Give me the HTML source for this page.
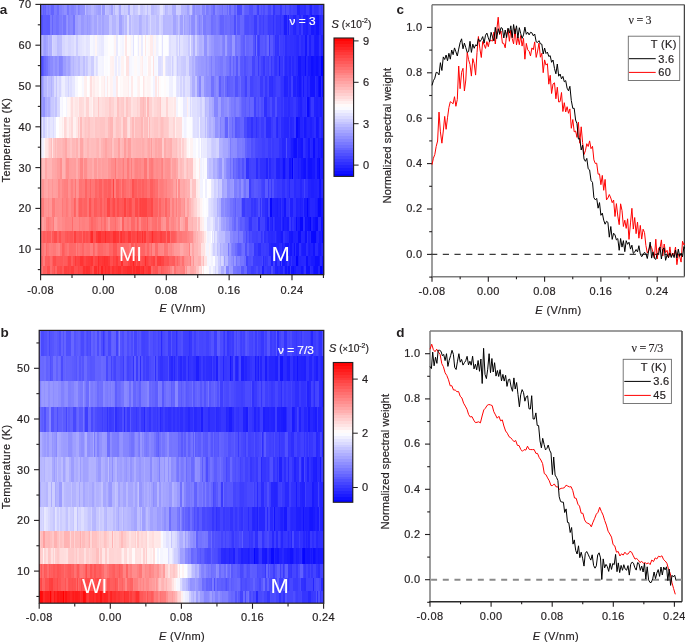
<!DOCTYPE html>
<html><head><meta charset="utf-8"><style>
html,body{margin:0;padding:0;background:#fff;}
body{width:685px;height:643px;position:relative;overflow:hidden;font-family:"Liberation Sans",sans-serif;}
.hb{position:absolute;}
svg{position:absolute;left:0;top:0;will-change:transform;}
svg text{font-family:"Liberation Sans",sans-serif;letter-spacing:0.35px;}
</style></head><body>
<div class="hb" style="left:40.6px;top:4.4px;width:283.2px;height:11.0px;background:linear-gradient(90deg,#6c6cff 0.0px 2.0px,#6060ff 2.0px 3.0px,#6767ff 3.0px 4.0px,#6262ff 4.0px 5.0px,#7373ff 5.0px 6.5px,#6c6cff 6.5px 7.5px,#7575ff 7.5px 9.0px,#7373ff 9.0px 10.0px,#6464ff 10.0px 11.5px,#6565ff 11.5px 12.5px,#7a7aff 12.5px 15.0px,#7878ff 15.0px 16.5px,#6c6cff 16.5px 18.5px,#8181ff 18.5px 20.5px,#8989ff 20.5px 22.0px,#8888ff 22.0px 23.5px,#9090ff 23.5px 25.5px,#8e8eff 25.5px 26.5px,#7777ff 26.5px 28.0px,#8888ff 28.0px 30.0px,#8181ff 30.0px 33.0px,#8888ff 33.0px 35.0px,#9696ff 35.0px 36.5px,#8282ff 36.5px 38.0px,#8989ff 38.0px 39.0px,#9191ff 39.0px 41.0px,#9292ff 41.0px 44.0px,#babaff 44.0px 45.0px,#a3a3ff 45.0px 47.5px,#aaaaff 47.5px 50.5px,#b5b5ff 50.5px 53.0px,#ababff 53.0px 55.0px,#a4a4ff 55.0px 57.0px,#9e9eff 57.0px 60.0px,#bdbdff 60.0px 61.0px,#9a9aff 61.0px 64.0px,#c3c3ff 64.0px 65.0px,#bcbcff 65.0px 68.0px,#b4b4ff 68.0px 70.0px,#a3a3ff 70.0px 72.0px,#c4c4ff 72.0px 73.0px,#b7b7ff 73.0px 74.0px,#ceceff 74.0px 77.0px,#c4c4ff 77.0px 78.5px,#aaaaff 78.5px 80.0px,#ceceff 80.0px 83.0px,#c6c6ff 83.0px 84.0px,#cbcbff 84.0px 86.0px,#cbcbff 86.0px 87.5px,#aeaeff 87.5px 89.5px,#d5d5ff 89.5px 92.0px,#c3c3ff 92.0px 94.5px,#cacaff 94.5px 96.0px,#ccccff 96.0px 97.5px,#ddddff 97.5px 99.0px,#cacaff 99.0px 100.5px,#c6c6ff 100.5px 102.5px,#cdcdff 102.5px 104.5px,#d7d7ff 104.5px 106.5px,#c1c1ff 106.5px 107.5px,#d5d5ff 107.5px 110.5px,#b9b9ff 110.5px 113.0px,#c0c0ff 113.0px 115.5px,#c7c7ff 115.5px 118.0px,#cfcfff 118.0px 119.0px,#e1e1ff 119.0px 122.0px,#ceceff 122.0px 123.5px,#ccccff 123.5px 124.5px,#b5b5ff 124.5px 125.5px,#bcbcff 125.5px 127.5px,#c8c8ff 127.5px 128.5px,#c4c4ff 128.5px 131.0px,#adadff 131.0px 132.5px,#ababff 132.5px 134.5px,#ceceff 134.5px 137.5px,#cdcdff 137.5px 140.5px,#b4b4ff 140.5px 143.5px,#b5b5ff 143.5px 144.5px,#b1b1ff 144.5px 146.5px,#a2a2ff 146.5px 148.0px,#b3b3ff 148.0px 149.0px,#c3c3ff 149.0px 151.0px,#9c9cff 151.0px 152.5px,#8b8bff 152.5px 154.5px,#9c9cff 154.5px 155.5px,#9494ff 155.5px 157.5px,#9393ff 157.5px 159.0px,#9b9bff 159.0px 161.0px,#8383ff 161.0px 162.5px,#8383ff 162.5px 164.0px,#9696ff 164.0px 165.5px,#7b7bff 165.5px 167.0px,#7f7fff 167.0px 168.5px,#8686ff 168.5px 169.5px,#8989ff 169.5px 170.5px,#7878ff 170.5px 172.0px,#6969ff 172.0px 174.0px,#8787ff 174.0px 176.0px,#8080ff 176.0px 178.0px,#7a7aff 178.0px 181.0px,#6f6fff 181.0px 182.5px,#7f7fff 182.5px 183.5px,#7b7bff 183.5px 186.5px,#6b6bff 186.5px 187.5px,#8080ff 187.5px 188.5px,#6464ff 188.5px 190.0px,#7575ff 190.0px 193.0px,#6262ff 193.0px 195.0px,#7171ff 195.0px 196.0px,#4a4aff 196.0px 198.5px,#4d4dff 198.5px 201.5px,#7171ff 201.5px 203.0px,#6262ff 203.0px 204.5px,#5d5dff 204.5px 207.5px,#5050ff 207.5px 209.0px,#4f4fff 209.0px 212.0px,#5e5eff 212.0px 214.0px,#6161ff 214.0px 215.0px,#5959ff 215.0px 216.0px,#4242ff 216.0px 217.0px,#3d3dff 217.0px 218.5px,#5959ff 218.5px 220.0px,#4f4fff 220.0px 221.0px,#5858ff 221.0px 222.5px,#4d4dff 222.5px 224.5px,#5959ff 224.5px 226.0px,#5555ff 226.0px 227.0px,#4646ff 227.0px 230.0px,#5555ff 230.0px 232.5px,#3535ff 232.5px 234.0px,#4646ff 234.0px 235.5px,#4747ff 235.5px 238.5px,#3737ff 238.5px 240.0px,#3939ff 240.0px 241.5px,#4e4eff 241.5px 243.0px,#5050ff 243.0px 244.0px,#3d3dff 244.0px 245.0px,#4e4eff 245.0px 248.0px,#4444ff 248.0px 249.0px,#3e3eff 249.0px 250.5px,#4545ff 250.5px 252.5px,#4040ff 252.5px 255.5px,#3f3fff 255.5px 256.5px,#2424ff 256.5px 259.5px,#3131ff 259.5px 261.5px,#3232ff 261.5px 263.0px,#2d2dff 263.0px 265.0px,#3d3dff 265.0px 268.0px,#3131ff 268.0px 269.5px,#2222ff 269.5px 271.5px,#3a3aff 271.5px 273.0px,#3131ff 273.0px 274.0px,#3131ff 274.0px 276.5px,#3636ff 276.5px 278.0px,#4343ff 278.0px 280.5px,#3a3aff 280.5px 281.5px,#4141ff 281.5px 283.0px,#2c2cff 283.0px 283.2px)"></div>
<div class="hb" style="left:40.6px;top:14.6px;width:283.2px;height:21.0px;background:linear-gradient(90deg,#5353ff 0.0px 1.5px,#5d5dff 1.5px 4.5px,#5c5cff 4.5px 6.0px,#5b5bff 6.0px 9.0px,#7a7aff 9.0px 10.5px,#6666ff 10.5px 12.0px,#7777ff 12.0px 14.5px,#7070ff 14.5px 17.0px,#7272ff 17.0px 18.5px,#7c7cff 18.5px 20.5px,#7474ff 20.5px 21.5px,#8686ff 21.5px 22.5px,#7676ff 22.5px 25.0px,#8e8eff 25.0px 26.0px,#9595ff 26.0px 27.0px,#8181ff 27.0px 28.0px,#8484ff 28.0px 29.0px,#8989ff 29.0px 30.5px,#8989ff 30.5px 32.5px,#7676ff 32.5px 34.5px,#9d9dff 34.5px 37.0px,#a6a6ff 37.0px 40.0px,#9898ff 40.0px 42.0px,#9999ff 42.0px 43.5px,#a1a1ff 43.5px 46.0px,#9797ff 46.0px 47.0px,#9f9fff 47.0px 48.0px,#9b9bff 48.0px 49.5px,#a0a0ff 49.5px 50.5px,#a7a7ff 50.5px 51.5px,#aeaeff 51.5px 53.5px,#a4a4ff 53.5px 55.5px,#b7b7ff 55.5px 57.0px,#ababff 57.0px 58.0px,#a7a7ff 58.0px 59.5px,#b0b0ff 59.5px 61.5px,#a3a3ff 61.5px 63.5px,#acacff 63.5px 66.5px,#acacff 66.5px 68.0px,#c4c4ff 68.0px 70.0px,#c4c4ff 70.0px 71.0px,#b4b4ff 71.0px 72.5px,#b5b5ff 72.5px 75.5px,#c3c3ff 75.5px 78.0px,#a2a2ff 78.0px 81.0px,#b3b3ff 81.0px 83.0px,#c4c4ff 83.0px 84.5px,#b9b9ff 84.5px 86.0px,#dbdbff 86.0px 88.5px,#b9b9ff 88.5px 90.0px,#ccccff 90.0px 91.0px,#c4c4ff 91.0px 93.0px,#bfbfff 93.0px 95.5px,#c1c1ff 95.5px 98.0px,#b0b0ff 98.0px 100.0px,#b4b4ff 100.0px 101.0px,#c2c2ff 101.0px 104.0px,#c7c7ff 104.0px 105.0px,#b9b9ff 105.0px 107.0px,#c8c8ff 107.0px 109.0px,#d7d7ff 109.0px 110.5px,#c6c6ff 110.5px 112.0px,#c6c6ff 112.0px 114.0px,#cbcbff 114.0px 115.0px,#bfbfff 115.0px 118.0px,#d3d3ff 118.0px 119.5px,#d4d4ff 119.5px 120.5px,#ccccff 120.5px 122.0px,#b6b6ff 122.0px 124.5px,#b8b8ff 124.5px 126.5px,#b8b8ff 126.5px 128.5px,#b7b7ff 128.5px 130.0px,#babaff 130.0px 132.5px,#a4a4ff 132.5px 135.5px,#b0b0ff 135.5px 137.0px,#c2c2ff 137.0px 138.5px,#b9b9ff 138.5px 139.5px,#a0a0ff 139.5px 142.0px,#bcbcff 142.0px 143.5px,#a0a0ff 143.5px 144.5px,#aaaaff 144.5px 146.0px,#a6a6ff 146.0px 148.0px,#9898ff 148.0px 149.0px,#a8a8ff 149.0px 150.0px,#9191ff 150.0px 151.0px,#8d8dff 151.0px 154.0px,#a9a9ff 154.0px 156.0px,#9292ff 156.0px 157.0px,#8f8fff 157.0px 158.0px,#8181ff 158.0px 159.0px,#8d8dff 159.0px 161.0px,#9c9cff 161.0px 162.5px,#7b7bff 162.5px 165.5px,#8383ff 165.5px 168.5px,#8181ff 168.5px 170.5px,#6e6eff 170.5px 172.0px,#7373ff 172.0px 173.0px,#7474ff 173.0px 175.0px,#7c7cff 175.0px 176.5px,#7676ff 176.5px 178.5px,#6e6eff 178.5px 179.5px,#6262ff 179.5px 181.5px,#6363ff 181.5px 183.5px,#7070ff 183.5px 184.5px,#6a6aff 184.5px 186.0px,#6d6dff 186.0px 189.0px,#6565ff 189.0px 190.0px,#6868ff 190.0px 193.0px,#4e4eff 193.0px 195.0px,#6f6fff 195.0px 196.5px,#5858ff 196.5px 197.5px,#5858ff 197.5px 199.5px,#6767ff 199.5px 201.5px,#6666ff 201.5px 203.5px,#5353ff 203.5px 204.5px,#4c4cff 204.5px 207.5px,#5252ff 207.5px 210.0px,#4e4eff 210.0px 213.0px,#3c3cff 213.0px 216.0px,#5252ff 216.0px 218.5px,#4242ff 218.5px 220.5px,#4848ff 220.5px 222.5px,#3e3eff 222.5px 223.5px,#4a4aff 223.5px 226.0px,#4646ff 226.0px 227.0px,#3b3bff 227.0px 228.0px,#3c3cff 228.0px 230.0px,#3e3eff 230.0px 232.5px,#3131ff 232.5px 233.5px,#4040ff 233.5px 235.5px,#3535ff 235.5px 236.5px,#3737ff 236.5px 238.5px,#3232ff 238.5px 240.0px,#3a3aff 240.0px 242.0px,#3333ff 242.0px 243.5px,#1c1cff 243.5px 246.0px,#3535ff 246.0px 247.0px,#2020ff 247.0px 248.5px,#3f3fff 248.5px 249.5px,#3232ff 249.5px 252.5px,#2626ff 252.5px 254.0px,#2424ff 254.0px 255.0px,#3030ff 255.0px 256.5px,#3434ff 256.5px 258.5px,#2828ff 258.5px 260.5px,#3a3aff 260.5px 262.5px,#2222ff 262.5px 265.0px,#1e1eff 265.0px 267.5px,#2828ff 267.5px 268.5px,#2a2aff 268.5px 270.0px,#1818ff 270.0px 273.0px,#1e1eff 273.0px 275.0px,#1414ff 275.0px 278.0px,#2626ff 278.0px 279.5px,#2626ff 279.5px 280.5px,#2c2cff 280.5px 282.5px,#1010ff 282.5px 283.2px)"></div>
<div class="hb" style="left:40.6px;top:34.8px;width:283.2px;height:21.5px;background:linear-gradient(90deg,#b2b2ff 0.0px 1.5px,#a5a5ff 1.5px 2.5px,#9d9dff 2.5px 5.0px,#a5a5ff 5.0px 6.5px,#b6b6ff 6.5px 7.5px,#aeaeff 7.5px 10.5px,#d5d5ff 10.5px 12.0px,#cfcfff 12.0px 13.5px,#ccccff 13.5px 16.0px,#bcbcff 16.0px 18.5px,#bfbfff 18.5px 20.5px,#d2d2ff 20.5px 21.5px,#d6d6ff 21.5px 24.5px,#dcdcff 24.5px 27.5px,#d5d5ff 27.5px 30.5px,#dadaff 30.5px 33.5px,#e2e2ff 33.5px 35.0px,#ceceff 35.0px 36.5px,#e0e0ff 36.5px 39.5px,#e2e2ff 39.5px 40.5px,#e6e6ff 40.5px 42.0px,#e6e6ff 42.0px 43.5px,#eaeaff 43.5px 45.5px,#e3e3ff 45.5px 47.0px,#e5e5ff 47.0px 49.5px,#f8f8ff 49.5px 50.5px,#f7f7ff 50.5px 52.0px,#f2f2ff 52.0px 54.5px,#fff5f5 54.5px 55.5px,#d2d2ff 55.5px 56.5px,#efefff 56.5px 58.5px,#ececff 58.5px 60.5px,#e8e8ff 60.5px 63.5px,#f8f8ff 63.5px 65.0px,#f9f9ff 65.0px 67.5px,#fffdfd 67.5px 69.5px,#fdfdff 69.5px 72.0px,#fafaff 72.0px 73.0px,#fff3f3 73.0px 75.0px,#e9e9ff 75.0px 76.5px,#fcfcff 76.5px 79.0px,#f8f8ff 79.0px 81.0px,#f4f4ff 81.0px 83.0px,#fffbfb 83.0px 84.0px,#ffe6e6 84.0px 86.0px,#fcfcff 86.0px 87.5px,#fffbfb 87.5px 89.5px,#fff6f6 89.5px 90.5px,#f7f7ff 90.5px 92.0px,#e3e3ff 92.0px 93.5px,#fefeff 93.5px 94.5px,#ffffff 94.5px 96.0px,#fafaff 96.0px 97.0px,#ececff 97.0px 98.5px,#fff9f9 98.5px 100.0px,#ebebff 100.0px 102.5px,#fffdfd 102.5px 104.5px,#ffe8e8 104.5px 105.5px,#fbfbff 105.5px 107.5px,#fff8f8 107.5px 109.0px,#ffebeb 109.0px 112.0px,#f3f3ff 112.0px 113.0px,#fff5f5 113.0px 115.0px,#f1f1ff 115.0px 117.0px,#f7f7ff 117.0px 118.0px,#fefeff 118.0px 120.0px,#f8f8ff 120.0px 121.0px,#e3e3ff 121.0px 122.5px,#fdfdff 122.5px 124.5px,#fdfdff 124.5px 127.0px,#f6f6ff 127.0px 128.5px,#dfdfff 128.5px 130.5px,#e5e5ff 130.5px 132.5px,#e5e5ff 132.5px 134.5px,#d6d6ff 134.5px 137.0px,#e8e8ff 137.0px 138.5px,#cdcdff 138.5px 139.5px,#e1e1ff 139.5px 142.0px,#dadaff 142.0px 143.0px,#d8d8ff 143.0px 145.0px,#d6d6ff 145.0px 147.0px,#c9c9ff 147.0px 149.0px,#e6e6ff 149.0px 150.0px,#c6c6ff 150.0px 152.0px,#b1b1ff 152.0px 154.0px,#d1d1ff 154.0px 156.0px,#bbbbff 156.0px 157.0px,#bbbbff 157.0px 158.0px,#afafff 158.0px 161.0px,#b5b5ff 161.0px 163.5px,#9292ff 163.5px 166.5px,#adadff 166.5px 168.0px,#a0a0ff 168.0px 170.0px,#9898ff 170.0px 171.5px,#9797ff 171.5px 173.5px,#8c8cff 173.5px 176.5px,#a4a4ff 176.5px 177.5px,#8e8eff 177.5px 179.0px,#9494ff 179.0px 181.5px,#8585ff 181.5px 182.5px,#7f7fff 182.5px 184.5px,#9e9eff 184.5px 186.0px,#8282ff 186.0px 187.0px,#7d7dff 187.0px 189.0px,#7979ff 189.0px 191.5px,#9797ff 191.5px 194.5px,#7373ff 194.5px 196.0px,#7b7bff 196.0px 197.5px,#7979ff 197.5px 199.0px,#7070ff 199.0px 200.0px,#6363ff 200.0px 202.0px,#5d5dff 202.0px 204.0px,#7474ff 204.0px 205.5px,#6565ff 205.5px 208.5px,#6a6aff 208.5px 210.0px,#6b6bff 210.0px 212.0px,#5353ff 212.0px 214.0px,#3f3fff 214.0px 215.0px,#6f6fff 215.0px 216.5px,#4444ff 216.5px 217.5px,#3a3aff 217.5px 218.5px,#4141ff 218.5px 219.5px,#5656ff 219.5px 222.5px,#5959ff 222.5px 224.5px,#5050ff 224.5px 225.5px,#5858ff 225.5px 226.5px,#6767ff 226.5px 228.0px,#3a3aff 228.0px 229.0px,#5757ff 229.0px 232.0px,#4747ff 232.0px 234.0px,#3232ff 234.0px 235.0px,#3535ff 235.0px 236.0px,#3232ff 236.0px 238.0px,#4747ff 238.0px 239.5px,#3e3eff 239.5px 240.5px,#3e3eff 240.5px 242.0px,#3a3aff 242.0px 243.5px,#3e3eff 243.5px 244.5px,#2d2dff 244.5px 246.5px,#3333ff 246.5px 248.0px,#3333ff 248.0px 249.0px,#3131ff 249.0px 252.0px,#3232ff 252.0px 253.0px,#2f2fff 253.0px 255.5px,#2b2bff 255.5px 256.5px,#2929ff 256.5px 258.0px,#3434ff 258.0px 260.0px,#2a2aff 260.0px 262.0px,#2e2eff 262.0px 264.0px,#1717ff 264.0px 266.5px,#3434ff 266.5px 268.5px,#1f1fff 268.5px 270.0px,#2e2eff 270.0px 271.0px,#2f2fff 271.0px 273.5px,#1e1eff 273.5px 274.5px,#1a1aff 274.5px 277.0px,#1d1dff 277.0px 278.5px,#2f2fff 278.5px 280.0px,#2121ff 280.0px 282.5px,#0707ff 282.5px 283.2px)"></div>
<div class="hb" style="left:40.6px;top:55.5px;width:283.2px;height:21.1px;background:linear-gradient(90deg,#5252ff 0.0px 1.5px,#5e5eff 1.5px 3.0px,#6b6bff 3.0px 4.5px,#7373ff 4.5px 5.5px,#7474ff 5.5px 7.0px,#8484ff 7.0px 9.0px,#8b8bff 9.0px 12.0px,#9696ff 12.0px 14.0px,#8d8dff 14.0px 16.5px,#9696ff 16.5px 17.5px,#8383ff 17.5px 19.0px,#8585ff 19.0px 20.5px,#8a8aff 20.5px 22.0px,#9d9dff 22.0px 25.0px,#a9a9ff 25.0px 27.5px,#a3a3ff 27.5px 29.0px,#afafff 29.0px 30.5px,#bcbcff 30.5px 32.0px,#b5b5ff 32.0px 33.0px,#c0c0ff 33.0px 35.0px,#c4c4ff 35.0px 37.0px,#bcbcff 37.0px 39.5px,#cdcdff 39.5px 42.0px,#bfbfff 42.0px 44.0px,#d2d2ff 44.0px 45.0px,#c7c7ff 45.0px 46.0px,#cbcbff 46.0px 47.5px,#dbdbff 47.5px 50.5px,#cdcdff 50.5px 53.5px,#eaeaff 53.5px 55.0px,#ddddff 55.0px 56.0px,#e3e3ff 56.0px 57.5px,#f5f5ff 57.5px 60.5px,#f5f5ff 60.5px 61.5px,#f3f3ff 61.5px 63.5px,#fffdfd 63.5px 64.5px,#fbfbff 64.5px 67.0px,#fefeff 67.0px 68.5px,#fcfcff 68.5px 69.5px,#fff2f2 69.5px 71.0px,#fff0f0 71.0px 73.0px,#f6f6ff 73.0px 74.5px,#ececff 74.5px 76.0px,#fff9f9 76.0px 77.0px,#f0f0ff 77.0px 79.0px,#f7f7ff 79.0px 80.5px,#fff2f2 80.5px 83.5px,#fdfdff 83.5px 85.0px,#ffe2e2 85.0px 88.0px,#f2f2ff 88.0px 89.5px,#f7f7ff 89.5px 91.0px,#fafaff 91.0px 93.0px,#fff9f9 93.0px 95.5px,#fafaff 95.5px 97.0px,#f9f9ff 97.0px 99.0px,#fff4f4 99.0px 101.5px,#ffecec 101.5px 102.5px,#fafaff 102.5px 103.5px,#f9f9ff 103.5px 106.5px,#fffdfd 106.5px 107.5px,#ffeeee 107.5px 110.0px,#fcfcff 110.0px 112.0px,#ffe0e0 112.0px 113.5px,#f7f7ff 113.5px 115.5px,#fafaff 115.5px 117.0px,#dedeff 117.0px 118.5px,#ddddff 118.5px 120.5px,#e2e2ff 120.5px 122.5px,#fff8f8 122.5px 124.5px,#e8e8ff 124.5px 125.5px,#dedeff 125.5px 127.5px,#dadaff 127.5px 130.0px,#e6e6ff 130.0px 131.0px,#d0d0ff 131.0px 132.5px,#dfdfff 132.5px 133.5px,#eaeaff 133.5px 134.5px,#dfdfff 134.5px 136.5px,#cacaff 136.5px 137.5px,#d4d4ff 137.5px 140.0px,#ccccff 140.0px 142.0px,#c9c9ff 142.0px 145.0px,#d9d9ff 145.0px 146.5px,#d7d7ff 146.5px 148.0px,#bcbcff 148.0px 149.5px,#bdbdff 149.5px 151.0px,#b0b0ff 151.0px 153.0px,#b9b9ff 153.0px 154.0px,#a8a8ff 154.0px 155.0px,#a2a2ff 155.0px 157.0px,#9c9cff 157.0px 160.0px,#9898ff 160.0px 163.0px,#9a9aff 163.0px 164.5px,#9797ff 164.5px 165.5px,#8e8eff 165.5px 166.5px,#9797ff 166.5px 167.5px,#9e9eff 167.5px 168.5px,#8d8dff 168.5px 170.0px,#7e7eff 170.0px 171.5px,#8d8dff 171.5px 174.0px,#7f7fff 174.0px 175.5px,#8181ff 175.5px 176.5px,#7d7dff 176.5px 179.5px,#7878ff 179.5px 182.0px,#8383ff 182.0px 185.0px,#7979ff 185.0px 186.5px,#7777ff 186.5px 188.0px,#6c6cff 188.0px 189.0px,#6161ff 189.0px 190.0px,#7878ff 190.0px 192.0px,#6464ff 192.0px 193.0px,#7171ff 193.0px 195.5px,#5858ff 195.5px 197.5px,#7575ff 197.5px 199.0px,#5b5bff 199.0px 200.0px,#5757ff 200.0px 202.0px,#5b5bff 202.0px 203.5px,#4f4fff 203.5px 205.0px,#5757ff 205.0px 207.0px,#5c5cff 207.0px 208.5px,#5d5dff 208.5px 211.0px,#4444ff 211.0px 214.0px,#5353ff 214.0px 217.0px,#3939ff 217.0px 218.0px,#4e4eff 218.0px 220.5px,#4242ff 220.5px 222.5px,#3737ff 222.5px 224.0px,#4a4aff 224.0px 225.5px,#4444ff 225.5px 227.0px,#3f3fff 227.0px 228.5px,#4d4dff 228.5px 230.5px,#3838ff 230.5px 231.5px,#4444ff 231.5px 232.5px,#4545ff 232.5px 233.5px,#3737ff 233.5px 234.5px,#3232ff 234.5px 236.5px,#3d3dff 236.5px 238.0px,#2020ff 238.0px 239.0px,#3737ff 239.0px 241.5px,#3535ff 241.5px 242.5px,#4545ff 242.5px 243.5px,#3434ff 243.5px 244.5px,#2828ff 244.5px 246.5px,#2e2eff 246.5px 248.0px,#2626ff 248.0px 250.0px,#3535ff 250.0px 251.0px,#2929ff 251.0px 253.0px,#3131ff 253.0px 255.0px,#2929ff 255.0px 257.0px,#1616ff 257.0px 260.0px,#2121ff 260.0px 262.0px,#2020ff 262.0px 264.5px,#0f0fff 264.5px 265.5px,#2727ff 265.5px 267.5px,#1a1aff 267.5px 270.5px,#0f0fff 270.5px 272.0px,#1313ff 272.0px 273.0px,#1616ff 273.0px 275.5px,#1010ff 275.5px 276.5px,#1717ff 276.5px 277.5px,#1515ff 277.5px 278.5px,#1b1bff 278.5px 280.0px,#0000ff 280.0px 283.0px,#0505ff 283.0px 283.2px)"></div>
<div class="hb" style="left:40.6px;top:75.8px;width:283.2px;height:21.5px;background:linear-gradient(90deg,#9a9aff 0.0px 1.5px,#a9a9ff 1.5px 3.0px,#b8b8ff 3.0px 6.0px,#c9c9ff 6.0px 7.0px,#bebeff 7.0px 10.0px,#b2b2ff 10.0px 11.0px,#c1c1ff 11.0px 13.0px,#dadaff 13.0px 15.5px,#c6c6ff 15.5px 16.5px,#dedeff 16.5px 18.5px,#d5d5ff 18.5px 20.0px,#e7e7ff 20.0px 21.5px,#eeeeff 21.5px 24.0px,#e1e1ff 24.0px 27.0px,#d4d4ff 27.0px 28.5px,#e4e4ff 28.5px 29.5px,#dedeff 29.5px 31.5px,#e7e7ff 31.5px 34.5px,#f7f7ff 34.5px 36.5px,#ffffff 36.5px 38.5px,#ffffff 38.5px 40.0px,#fffdfd 40.0px 41.5px,#f8f8ff 41.5px 43.0px,#ffefef 43.0px 44.5px,#ffeeee 44.5px 46.0px,#fefeff 46.0px 48.0px,#fff8f8 48.0px 49.5px,#ffdede 49.5px 51.5px,#fff1f1 51.5px 52.5px,#ffebeb 52.5px 54.0px,#fff4f4 54.0px 56.5px,#fff2f2 56.5px 58.5px,#fffdfd 58.5px 60.5px,#fff3f3 60.5px 61.5px,#fff3f3 61.5px 63.5px,#ffeaea 63.5px 64.5px,#f9f9ff 64.5px 65.5px,#ffe9e9 65.5px 67.0px,#fffafa 67.0px 69.0px,#fff2f2 69.0px 71.5px,#fff4f4 71.5px 72.5px,#f4f4ff 72.5px 75.0px,#ffe8e8 75.0px 77.5px,#fffefe 77.5px 79.0px,#fff8f8 79.0px 80.5px,#fffafa 80.5px 82.5px,#fff4f4 82.5px 84.5px,#fff4f4 84.5px 87.0px,#ffeded 87.0px 88.5px,#fbfbff 88.5px 90.0px,#ffeaea 90.0px 92.0px,#fffcfc 92.0px 93.0px,#fcfcff 93.0px 95.5px,#fff4f4 95.5px 97.0px,#fff0f0 97.0px 99.0px,#fffefe 99.0px 102.0px,#ffe5e5 102.0px 103.0px,#fff0f0 103.0px 104.5px,#fff8f8 104.5px 106.0px,#fff4f4 106.0px 109.0px,#fff7f7 109.0px 110.5px,#fdfdff 110.5px 112.5px,#f3f3ff 112.5px 114.5px,#ffe6e6 114.5px 116.0px,#fafaff 116.0px 117.5px,#ffe9e9 117.5px 118.5px,#fffbfb 118.5px 120.5px,#fefeff 120.5px 123.0px,#fffbfb 123.0px 125.5px,#fcfcff 125.5px 128.0px,#f1f1ff 128.0px 130.0px,#f0f0ff 130.0px 132.0px,#fbfbff 132.0px 134.5px,#e6e6ff 134.5px 136.0px,#e1e1ff 136.0px 138.5px,#e7e7ff 138.5px 139.5px,#d5d5ff 139.5px 141.0px,#e3e3ff 141.0px 142.5px,#d1d1ff 142.5px 144.0px,#e1e1ff 144.0px 146.5px,#dedeff 146.5px 149.5px,#c3c3ff 149.5px 151.0px,#aeaeff 151.0px 154.0px,#c4c4ff 154.0px 156.0px,#9f9fff 156.0px 158.5px,#8787ff 158.5px 160.0px,#afafff 160.0px 163.0px,#9595ff 163.0px 165.0px,#8e8eff 165.0px 167.0px,#8f8fff 167.0px 170.0px,#7171ff 170.0px 173.0px,#8383ff 173.0px 175.0px,#8d8dff 175.0px 176.5px,#6e6eff 176.5px 177.5px,#8282ff 177.5px 178.5px,#5f5fff 178.5px 180.0px,#7171ff 180.0px 182.0px,#6f6fff 182.0px 183.0px,#7f7fff 183.0px 184.5px,#6868ff 184.5px 186.5px,#5757ff 186.5px 187.5px,#5e5eff 187.5px 189.0px,#6262ff 189.0px 192.0px,#6868ff 192.0px 194.5px,#5252ff 194.5px 196.0px,#5353ff 196.0px 197.0px,#6161ff 197.0px 199.0px,#6a6aff 199.0px 200.0px,#5555ff 200.0px 203.0px,#5151ff 203.0px 204.0px,#4242ff 204.0px 206.0px,#5c5cff 206.0px 209.0px,#4343ff 209.0px 212.0px,#4848ff 212.0px 213.5px,#4b4bff 213.5px 216.5px,#4f4fff 216.5px 217.5px,#4e4eff 217.5px 219.0px,#3a3aff 219.0px 222.0px,#4848ff 222.0px 224.0px,#3737ff 224.0px 226.5px,#4343ff 226.5px 227.5px,#4747ff 227.5px 228.5px,#2f2fff 228.5px 229.5px,#3030ff 229.5px 231.5px,#2d2dff 231.5px 232.5px,#3737ff 232.5px 234.0px,#3a3aff 234.0px 235.0px,#4141ff 235.0px 236.5px,#4242ff 236.5px 238.5px,#3b3bff 238.5px 240.5px,#3333ff 240.5px 243.5px,#2121ff 243.5px 245.0px,#2323ff 245.0px 247.0px,#3232ff 247.0px 248.0px,#2727ff 248.0px 250.0px,#4040ff 250.0px 252.5px,#2121ff 252.5px 254.5px,#2929ff 254.5px 256.5px,#1d1dff 256.5px 258.0px,#1616ff 258.0px 260.0px,#2222ff 260.0px 261.5px,#2e2eff 261.5px 262.5px,#1919ff 262.5px 263.5px,#2c2cff 263.5px 266.0px,#1e1eff 266.0px 267.0px,#2525ff 267.0px 268.0px,#2727ff 268.0px 269.5px,#1515ff 269.5px 270.5px,#1414ff 270.5px 273.0px,#1414ff 273.0px 274.0px,#2d2dff 274.0px 275.5px,#2121ff 275.5px 277.0px,#1111ff 277.0px 278.0px,#0808ff 278.0px 280.5px,#2828ff 280.5px 281.5px,#1111ff 281.5px 283.2px)"></div>
<div class="hb" style="left:40.6px;top:96.5px;width:283.2px;height:21.4px;background:linear-gradient(90deg,#9b9bff 0.0px 1.5px,#9292ff 1.5px 3.5px,#acacff 3.5px 5.5px,#b5b5ff 5.5px 6.5px,#adadff 6.5px 9.0px,#bdbdff 9.0px 10.0px,#c8c8ff 10.0px 13.0px,#d1d1ff 13.0px 14.0px,#c3c3ff 14.0px 16.5px,#d9d9ff 16.5px 19.5px,#f9f9ff 19.5px 20.5px,#f5f5ff 20.5px 22.0px,#fefeff 22.0px 25.0px,#f4f4ff 25.0px 26.0px,#fff6f6 26.0px 29.0px,#ffecec 29.0px 30.0px,#ffdddd 30.0px 32.5px,#ffecec 32.5px 33.5px,#ffebeb 33.5px 34.5px,#ffe5e5 34.5px 37.5px,#ffebeb 37.5px 38.5px,#ffd9d9 38.5px 41.5px,#ffdcdc 41.5px 43.0px,#ffe9e9 43.0px 44.5px,#ffe7e7 44.5px 45.5px,#ffd4d4 45.5px 48.5px,#ffebeb 48.5px 51.5px,#fff3f3 51.5px 52.5px,#ffdbdb 52.5px 53.5px,#ffdcdc 53.5px 54.5px,#ffe2e2 54.5px 57.0px,#ffc8c8 57.0px 58.5px,#ffdfdf 58.5px 61.5px,#ffdbdb 61.5px 64.5px,#ffd6d6 64.5px 67.5px,#ffd7d7 67.5px 68.5px,#ffcaca 68.5px 70.5px,#ffd2d2 70.5px 73.0px,#ffdede 73.0px 76.0px,#ffc2c2 76.0px 78.0px,#ffd0d0 78.0px 80.0px,#ffcbcb 80.0px 82.0px,#ffc8c8 82.0px 83.0px,#ffdcdc 83.0px 85.0px,#ffc6c6 85.0px 87.5px,#ffd0d0 87.5px 90.0px,#ffe2e2 90.0px 92.5px,#ffdcdc 92.5px 95.5px,#ffd2d2 95.5px 97.5px,#ffd7d7 97.5px 99.5px,#ffc0c0 99.5px 102.0px,#ffb8b8 102.0px 103.0px,#ffc3c3 103.0px 105.0px,#ffdfdf 105.0px 106.5px,#ffb9b9 106.5px 108.5px,#ffd1d1 108.5px 111.5px,#ffdfdf 111.5px 113.5px,#ffd7d7 113.5px 116.5px,#ffd2d2 116.5px 119.0px,#ffc8c8 119.0px 120.5px,#ffe9e9 120.5px 122.5px,#ffeaea 122.5px 125.5px,#ffd5d5 125.5px 127.0px,#ffeaea 127.0px 128.0px,#ffeaea 128.0px 130.5px,#ffebeb 130.5px 132.5px,#ffefef 132.5px 133.5px,#ffe6e6 133.5px 135.5px,#f4f4ff 135.5px 137.5px,#fffefe 137.5px 139.0px,#fcfcff 139.0px 140.5px,#fbfbff 140.5px 142.5px,#e8e8ff 142.5px 144.5px,#e9e9ff 144.5px 146.0px,#ffeeee 146.0px 147.5px,#f2f2ff 147.5px 149.5px,#dcdcff 149.5px 150.5px,#ebebff 150.5px 151.5px,#dfdfff 151.5px 153.0px,#dfdfff 153.0px 155.0px,#e0e0ff 155.0px 156.0px,#dadaff 156.0px 159.0px,#cfcfff 159.0px 160.5px,#ddddff 160.5px 163.0px,#d6d6ff 163.0px 164.0px,#b9b9ff 164.0px 165.5px,#bfbfff 165.5px 167.5px,#ababff 167.5px 169.0px,#afafff 169.0px 171.5px,#a6a6ff 171.5px 173.5px,#8686ff 173.5px 176.5px,#9696ff 176.5px 177.5px,#9e9eff 177.5px 180.0px,#8282ff 180.0px 181.0px,#8585ff 181.0px 183.0px,#8d8dff 183.0px 184.0px,#8c8cff 184.0px 186.5px,#9494ff 186.5px 188.5px,#8585ff 188.5px 190.0px,#7b7bff 190.0px 191.0px,#7d7dff 191.0px 193.0px,#7575ff 193.0px 194.0px,#7575ff 194.0px 195.0px,#8080ff 195.0px 198.0px,#7777ff 198.0px 199.0px,#7474ff 199.0px 200.0px,#6868ff 200.0px 201.5px,#6060ff 201.5px 204.5px,#5b5bff 204.5px 205.5px,#6565ff 205.5px 208.0px,#5959ff 208.0px 209.0px,#6565ff 209.0px 212.0px,#6363ff 212.0px 213.5px,#4141ff 213.5px 214.5px,#5454ff 214.5px 217.5px,#4b4bff 217.5px 218.5px,#5757ff 218.5px 220.0px,#4b4bff 220.0px 222.0px,#5252ff 222.0px 223.5px,#2f2fff 223.5px 226.0px,#4040ff 226.0px 227.0px,#3f3fff 227.0px 229.0px,#4b4bff 229.0px 231.0px,#3838ff 231.0px 233.0px,#3939ff 233.0px 234.5px,#5050ff 234.5px 236.0px,#3838ff 236.0px 239.0px,#3a3aff 239.0px 240.5px,#3333ff 240.5px 242.5px,#3d3dff 242.5px 243.5px,#2e2eff 243.5px 245.5px,#3131ff 245.5px 247.0px,#2a2aff 247.0px 249.0px,#3131ff 249.0px 252.0px,#3737ff 252.0px 253.0px,#3939ff 253.0px 254.5px,#2e2eff 254.5px 257.5px,#2424ff 257.5px 259.0px,#2020ff 259.0px 261.0px,#2b2bff 261.0px 262.5px,#2e2eff 262.5px 264.0px,#2b2bff 264.0px 265.5px,#3535ff 265.5px 266.5px,#0a0aff 266.5px 268.0px,#1818ff 268.0px 269.0px,#2828ff 269.0px 270.5px,#3838ff 270.5px 273.5px,#2222ff 273.5px 275.5px,#1f1fff 275.5px 277.0px,#2323ff 277.0px 279.5px,#1e1eff 279.5px 281.0px,#2626ff 281.0px 282.5px,#1c1cff 282.5px 283.2px)"></div>
<div class="hb" style="left:40.6px;top:117.1px;width:283.2px;height:21.2px;background:linear-gradient(90deg,#ccccff 0.0px 1.0px,#e3e3ff 1.0px 2.0px,#ccccff 2.0px 4.0px,#dedeff 4.0px 5.5px,#ebebff 5.5px 7.0px,#e0e0ff 7.0px 9.0px,#e6e6ff 9.0px 11.5px,#dcdcff 11.5px 12.5px,#eaeaff 12.5px 14.5px,#ffffff 14.5px 17.5px,#fff7f7 17.5px 20.5px,#ffeeee 20.5px 22.0px,#fff5f5 22.0px 23.5px,#ffd7d7 23.5px 25.5px,#ffe0e0 25.5px 26.5px,#ffeeee 26.5px 28.5px,#ffe2e2 28.5px 29.5px,#ffe5e5 29.5px 30.5px,#ffd8d8 30.5px 32.5px,#fff2f2 32.5px 35.0px,#ffe6e6 35.0px 37.0px,#ffcdcd 37.0px 38.0px,#ffdddd 38.0px 39.0px,#ffbbbb 39.0px 40.5px,#ffd3d3 40.5px 42.0px,#ffd1d1 42.0px 43.5px,#ffcccc 43.5px 44.5px,#ffc5c5 44.5px 45.5px,#ffc9c9 45.5px 47.0px,#ffc2c2 47.0px 49.0px,#ffcdcd 49.0px 52.0px,#ffcfcf 52.0px 53.5px,#ffd1d1 53.5px 54.5px,#ffc6c6 54.5px 56.0px,#ffc8c8 56.0px 59.0px,#ffc4c4 59.0px 61.0px,#ffc4c4 61.0px 62.5px,#ffc4c4 62.5px 64.0px,#ffcccc 64.0px 67.0px,#ffbcbc 67.0px 69.5px,#ffb5b5 69.5px 72.0px,#ffd3d3 72.0px 74.5px,#ffcfcf 74.5px 75.5px,#ffc3c3 75.5px 78.0px,#ffc7c7 78.0px 80.0px,#ffd7d7 80.0px 82.0px,#ffb9b9 82.0px 84.5px,#ffbdbd 84.5px 86.5px,#ffd9d9 86.5px 87.5px,#ffe1e1 87.5px 89.5px,#ffc8c8 89.5px 91.5px,#ffb9b9 91.5px 93.0px,#ffd1d1 93.0px 94.0px,#ffbfbf 94.0px 96.0px,#ffc0c0 96.0px 98.0px,#ffbfbf 98.0px 100.5px,#ffb4b4 100.5px 102.0px,#ffcece 102.0px 103.5px,#ffbebe 103.5px 106.5px,#ffbbbb 106.5px 107.5px,#ffd9d9 107.5px 108.5px,#ffb9b9 108.5px 109.5px,#ffcfcf 109.5px 111.5px,#ffcbcb 111.5px 112.5px,#ffcbcb 112.5px 113.5px,#ffc6c6 113.5px 116.0px,#ffc5c5 116.0px 117.0px,#ffcdcd 117.0px 119.0px,#ffc4c4 119.0px 120.0px,#ffbebe 120.0px 122.0px,#ffc4c4 122.0px 123.5px,#ffcaca 123.5px 126.5px,#ffcfcf 126.5px 128.5px,#ffdfdf 128.5px 131.0px,#ffdfdf 131.0px 132.0px,#ffd5d5 132.0px 134.0px,#ffeeee 134.0px 135.5px,#ffdfdf 135.5px 138.0px,#ffdfdf 138.0px 141.0px,#f9f9ff 141.0px 143.0px,#f2f2ff 143.0px 145.0px,#f7f7ff 145.0px 146.0px,#fdfdff 146.0px 148.5px,#fcfcff 148.5px 151.0px,#f0f0ff 151.0px 152.5px,#dfdfff 152.5px 154.5px,#e1e1ff 154.5px 156.5px,#dcdcff 156.5px 158.0px,#f0f0ff 158.0px 159.5px,#d1d1ff 159.5px 160.5px,#cfcfff 160.5px 161.5px,#d4d4ff 161.5px 164.0px,#bfbfff 164.0px 165.0px,#d3d3ff 165.0px 166.5px,#bbbbff 166.5px 168.0px,#afafff 168.0px 170.5px,#b7b7ff 170.5px 172.0px,#aeaeff 172.0px 174.0px,#9393ff 174.0px 177.0px,#9b9bff 177.0px 179.0px,#8080ff 179.0px 180.5px,#8c8cff 180.5px 183.0px,#8484ff 183.0px 184.0px,#6363ff 184.0px 187.0px,#8e8eff 187.0px 188.5px,#7979ff 188.5px 191.0px,#6868ff 191.0px 192.0px,#7575ff 192.0px 194.5px,#5757ff 194.5px 196.5px,#5c5cff 196.5px 198.5px,#6464ff 198.5px 201.0px,#6565ff 201.0px 203.0px,#4b4bff 203.0px 206.0px,#3c3cff 206.0px 208.5px,#3e3eff 208.5px 210.5px,#3131ff 210.5px 212.0px,#3f3fff 212.0px 213.5px,#3f3fff 213.5px 214.5px,#3131ff 214.5px 216.0px,#3c3cff 216.0px 218.0px,#4444ff 218.0px 219.0px,#4646ff 219.0px 220.0px,#3b3bff 220.0px 223.0px,#4747ff 223.0px 225.0px,#2c2cff 225.0px 227.5px,#2c2cff 227.5px 230.0px,#3a3aff 230.0px 232.0px,#4242ff 232.0px 235.0px,#2c2cff 235.0px 236.5px,#2626ff 236.5px 237.5px,#3737ff 237.5px 239.0px,#3c3cff 239.0px 240.5px,#2c2cff 240.5px 243.5px,#2727ff 243.5px 245.5px,#1c1cff 245.5px 246.5px,#2626ff 246.5px 248.0px,#3434ff 248.0px 249.0px,#2626ff 249.0px 251.0px,#2a2aff 251.0px 253.0px,#3939ff 253.0px 255.0px,#0a0aff 255.0px 257.5px,#1414ff 257.5px 259.0px,#2424ff 259.0px 260.5px,#2424ff 260.5px 262.0px,#2929ff 262.0px 263.0px,#1818ff 263.0px 265.0px,#1f1fff 265.0px 266.0px,#2525ff 266.0px 268.5px,#2424ff 268.5px 269.5px,#1f1fff 269.5px 271.5px,#2626ff 271.5px 272.5px,#2727ff 272.5px 273.5px,#2e2eff 273.5px 275.5px,#1717ff 275.5px 277.0px,#1b1bff 277.0px 278.0px,#2a2aff 278.0px 279.5px,#2f2fff 279.5px 280.5px,#2525ff 280.5px 281.5px,#2222ff 281.5px 283.2px)"></div>
<div class="hb" style="left:40.6px;top:137.5px;width:283.2px;height:21.2px;background:linear-gradient(90deg,#f1f1ff 0.0px 3.0px,#fff7f7 3.0px 4.0px,#ffe6e6 4.0px 5.0px,#ffe4e4 5.0px 6.5px,#ffd8d8 6.5px 8.0px,#ffcbcb 8.0px 10.0px,#ffbdbd 10.0px 11.0px,#ffe1e1 11.0px 12.0px,#ffc4c4 12.0px 14.0px,#ffb8b8 14.0px 15.0px,#ffc3c3 15.0px 16.0px,#ffb8b8 16.0px 17.0px,#ffb8b8 17.0px 20.0px,#ffbbbb 20.0px 21.5px,#ffb6b6 21.5px 22.5px,#ffb1b1 22.5px 24.0px,#ffa7a7 24.0px 26.0px,#ffbcbc 26.0px 29.0px,#ffc4c4 29.0px 31.0px,#ffb8b8 31.0px 34.0px,#ffbcbc 34.0px 35.0px,#ffb1b1 35.0px 36.5px,#ffc4c4 36.5px 39.0px,#ffa6a6 39.0px 42.0px,#ffb9b9 42.0px 43.0px,#ffc3c3 43.0px 44.5px,#ffbfbf 44.5px 46.0px,#ffb5b5 46.0px 48.0px,#ffbfbf 48.0px 50.5px,#ffbcbc 50.5px 53.0px,#ffbdbd 53.0px 55.0px,#ffb7b7 55.0px 56.0px,#ffb4b4 56.0px 58.5px,#ffc2c2 58.5px 60.0px,#ffb4b4 60.0px 62.5px,#ffaeae 62.5px 64.0px,#ffa4a4 64.0px 66.5px,#ffafaf 66.5px 68.5px,#ffb1b1 68.5px 70.0px,#ffabab 70.0px 71.5px,#ffc2c2 71.5px 73.5px,#ffb3b3 73.5px 76.5px,#ffa1a1 76.5px 79.5px,#ffbbbb 79.5px 81.0px,#ffb5b5 81.0px 83.0px,#ff9c9c 83.0px 85.5px,#ffaeae 85.5px 87.0px,#ff9e9e 87.0px 88.5px,#ff9f9f 88.5px 90.0px,#ffb7b7 90.0px 92.0px,#ffb3b3 92.0px 95.0px,#ffb0b0 95.0px 96.5px,#ffb0b0 96.5px 99.0px,#ffafaf 99.0px 100.0px,#ffb3b3 100.0px 101.0px,#ffacac 101.0px 103.5px,#ffb2b2 103.5px 104.5px,#ffb6b6 104.5px 106.5px,#ffaeae 106.5px 107.5px,#ffa7a7 107.5px 109.0px,#ffb1b1 109.0px 110.5px,#ff9d9d 110.5px 111.5px,#ffb6b6 111.5px 112.5px,#ffb2b2 112.5px 114.5px,#ffa7a7 114.5px 116.0px,#ffadad 116.0px 117.5px,#ffa7a7 117.5px 119.5px,#ffa8a8 119.5px 121.5px,#ffcbcb 121.5px 123.5px,#ffabab 123.5px 125.0px,#ffb6b6 125.0px 127.0px,#ffb3b3 127.0px 129.0px,#ffaeae 129.0px 131.5px,#ffc3c3 131.5px 134.5px,#ffbfbf 134.5px 136.0px,#ffcdcd 136.0px 137.0px,#ffd2d2 137.0px 138.5px,#ffcaca 138.5px 140.0px,#ffe2e2 140.0px 141.0px,#ffd0d0 141.0px 143.5px,#ffdede 143.5px 145.0px,#ffe8e8 145.0px 146.0px,#fff7f7 146.0px 148.0px,#fffdfd 148.0px 149.5px,#fff3f3 149.5px 152.5px,#f8f8ff 152.5px 155.0px,#fefeff 155.0px 157.0px,#f4f4ff 157.0px 159.0px,#fefeff 159.0px 160.0px,#e7e7ff 160.0px 161.0px,#eeeeff 161.0px 162.5px,#eaeaff 162.5px 164.5px,#eaeaff 164.5px 166.0px,#dbdbff 166.0px 167.0px,#dcdcff 167.0px 169.5px,#cfcfff 169.5px 171.0px,#cacaff 171.0px 173.0px,#ccccff 173.0px 175.5px,#d3d3ff 175.5px 178.5px,#b2b2ff 178.5px 181.5px,#afafff 181.5px 182.5px,#a7a7ff 182.5px 184.0px,#a7a7ff 184.0px 187.0px,#9b9bff 187.0px 189.0px,#7c7cff 189.0px 190.5px,#8b8bff 190.5px 192.0px,#8d8dff 192.0px 194.0px,#8b8bff 194.0px 196.0px,#7a7aff 196.0px 198.0px,#7d7dff 198.0px 200.0px,#7f7fff 200.0px 201.5px,#7979ff 201.5px 204.5px,#6363ff 204.5px 206.0px,#5a5aff 206.0px 209.0px,#5e5eff 209.0px 210.5px,#4f4fff 210.5px 212.5px,#5555ff 212.5px 214.0px,#4b4bff 214.0px 215.5px,#4949ff 215.5px 217.5px,#4646ff 217.5px 220.0px,#4545ff 220.0px 221.5px,#4040ff 221.5px 224.5px,#4545ff 224.5px 227.0px,#3b3bff 227.0px 229.0px,#3a3aff 229.0px 230.0px,#4343ff 230.0px 231.0px,#3a3aff 231.0px 233.0px,#3e3eff 233.0px 235.0px,#3d3dff 235.0px 238.0px,#3232ff 238.0px 241.0px,#2727ff 241.0px 244.0px,#2a2aff 244.0px 245.0px,#4f4fff 245.0px 246.0px,#2d2dff 246.0px 249.0px,#2828ff 249.0px 250.0px,#1d1dff 250.0px 252.0px,#1515ff 252.0px 253.0px,#0f0fff 253.0px 256.0px,#2626ff 256.0px 257.5px,#1919ff 257.5px 259.5px,#1818ff 259.5px 260.5px,#1414ff 260.5px 262.5px,#3030ff 262.5px 264.0px,#2828ff 264.0px 265.0px,#2323ff 265.0px 267.5px,#1515ff 267.5px 269.0px,#2a2aff 269.0px 270.5px,#2626ff 270.5px 272.5px,#0e0eff 272.5px 274.5px,#2424ff 274.5px 276.5px,#1818ff 276.5px 278.5px,#1c1cff 278.5px 280.5px,#1515ff 280.5px 282.5px,#1818ff 282.5px 283.2px)"></div>
<div class="hb" style="left:40.6px;top:157.9px;width:283.2px;height:21.4px;background:linear-gradient(90deg,#ffb0b0 0.0px 1.0px,#ffbebe 1.0px 4.0px,#ffa7a7 4.0px 5.5px,#ffb5b5 5.5px 6.5px,#ffb5b5 6.5px 8.0px,#ffb5b5 8.0px 11.0px,#ffa8a8 11.0px 13.5px,#ffa5a5 13.5px 16.5px,#ff9c9c 16.5px 19.5px,#ff8f8f 19.5px 20.5px,#ff9494 20.5px 21.5px,#ffb2b2 21.5px 24.0px,#ffa3a3 24.0px 25.5px,#ff8f8f 25.5px 28.0px,#ff9d9d 28.0px 30.0px,#ff9e9e 30.0px 31.5px,#ff9f9f 31.5px 33.0px,#ff9d9d 33.0px 35.0px,#ffacac 35.0px 36.5px,#ff9b9b 36.5px 39.5px,#ff8585 39.5px 42.0px,#ffa1a1 42.0px 43.5px,#ff8e8e 43.5px 46.0px,#ffa0a0 46.0px 47.0px,#ffa4a4 47.0px 49.0px,#ffa2a2 49.0px 51.5px,#ffacac 51.5px 53.5px,#ff9a9a 53.5px 55.5px,#ffabab 55.5px 57.5px,#ff9e9e 57.5px 59.0px,#ffa0a0 59.0px 60.5px,#ffa5a5 60.5px 61.5px,#ff9e9e 61.5px 63.0px,#ffa0a0 63.0px 65.5px,#ffa3a3 65.5px 67.5px,#ff9696 67.5px 70.0px,#ff8c8c 70.0px 72.0px,#ff8b8b 72.0px 73.5px,#ff8b8b 73.5px 74.5px,#ff7979 74.5px 75.5px,#ff9595 75.5px 77.0px,#ff8d8d 77.0px 80.0px,#ff9191 80.0px 81.5px,#ff8b8b 81.5px 82.5px,#ff7d7d 82.5px 83.5px,#ff9393 83.5px 86.5px,#ff7b7b 86.5px 88.0px,#ff8d8d 88.0px 89.0px,#ff9393 89.0px 90.0px,#ff7e7e 90.0px 91.5px,#ff9595 91.5px 93.0px,#ff8b8b 93.0px 94.5px,#ff8383 94.5px 96.5px,#ff8888 96.5px 98.0px,#ff8686 98.0px 99.0px,#ff8484 99.0px 100.5px,#ff8c8c 100.5px 103.5px,#ff7676 103.5px 106.0px,#ff9898 106.0px 107.0px,#ff9898 107.0px 108.0px,#ff7f7f 108.0px 110.0px,#ff7979 110.0px 112.0px,#ff8787 112.0px 113.0px,#ff8f8f 113.0px 115.0px,#ff8b8b 115.0px 117.0px,#ff8f8f 117.0px 119.0px,#ff9292 119.0px 120.0px,#ff8686 120.0px 121.0px,#ff8181 121.0px 122.0px,#ff9b9b 122.0px 124.0px,#ff9393 124.0px 126.0px,#ff9191 126.0px 129.0px,#ff9d9d 129.0px 130.0px,#ffafaf 130.0px 131.0px,#ffa1a1 131.0px 133.0px,#ff9e9e 133.0px 135.0px,#ffa9a9 135.0px 137.5px,#ffc4c4 137.5px 139.5px,#ffbaba 139.5px 141.5px,#ffc1c1 141.5px 143.5px,#ffd2d2 143.5px 145.0px,#ffc7c7 145.0px 146.0px,#ffbdbd 146.0px 147.0px,#ffc8c8 147.0px 149.5px,#ffc5c5 149.5px 152.5px,#ffeeee 152.5px 155.5px,#fffbfb 155.5px 158.0px,#ffeaea 158.0px 159.0px,#f1f1ff 159.0px 161.0px,#f8f8ff 161.0px 162.5px,#f3f3ff 162.5px 163.5px,#fafaff 163.5px 166.5px,#c9c9ff 166.5px 168.5px,#bebeff 168.5px 170.5px,#c2c2ff 170.5px 172.5px,#aeaeff 172.5px 174.5px,#b4b4ff 174.5px 176.0px,#a6a6ff 176.0px 177.0px,#a0a0ff 177.0px 178.5px,#9494ff 178.5px 181.0px,#b3b3ff 181.0px 183.0px,#9b9bff 183.0px 185.0px,#8b8bff 185.0px 186.5px,#8585ff 186.5px 187.5px,#8484ff 187.5px 189.0px,#6f6fff 189.0px 190.0px,#8080ff 190.0px 192.0px,#6363ff 192.0px 193.5px,#6e6eff 193.5px 195.0px,#6464ff 195.0px 197.0px,#5858ff 197.0px 199.0px,#6161ff 199.0px 201.0px,#5151ff 201.0px 203.5px,#6161ff 203.5px 205.5px,#3232ff 205.5px 208.5px,#4141ff 208.5px 210.0px,#4444ff 210.0px 212.0px,#4343ff 212.0px 215.0px,#2c2cff 215.0px 217.5px,#3d3dff 217.5px 219.5px,#3131ff 219.5px 221.0px,#3131ff 221.0px 223.0px,#3030ff 223.0px 225.0px,#2222ff 225.0px 227.0px,#3c3cff 227.0px 228.0px,#2727ff 228.0px 229.0px,#2929ff 229.0px 230.5px,#3434ff 230.5px 233.5px,#3939ff 233.5px 235.5px,#2323ff 235.5px 236.5px,#2121ff 236.5px 239.5px,#2929ff 239.5px 241.5px,#2323ff 241.5px 242.5px,#1212ff 242.5px 244.0px,#2424ff 244.0px 245.0px,#2c2cff 245.0px 246.5px,#2b2bff 246.5px 248.5px,#1313ff 248.5px 250.0px,#1c1cff 250.0px 251.5px,#0202ff 251.5px 252.5px,#3131ff 252.5px 253.5px,#2727ff 253.5px 255.5px,#2626ff 255.5px 257.0px,#1d1dff 257.0px 258.0px,#2323ff 258.0px 260.0px,#1818ff 260.0px 262.0px,#1414ff 262.0px 263.0px,#1111ff 263.0px 265.0px,#2525ff 265.0px 266.5px,#1e1eff 266.5px 267.5px,#1212ff 267.5px 268.5px,#1111ff 268.5px 271.5px,#1717ff 271.5px 274.0px,#2424ff 274.0px 275.0px,#2424ff 275.0px 276.0px,#1010ff 276.0px 278.0px,#0606ff 278.0px 279.0px,#1e1eff 279.0px 281.0px,#1a1aff 281.0px 282.5px,#1818ff 282.5px 283.2px)"></div>
<div class="hb" style="left:40.6px;top:178.5px;width:283.2px;height:20.7px;background:linear-gradient(90deg,#ffa6a6 0.0px 1.0px,#ff9696 1.0px 3.0px,#ffa5a5 3.0px 4.5px,#ffa8a8 4.5px 6.5px,#ff9b9b 6.5px 8.0px,#ffa1a1 8.0px 11.0px,#ff9595 11.0px 12.0px,#ff9f9f 12.0px 15.0px,#ff9c9c 15.0px 17.0px,#ff8888 17.0px 19.0px,#ff9191 19.0px 20.5px,#ff8181 20.5px 21.5px,#ff8585 21.5px 23.5px,#ff8080 23.5px 26.0px,#ff7d7d 26.0px 27.0px,#ff9191 27.0px 28.0px,#ff9191 28.0px 29.0px,#ff8b8b 29.0px 30.5px,#ff7e7e 30.5px 32.5px,#ff8b8b 32.5px 34.0px,#ff7676 34.0px 35.5px,#ff9494 35.5px 37.0px,#ff8e8e 37.0px 38.0px,#ff7474 38.0px 41.0px,#ff7979 41.0px 44.0px,#ff6464 44.0px 46.5px,#ff7575 46.5px 49.5px,#ff6464 49.5px 50.5px,#ff7777 50.5px 51.5px,#ff7676 51.5px 54.0px,#ff6565 54.0px 56.0px,#ff6b6b 56.0px 58.5px,#ff5f5f 58.5px 61.0px,#ff7171 61.0px 62.5px,#ff6b6b 62.5px 63.5px,#ff6060 63.5px 66.0px,#ff6666 66.0px 67.5px,#ff5d5d 67.5px 70.0px,#ff6f6f 70.0px 72.0px,#ff4242 72.0px 73.5px,#ff7e7e 73.5px 75.0px,#ff6060 75.0px 77.0px,#ff6060 77.0px 78.5px,#ff6c6c 78.5px 80.5px,#ff7c7c 80.5px 81.5px,#ff6262 81.5px 83.0px,#ff6a6a 83.0px 85.0px,#ff7272 85.0px 88.0px,#ff7878 88.0px 89.5px,#ff6f6f 89.5px 91.0px,#ff5151 91.0px 93.0px,#ff5e5e 93.0px 96.0px,#ff6a6a 96.0px 97.5px,#ff6262 97.5px 99.5px,#ff6262 99.5px 100.5px,#ff6a6a 100.5px 101.5px,#ff5f5f 101.5px 103.0px,#ff6767 103.0px 105.0px,#ff6464 105.0px 106.0px,#ff7171 106.0px 108.5px,#ff7272 108.5px 109.5px,#ff5e5e 109.5px 112.0px,#ff6868 112.0px 114.0px,#ff6f6f 114.0px 115.5px,#ff6d6d 115.5px 117.0px,#ff8585 117.0px 118.0px,#ff7f7f 118.0px 119.5px,#ff7b7b 119.5px 122.0px,#ff7f7f 122.0px 123.0px,#ff8585 123.0px 125.0px,#ff8080 125.0px 126.0px,#ff8c8c 126.0px 129.0px,#ff8e8e 129.0px 130.5px,#ff9191 130.5px 132.0px,#ff9d9d 132.0px 133.5px,#ffa2a2 133.5px 134.5px,#ff8c8c 134.5px 136.5px,#ffb6b6 136.5px 137.5px,#ff8c8c 137.5px 139.5px,#ffaaaa 139.5px 141.0px,#ffaaaa 141.0px 142.0px,#ffa6a6 142.0px 144.0px,#ffaeae 144.0px 146.0px,#ffb4b4 146.0px 147.0px,#ffb2b2 147.0px 149.5px,#ffd9d9 149.5px 151.5px,#ffc4c4 151.5px 152.5px,#ffc4c4 152.5px 155.5px,#ffeaea 155.5px 157.5px,#fff0f0 157.5px 159.5px,#f3f3ff 159.5px 162.0px,#ffffff 162.0px 164.5px,#efefff 164.5px 166.0px,#fefeff 166.0px 168.5px,#fffcfc 168.5px 170.0px,#e6e6ff 170.0px 171.5px,#e2e2ff 171.5px 173.5px,#d1d1ff 173.5px 175.0px,#d7d7ff 175.0px 176.5px,#cfcfff 176.5px 177.5px,#c1c1ff 177.5px 178.5px,#cacaff 178.5px 181.5px,#a6a6ff 181.5px 183.5px,#acacff 183.5px 186.5px,#9191ff 186.5px 189.5px,#9898ff 189.5px 192.0px,#9d9dff 192.0px 193.5px,#7d7dff 193.5px 196.0px,#8686ff 196.0px 198.0px,#7878ff 198.0px 200.0px,#8f8fff 200.0px 202.0px,#8181ff 202.0px 203.5px,#7171ff 203.5px 205.5px,#8282ff 205.5px 207.5px,#3e3eff 207.5px 210.5px,#4f4fff 210.5px 211.5px,#5252ff 211.5px 213.5px,#5a5aff 213.5px 215.5px,#5757ff 215.5px 217.0px,#5151ff 217.0px 220.0px,#4646ff 220.0px 221.5px,#4141ff 221.5px 222.5px,#3f3fff 222.5px 224.5px,#5a5aff 224.5px 227.0px,#3a3aff 227.0px 228.0px,#5050ff 228.0px 230.5px,#3a3aff 230.5px 231.5px,#5050ff 231.5px 233.5px,#3d3dff 233.5px 236.5px,#3838ff 236.5px 238.5px,#3a3aff 238.5px 241.5px,#3030ff 241.5px 244.5px,#3b3bff 244.5px 246.0px,#3333ff 246.0px 247.5px,#2727ff 247.5px 249.5px,#3838ff 249.5px 251.5px,#3838ff 251.5px 253.5px,#2b2bff 253.5px 255.0px,#2f2fff 255.0px 256.0px,#3030ff 256.0px 257.5px,#2f2fff 257.5px 259.5px,#2626ff 259.5px 261.5px,#2f2fff 261.5px 263.5px,#4242ff 263.5px 264.5px,#3030ff 264.5px 267.5px,#2323ff 267.5px 270.0px,#1f1fff 270.0px 272.0px,#1f1fff 272.0px 273.0px,#2222ff 273.0px 276.0px,#2525ff 276.0px 278.0px,#1313ff 278.0px 280.5px,#2626ff 280.5px 282.5px,#2020ff 282.5px 283.2px)"></div>
<div class="hb" style="left:40.6px;top:198.4px;width:283.2px;height:19.5px;background:linear-gradient(90deg,#ff7f7f 0.0px 1.5px,#ff7d7d 1.5px 3.0px,#ff9494 3.0px 5.0px,#ff9595 5.0px 6.0px,#ff9898 6.0px 7.0px,#ff8d8d 7.0px 8.0px,#ff9797 8.0px 10.5px,#ff7b7b 10.5px 13.5px,#ff8e8e 13.5px 14.5px,#ff9191 14.5px 15.5px,#ff8b8b 15.5px 18.5px,#ff8d8d 18.5px 21.0px,#ff7979 21.0px 22.0px,#ff8383 22.0px 25.0px,#ff7878 25.0px 26.0px,#ff7b7b 26.0px 27.5px,#ff8585 27.5px 28.5px,#ff8a8a 28.5px 30.5px,#ff7c7c 30.5px 33.5px,#ff6161 33.5px 34.5px,#ff6767 34.5px 35.5px,#ff8787 35.5px 36.5px,#ff7070 36.5px 38.0px,#ff5e5e 38.0px 41.0px,#ff6767 41.0px 43.0px,#ff6262 43.0px 46.0px,#ff7474 46.0px 48.5px,#ff5353 48.5px 50.0px,#ff6767 50.0px 51.5px,#ff6d6d 51.5px 53.5px,#ff5959 53.5px 54.5px,#ff5b5b 54.5px 56.0px,#ff6464 56.0px 58.0px,#ff6565 58.0px 59.0px,#ff5959 59.0px 61.0px,#ff6b6b 61.0px 63.5px,#ff5f5f 63.5px 64.5px,#ff6565 64.5px 66.5px,#ff4747 66.5px 69.0px,#ff5d5d 69.0px 71.0px,#ff5454 71.0px 72.5px,#ff4a4a 72.5px 74.5px,#ff5e5e 74.5px 76.0px,#ff4d4d 76.0px 78.0px,#ff5959 78.0px 81.0px,#ff5555 81.0px 82.0px,#ff5656 82.0px 83.0px,#ff4141 83.0px 85.5px,#ff5b5b 85.5px 86.5px,#ff5353 86.5px 88.5px,#ff4949 88.5px 90.0px,#ff5050 90.0px 91.5px,#ff6363 91.5px 94.5px,#ff4a4a 94.5px 97.0px,#ff5a5a 97.0px 98.5px,#ff4c4c 98.5px 99.5px,#ff4141 99.5px 100.5px,#ff4646 100.5px 101.5px,#ff4343 101.5px 104.5px,#ff4343 104.5px 106.0px,#ff5353 106.0px 107.5px,#ff5252 107.5px 110.5px,#ff4848 110.5px 112.5px,#ff6464 112.5px 114.0px,#ff6262 114.0px 115.5px,#ff6b6b 115.5px 116.5px,#ff6464 116.5px 117.5px,#ff7676 117.5px 118.5px,#ff6363 118.5px 120.5px,#ff7474 120.5px 123.5px,#ff7c7c 123.5px 124.5px,#ff6464 124.5px 126.0px,#ff7777 126.0px 128.0px,#ff7272 128.0px 129.5px,#ff9292 129.5px 131.0px,#ff7f7f 131.0px 133.0px,#ff9090 133.0px 134.5px,#ff7e7e 134.5px 136.0px,#ff9696 136.0px 137.5px,#ff8a8a 137.5px 140.0px,#ff9a9a 140.0px 141.5px,#ff9999 141.5px 143.5px,#ff9090 143.5px 144.5px,#ffb2b2 144.5px 146.0px,#ffa1a1 146.0px 148.5px,#ffb3b3 148.5px 150.5px,#ffc1c1 150.5px 152.5px,#ffc9c9 152.5px 153.5px,#ffd1d1 153.5px 154.5px,#ffd5d5 154.5px 156.5px,#ffe7e7 156.5px 159.5px,#fff4f4 159.5px 160.5px,#fffafa 160.5px 162.5px,#fafaff 162.5px 163.5px,#fefeff 163.5px 165.0px,#fbfbff 165.0px 167.0px,#e9e9ff 167.0px 168.0px,#e0e0ff 168.0px 170.0px,#dadaff 170.0px 172.0px,#d1d1ff 172.0px 173.0px,#ccccff 173.0px 176.0px,#b2b2ff 176.0px 177.5px,#babaff 177.5px 178.5px,#b0b0ff 178.5px 180.5px,#8c8cff 180.5px 183.5px,#9393ff 183.5px 184.5px,#8787ff 184.5px 186.0px,#8181ff 186.0px 188.5px,#7f7fff 188.5px 189.5px,#7474ff 189.5px 192.0px,#6b6bff 192.0px 194.0px,#5f5fff 194.0px 195.0px,#7272ff 195.0px 196.5px,#6d6dff 196.5px 198.5px,#7171ff 198.5px 200.5px,#6060ff 200.5px 201.5px,#3a3aff 201.5px 204.5px,#4747ff 204.5px 206.5px,#4444ff 206.5px 208.0px,#4444ff 208.0px 209.0px,#4545ff 209.0px 210.0px,#3636ff 210.0px 212.0px,#3c3cff 212.0px 213.0px,#3434ff 213.0px 215.0px,#3d3dff 215.0px 217.5px,#4e4eff 217.5px 219.0px,#3232ff 219.0px 220.5px,#4d4dff 220.5px 221.5px,#3333ff 221.5px 224.5px,#2b2bff 224.5px 226.0px,#2525ff 226.0px 227.5px,#4141ff 227.5px 229.0px,#0808ff 229.0px 231.5px,#2323ff 231.5px 234.0px,#2121ff 234.0px 235.0px,#2020ff 235.0px 236.0px,#1c1cff 236.0px 237.5px,#2424ff 237.5px 238.5px,#1e1eff 238.5px 240.5px,#3131ff 240.5px 241.5px,#2525ff 241.5px 243.0px,#1515ff 243.0px 245.0px,#3131ff 245.0px 248.0px,#3a3aff 248.0px 249.5px,#2020ff 249.5px 252.0px,#3131ff 252.0px 254.5px,#2121ff 254.5px 256.0px,#2222ff 256.0px 257.5px,#2424ff 257.5px 259.0px,#1e1eff 259.0px 260.5px,#2222ff 260.5px 262.5px,#2e2eff 262.5px 263.5px,#1a1aff 263.5px 266.5px,#0606ff 266.5px 267.5px,#1919ff 267.5px 268.5px,#1e1eff 268.5px 269.5px,#2727ff 269.5px 271.5px,#2626ff 271.5px 274.0px,#2020ff 274.0px 276.0px,#1a1aff 276.0px 277.5px,#0909ff 277.5px 280.5px,#1414ff 280.5px 282.0px,#2525ff 282.0px 283.2px)"></div>
<div class="hb" style="left:40.6px;top:217.1px;width:283.2px;height:14.5px;background:linear-gradient(90deg,#ff8c8c 0.0px 1.0px,#ffa0a0 1.0px 2.5px,#ff9797 2.5px 5.0px,#ff7f7f 5.0px 7.0px,#ff7777 7.0px 8.0px,#ff8181 8.0px 10.0px,#ff8787 10.0px 11.5px,#ff7979 11.5px 13.0px,#ff9e9e 13.0px 16.0px,#ff9292 16.0px 17.0px,#ff8c8c 17.0px 19.5px,#ff8f8f 19.5px 21.5px,#ff8888 21.5px 24.0px,#ff8181 24.0px 26.0px,#ff8282 26.0px 28.5px,#ff8383 28.5px 31.5px,#ff6b6b 31.5px 32.5px,#ff8787 32.5px 35.5px,#ff8888 35.5px 38.0px,#ff7a7a 38.0px 39.5px,#ff8383 39.5px 41.5px,#ff7f7f 41.5px 44.0px,#ff8383 44.0px 47.0px,#ff8282 47.0px 48.0px,#ff7272 48.0px 50.0px,#ff6565 50.0px 52.5px,#ff6e6e 52.5px 54.0px,#ff6e6e 54.0px 55.0px,#ff7676 55.0px 57.5px,#ff7f7f 57.5px 59.5px,#ff6e6e 59.5px 61.5px,#ff7b7b 61.5px 63.0px,#ff6c6c 63.0px 65.0px,#ff8181 65.0px 67.5px,#ff9393 67.5px 69.5px,#ff7777 69.5px 71.0px,#ff7878 71.0px 72.5px,#ff7676 72.5px 74.0px,#ff6b6b 74.0px 75.0px,#ff7b7b 75.0px 77.0px,#ff8585 77.0px 79.0px,#ff9393 79.0px 81.5px,#ff6060 81.5px 83.0px,#ff8080 83.0px 85.5px,#ff7f7f 85.5px 86.5px,#ff7676 86.5px 88.5px,#ff8080 88.5px 90.5px,#ff6868 90.5px 93.0px,#ff6a6a 93.0px 94.0px,#ff7c7c 94.0px 96.0px,#ff6060 96.0px 97.0px,#ff6d6d 97.0px 98.0px,#ff8686 98.0px 100.5px,#ff6e6e 100.5px 102.0px,#ff6a6a 102.0px 105.0px,#ff7171 105.0px 106.5px,#ff5d5d 106.5px 107.5px,#ff7a7a 107.5px 109.0px,#ff8080 109.0px 110.5px,#ff7d7d 110.5px 111.5px,#ff7070 111.5px 114.0px,#ff6d6d 114.0px 116.0px,#ff8080 116.0px 117.5px,#ff7171 117.5px 120.0px,#ff8e8e 120.0px 122.5px,#ff9595 122.5px 125.0px,#ff7777 125.0px 128.0px,#ff9090 128.0px 130.0px,#ff8686 130.0px 132.0px,#ff8383 132.0px 133.0px,#ff8c8c 133.0px 135.0px,#ff9898 135.0px 136.0px,#ff9a9a 136.0px 137.5px,#ff8a8a 137.5px 139.5px,#ffb2b2 139.5px 140.5px,#ffaaaa 140.5px 142.5px,#ffa0a0 142.5px 144.0px,#ff8888 144.0px 147.0px,#ffb5b5 147.0px 148.5px,#ffb6b6 148.5px 151.0px,#ffb0b0 151.0px 152.0px,#ffbdbd 152.0px 154.0px,#ffbdbd 154.0px 156.5px,#ffd6d6 156.5px 157.5px,#ffc3c3 157.5px 159.0px,#ffe8e8 159.0px 161.5px,#ffefef 161.5px 163.0px,#f8f8ff 163.0px 164.5px,#f9f9ff 164.5px 166.5px,#e4e4ff 166.5px 169.0px,#e9e9ff 169.0px 170.0px,#ececff 170.0px 172.5px,#dadaff 172.5px 174.5px,#c5c5ff 174.5px 177.5px,#d4d4ff 177.5px 178.5px,#bebeff 178.5px 180.5px,#a6a6ff 180.5px 182.5px,#9f9fff 182.5px 184.0px,#a3a3ff 184.0px 185.0px,#9393ff 185.0px 187.5px,#9494ff 187.5px 188.5px,#8585ff 188.5px 190.0px,#8585ff 190.0px 191.0px,#7373ff 191.0px 193.0px,#6666ff 193.0px 195.5px,#7b7bff 195.5px 197.5px,#6767ff 197.5px 199.0px,#5b5bff 199.0px 201.5px,#6060ff 201.5px 203.5px,#5b5bff 203.5px 204.5px,#4f4fff 204.5px 207.0px,#4747ff 207.0px 208.5px,#3535ff 208.5px 211.0px,#4747ff 211.0px 213.0px,#4646ff 213.0px 214.5px,#4949ff 214.5px 216.0px,#4d4dff 216.0px 217.0px,#2a2aff 217.0px 219.5px,#4242ff 219.5px 221.5px,#4141ff 221.5px 224.0px,#2d2dff 224.0px 226.0px,#1d1dff 226.0px 228.0px,#3636ff 228.0px 229.5px,#2626ff 229.5px 231.5px,#1f1fff 231.5px 232.5px,#3737ff 232.5px 233.5px,#2e2eff 233.5px 234.5px,#1f1fff 234.5px 235.5px,#2121ff 235.5px 238.5px,#1f1fff 238.5px 240.5px,#3131ff 240.5px 241.5px,#2020ff 241.5px 242.5px,#1616ff 242.5px 243.5px,#1e1eff 243.5px 246.5px,#1919ff 246.5px 248.0px,#3939ff 248.0px 250.0px,#2323ff 250.0px 251.5px,#3232ff 251.5px 253.0px,#2929ff 253.0px 255.0px,#0c0cff 255.0px 256.0px,#1e1eff 256.0px 257.5px,#1a1aff 257.5px 259.5px,#0808ff 259.5px 262.0px,#2f2fff 262.0px 264.0px,#1111ff 264.0px 265.0px,#1414ff 265.0px 267.5px,#0e0eff 267.5px 269.0px,#0505ff 269.0px 270.0px,#2222ff 270.0px 272.0px,#1515ff 272.0px 274.0px,#0e0eff 274.0px 275.0px,#0b0bff 275.0px 277.5px,#2c2cff 277.5px 280.5px,#1010ff 280.5px 283.2px)"></div>
<div class="hb" style="left:40.6px;top:230.8px;width:283.2px;height:13.2px;background:linear-gradient(90deg,#ff6767 0.0px 1.5px,#ff5c5c 1.5px 4.0px,#ff6363 4.0px 5.5px,#ff5959 5.5px 6.5px,#ff5c5c 6.5px 9.5px,#ff7272 9.5px 11.0px,#ff5858 11.0px 13.0px,#ff4b4b 13.0px 15.0px,#ff4c4c 15.0px 16.0px,#ff6464 16.0px 17.0px,#ff6262 17.0px 18.0px,#ff5151 18.0px 20.0px,#ff6363 20.0px 22.0px,#ff6363 22.0px 24.0px,#ff5858 24.0px 26.0px,#ff5353 26.0px 27.5px,#ff5858 27.5px 29.5px,#ff5353 29.5px 32.5px,#ff5f5f 32.5px 33.5px,#ff4040 33.5px 35.5px,#ff5656 35.5px 38.5px,#ff5050 38.5px 40.5px,#ff6363 40.5px 42.5px,#ff4a4a 42.5px 44.0px,#ff5555 44.0px 45.0px,#ff4d4d 45.0px 47.5px,#ff5454 47.5px 49.0px,#ff3c3c 49.0px 50.5px,#ff2a2a 50.5px 52.5px,#ff5151 52.5px 55.0px,#ff3838 55.0px 57.5px,#ff2f2f 57.5px 60.0px,#ff3e3e 60.0px 61.5px,#ff3c3c 61.5px 64.0px,#ff2a2a 64.0px 65.0px,#ff3d3d 65.0px 66.0px,#ff3c3c 66.0px 69.0px,#ff4343 69.0px 70.0px,#ff4444 70.0px 72.0px,#ff3030 72.0px 75.0px,#ff3939 75.0px 78.0px,#ff5454 78.0px 79.0px,#ff3939 79.0px 80.5px,#ff3232 80.5px 81.5px,#ff4141 81.5px 82.5px,#ff3f3f 82.5px 84.0px,#ff4a4a 84.0px 87.0px,#ff3838 87.0px 90.0px,#ff4c4c 90.0px 91.0px,#ff4444 91.0px 94.0px,#ff4a4a 94.0px 95.5px,#ff3232 95.5px 97.0px,#ff4141 97.0px 100.0px,#ff4949 100.0px 101.5px,#ff3131 101.5px 102.5px,#ff4747 102.5px 103.5px,#ff3838 103.5px 105.0px,#ff5656 105.0px 106.0px,#ff5252 106.0px 108.5px,#ff4a4a 108.5px 110.0px,#ff4242 110.0px 111.0px,#ff2c2c 111.0px 112.5px,#ff4242 112.5px 113.5px,#ff4545 113.5px 115.0px,#ff4646 115.0px 116.5px,#ff4c4c 116.5px 119.0px,#ff3e3e 119.0px 121.0px,#ff4848 121.0px 124.0px,#ff4b4b 124.0px 125.0px,#ff6565 125.0px 126.0px,#ff4646 126.0px 127.5px,#ff4545 127.5px 129.5px,#ff6e6e 129.5px 130.5px,#ff5a5a 130.5px 133.0px,#ff5c5c 133.0px 134.0px,#ff6161 134.0px 135.0px,#ff6b6b 135.0px 136.0px,#ff7b7b 136.0px 138.0px,#ff7676 138.0px 141.0px,#ff7c7c 141.0px 142.5px,#ff7c7c 142.5px 143.5px,#ff7c7c 143.5px 146.5px,#ff8585 146.5px 148.0px,#ff8b8b 148.0px 149.5px,#ff8e8e 149.5px 152.0px,#ffa5a5 152.0px 153.0px,#ffadad 153.0px 155.0px,#ffb9b9 155.0px 156.5px,#ffb4b4 156.5px 157.5px,#ffc0c0 157.5px 159.5px,#ffc7c7 159.5px 161.5px,#ffd3d3 161.5px 163.5px,#ffe8e8 163.5px 165.0px,#fff7f7 165.0px 166.0px,#f1f1ff 166.0px 167.5px,#f4f4ff 167.5px 170.0px,#ffffff 170.0px 171.5px,#e1e1ff 171.5px 172.5px,#efefff 172.5px 173.5px,#d1d1ff 173.5px 174.5px,#e1e1ff 174.5px 176.0px,#cacaff 176.0px 177.0px,#c7c7ff 177.0px 178.5px,#bfbfff 178.5px 180.5px,#bcbcff 180.5px 182.0px,#bdbdff 182.0px 184.0px,#aaaaff 184.0px 185.0px,#a6a6ff 185.0px 188.0px,#a7a7ff 188.0px 189.5px,#8a8aff 189.5px 192.5px,#8080ff 192.5px 194.5px,#8282ff 194.5px 197.0px,#6c6cff 197.0px 198.0px,#7a7aff 198.0px 200.0px,#7a7aff 200.0px 202.0px,#6161ff 202.0px 203.5px,#5f5fff 203.5px 205.5px,#4848ff 205.5px 206.5px,#5757ff 206.5px 207.5px,#4444ff 207.5px 209.5px,#4b4bff 209.5px 211.5px,#4242ff 211.5px 214.5px,#3f3fff 214.5px 216.0px,#4040ff 216.0px 217.5px,#4646ff 217.5px 220.0px,#3333ff 220.0px 221.0px,#3b3bff 221.0px 222.5px,#4848ff 222.5px 223.5px,#2f2fff 223.5px 225.5px,#3535ff 225.5px 227.0px,#2b2bff 227.0px 230.0px,#2929ff 230.0px 232.0px,#2c2cff 232.0px 234.5px,#3333ff 234.5px 235.5px,#2626ff 235.5px 236.5px,#2020ff 236.5px 238.5px,#1d1dff 238.5px 240.0px,#1717ff 240.0px 242.5px,#3232ff 242.5px 244.5px,#2a2aff 244.5px 245.5px,#1e1eff 245.5px 246.5px,#2626ff 246.5px 247.5px,#1818ff 247.5px 250.5px,#1515ff 250.5px 252.5px,#2121ff 252.5px 255.5px,#2222ff 255.5px 257.5px,#0e0eff 257.5px 260.0px,#2525ff 260.0px 263.0px,#2323ff 263.0px 264.0px,#1111ff 264.0px 266.0px,#2f2fff 266.0px 267.5px,#1e1eff 267.5px 269.0px,#2525ff 269.0px 270.0px,#0909ff 270.0px 272.0px,#0808ff 272.0px 274.0px,#0808ff 274.0px 275.0px,#2020ff 275.0px 276.0px,#2424ff 276.0px 278.0px,#1818ff 278.0px 280.0px,#1b1bff 280.0px 281.0px,#0909ff 281.0px 282.0px,#1f1fff 282.0px 283.2px)"></div>
<div class="hb" style="left:40.6px;top:243.2px;width:283.2px;height:13.2px;background:linear-gradient(90deg,#ff7676 0.0px 1.0px,#ff7777 1.0px 2.5px,#ff8383 2.5px 4.5px,#ff6969 4.5px 6.0px,#ff7575 6.0px 8.0px,#ff7f7f 8.0px 10.0px,#ff7c7c 10.0px 11.5px,#ff7777 11.5px 13.0px,#ff7878 13.0px 14.5px,#ff6b6b 14.5px 15.5px,#ff8383 15.5px 17.0px,#ff8888 17.0px 19.5px,#ff7373 19.5px 21.5px,#ff5c5c 21.5px 23.5px,#ff6464 23.5px 24.5px,#ff6e6e 24.5px 26.5px,#ff7676 26.5px 28.0px,#ff6767 28.0px 31.0px,#ff6868 31.0px 32.0px,#ff6969 32.0px 35.0px,#ff7d7d 35.0px 36.0px,#ff6a6a 36.0px 37.5px,#ff7575 37.5px 39.0px,#ff6f6f 39.0px 40.5px,#ff7272 40.5px 41.5px,#ff6565 41.5px 43.0px,#ff7575 43.0px 45.0px,#ff7272 45.0px 46.5px,#ff7070 46.5px 49.5px,#ff7e7e 49.5px 52.0px,#ff6464 52.0px 53.0px,#ff6b6b 53.0px 54.0px,#ff7c7c 54.0px 55.5px,#ff7070 55.5px 57.5px,#ff6464 57.5px 59.0px,#ff6666 59.0px 62.0px,#ff6c6c 62.0px 65.0px,#ff7272 65.0px 68.0px,#ff6464 68.0px 70.0px,#ff6666 70.0px 72.0px,#ff5353 72.0px 73.0px,#ff5454 73.0px 76.0px,#ff6969 76.0px 78.0px,#ff6868 78.0px 79.0px,#ff6a6a 79.0px 82.0px,#ff6b6b 82.0px 83.5px,#ff6b6b 83.5px 86.5px,#ff6c6c 86.5px 88.5px,#ff7878 88.5px 90.0px,#ff5757 90.0px 92.0px,#ff5f5f 92.0px 93.0px,#ff6e6e 93.0px 94.5px,#ff5959 94.5px 96.0px,#ff6464 96.0px 97.0px,#ff6464 97.0px 100.0px,#ff6464 100.0px 103.0px,#ff6565 103.0px 104.5px,#ff7474 104.5px 106.5px,#ff6464 106.5px 108.0px,#ff7575 108.0px 109.5px,#ff7a7a 109.5px 110.5px,#ff6a6a 110.5px 111.5px,#ff8686 111.5px 114.5px,#ff6a6a 114.5px 117.5px,#ff8383 117.5px 119.0px,#ff8686 119.0px 122.0px,#ff8a8a 122.0px 123.5px,#ff7373 123.5px 125.5px,#ff7575 125.5px 127.0px,#ff8c8c 127.0px 128.0px,#ff8787 128.0px 130.5px,#ff8383 130.5px 131.5px,#ff8e8e 131.5px 133.5px,#ff9999 133.5px 134.5px,#ff9999 134.5px 136.0px,#ff9b9b 136.0px 139.0px,#ffa9a9 139.0px 142.0px,#ffa2a2 142.0px 143.5px,#ff9d9d 143.5px 145.5px,#ff9a9a 145.5px 148.0px,#ff8080 148.0px 149.5px,#ffb9b9 149.5px 151.0px,#ffa5a5 151.0px 153.0px,#ffb5b5 153.0px 154.5px,#ffb6b6 154.5px 157.0px,#ffc0c0 157.0px 160.0px,#ffe1e1 160.0px 162.5px,#ffe2e2 162.5px 164.0px,#fff4f4 164.0px 165.5px,#f5f5ff 165.5px 168.0px,#fff5f5 168.0px 169.0px,#f6f6ff 169.0px 170.0px,#eeeeff 170.0px 171.0px,#e2e2ff 171.0px 172.5px,#d1d1ff 172.5px 174.0px,#dbdbff 174.0px 176.0px,#c0c0ff 176.0px 177.0px,#c9c9ff 177.0px 179.0px,#aeaeff 179.0px 180.5px,#b9b9ff 180.5px 182.5px,#afafff 182.5px 185.0px,#adadff 185.0px 187.0px,#7c7cff 187.0px 188.5px,#9a9aff 188.5px 190.5px,#8484ff 190.5px 191.5px,#7a7aff 191.5px 194.5px,#6d6dff 194.5px 196.0px,#6060ff 196.0px 197.0px,#5a5aff 197.0px 200.0px,#6565ff 200.0px 201.5px,#6e6eff 201.5px 204.5px,#4e4eff 204.5px 206.0px,#6565ff 206.0px 208.5px,#5353ff 208.5px 211.0px,#5757ff 211.0px 213.5px,#3737ff 213.5px 215.0px,#3a3aff 215.0px 217.0px,#2e2eff 217.0px 220.0px,#3c3cff 220.0px 222.0px,#3a3aff 222.0px 223.5px,#3d3dff 223.5px 225.5px,#3939ff 225.5px 228.0px,#2626ff 228.0px 230.5px,#2121ff 230.5px 233.5px,#2020ff 233.5px 235.5px,#2222ff 235.5px 238.0px,#2a2aff 238.0px 240.0px,#2e2eff 240.0px 241.0px,#1e1eff 241.0px 242.5px,#2525ff 242.5px 244.5px,#1616ff 244.5px 246.0px,#1414ff 246.0px 247.5px,#2121ff 247.5px 249.5px,#1616ff 249.5px 251.5px,#2525ff 251.5px 253.0px,#1111ff 253.0px 254.0px,#2a2aff 254.0px 255.5px,#1414ff 255.5px 258.0px,#3030ff 258.0px 260.0px,#2020ff 260.0px 261.5px,#1b1bff 261.5px 262.5px,#1a1aff 262.5px 264.0px,#1919ff 264.0px 265.5px,#2c2cff 265.5px 267.0px,#1e1eff 267.0px 268.0px,#1a1aff 268.0px 269.0px,#1f1fff 269.0px 270.5px,#2020ff 270.5px 272.5px,#1313ff 272.5px 274.5px,#2929ff 274.5px 276.5px,#1a1aff 276.5px 278.5px,#1717ff 278.5px 280.0px,#2222ff 280.0px 282.0px,#1d1dff 282.0px 283.2px)"></div>
<div class="hb" style="left:40.6px;top:255.6px;width:283.2px;height:10.8px;background:linear-gradient(90deg,#ff6868 0.0px 1.5px,#ff7c7c 1.5px 3.5px,#ff5f5f 3.5px 6.5px,#ff5b5b 6.5px 7.5px,#ff5f5f 7.5px 9.0px,#ff6d6d 9.0px 11.0px,#ff5f5f 11.0px 12.0px,#ff4c4c 12.0px 15.0px,#ff5858 15.0px 16.0px,#ff5959 16.0px 19.0px,#ff5757 19.0px 22.0px,#ff5f5f 22.0px 23.0px,#ff5b5b 23.0px 26.0px,#ff5555 26.0px 27.5px,#ff4545 27.5px 29.0px,#ff4646 29.0px 30.5px,#ff5c5c 30.5px 32.5px,#ff4c4c 32.5px 34.5px,#ff3939 34.5px 35.5px,#ff4646 35.5px 37.0px,#ff4343 37.0px 39.0px,#ff3434 39.0px 42.0px,#ff3c3c 42.0px 43.5px,#ff4545 43.5px 45.5px,#ff3c3c 45.5px 47.5px,#ff3939 47.5px 50.5px,#ff3434 50.5px 52.5px,#ff4c4c 52.5px 54.5px,#ff4343 54.5px 57.0px,#ff2c2c 57.0px 58.0px,#ff3939 58.0px 60.0px,#ff3a3a 60.0px 61.5px,#ff3535 61.5px 63.0px,#ff2e2e 63.0px 64.5px,#ff3232 64.5px 67.5px,#ff3a3a 67.5px 69.5px,#ff4f4f 69.5px 72.5px,#ff4040 72.5px 73.5px,#ff4545 73.5px 74.5px,#ff4444 74.5px 75.5px,#ff3838 75.5px 77.5px,#ff4949 77.5px 80.5px,#ff2d2d 80.5px 82.5px,#ff5353 82.5px 85.0px,#ff5151 85.0px 87.0px,#ff4343 87.0px 89.0px,#ff3636 89.0px 90.0px,#ff3838 90.0px 92.0px,#ff2222 92.0px 93.5px,#ff3a3a 93.5px 95.0px,#ff5151 95.0px 96.0px,#ff3f3f 96.0px 98.0px,#ff3838 98.0px 99.0px,#ff5050 99.0px 101.0px,#ff4a4a 101.0px 103.5px,#ff4545 103.5px 104.5px,#ff2c2c 104.5px 105.5px,#ff4040 105.5px 107.0px,#ff4848 107.0px 108.0px,#ff4f4f 108.0px 110.5px,#ff4747 110.5px 112.0px,#ff3f3f 112.0px 114.5px,#ff5b5b 114.5px 116.5px,#ff3d3d 116.5px 119.5px,#ff3a3a 119.5px 120.5px,#ff4444 120.5px 123.0px,#ff5454 123.0px 126.0px,#ff5151 126.0px 128.0px,#ff6060 128.0px 131.0px,#ff5c5c 131.0px 132.5px,#ff5a5a 132.5px 134.0px,#ff7171 134.0px 136.0px,#ff6363 136.0px 137.5px,#ff7272 137.5px 139.0px,#ff8181 139.0px 141.0px,#ff6f6f 141.0px 143.0px,#ff8787 143.0px 144.5px,#ff8c8c 144.5px 145.5px,#ff8e8e 145.5px 147.0px,#ff9393 147.0px 149.0px,#ff8080 149.0px 150.0px,#ffabab 150.0px 152.0px,#ff9494 152.0px 153.5px,#ffb6b6 153.5px 155.5px,#ffb6b6 155.5px 157.5px,#ffafaf 157.5px 160.0px,#ffd1d1 160.0px 162.5px,#ffbdbd 162.5px 163.5px,#ffe4e4 163.5px 166.0px,#f6f6ff 166.0px 167.5px,#ffeded 167.5px 168.5px,#f8f8ff 168.5px 170.0px,#f3f3ff 170.0px 172.0px,#fcfcff 172.0px 174.5px,#e2e2ff 174.5px 177.0px,#cfcfff 177.0px 179.0px,#c0c0ff 179.0px 180.0px,#d7d7ff 180.0px 182.0px,#ceceff 182.0px 183.5px,#a0a0ff 183.5px 184.5px,#b8b8ff 184.5px 187.5px,#9999ff 187.5px 190.5px,#9090ff 190.5px 192.0px,#8181ff 192.0px 193.0px,#9898ff 193.0px 194.0px,#9393ff 194.0px 195.0px,#7474ff 195.0px 196.5px,#8282ff 196.5px 199.5px,#7474ff 199.5px 200.5px,#7676ff 200.5px 203.0px,#6b6bff 203.0px 205.0px,#4141ff 205.0px 207.0px,#4e4eff 207.0px 210.0px,#5353ff 210.0px 212.0px,#3e3eff 212.0px 214.0px,#3e3eff 214.0px 215.0px,#3c3cff 215.0px 218.0px,#3c3cff 218.0px 219.5px,#3e3eff 219.5px 221.0px,#4646ff 221.0px 222.0px,#2a2aff 222.0px 223.0px,#3a3aff 223.0px 224.0px,#3131ff 224.0px 225.5px,#3636ff 225.5px 227.5px,#4242ff 227.5px 229.5px,#3c3cff 229.5px 230.5px,#1d1dff 230.5px 232.0px,#4141ff 232.0px 234.5px,#1e1eff 234.5px 236.0px,#3535ff 236.0px 238.5px,#1717ff 238.5px 240.0px,#4444ff 240.0px 241.5px,#1717ff 241.5px 244.5px,#1e1eff 244.5px 246.0px,#3030ff 246.0px 248.5px,#2121ff 248.5px 250.0px,#3030ff 250.0px 251.5px,#2222ff 251.5px 252.5px,#2323ff 252.5px 254.5px,#2020ff 254.5px 255.5px,#0404ff 255.5px 257.0px,#1c1cff 257.0px 258.5px,#2424ff 258.5px 260.0px,#2626ff 260.0px 261.0px,#2727ff 261.0px 263.5px,#2828ff 263.5px 265.5px,#0f0fff 265.5px 267.0px,#2020ff 267.0px 270.0px,#1a1aff 270.0px 271.0px,#1919ff 271.0px 273.0px,#1818ff 273.0px 274.5px,#0f0fff 274.5px 276.5px,#0f0fff 276.5px 278.0px,#1515ff 278.0px 279.5px,#2727ff 279.5px 281.0px,#1212ff 281.0px 282.0px,#1010ff 282.0px 283.2px)"></div>
<div class="hb" style="left:40.6px;top:265.6px;width:283.2px;height:9.1px;background:linear-gradient(90deg,#ff7474 0.0px 2.0px,#ff5e5e 2.0px 4.5px,#ff6161 4.5px 5.5px,#ff4e4e 5.5px 8.5px,#ff6c6c 8.5px 11.0px,#ff5d5d 11.0px 12.5px,#ff5252 12.5px 14.0px,#ff6666 14.0px 16.0px,#ff4c4c 16.0px 17.5px,#ff4e4e 17.5px 19.0px,#ff4949 19.0px 21.5px,#ff5757 21.5px 23.5px,#ff4040 23.5px 26.5px,#ff4444 26.5px 27.5px,#ff4040 27.5px 28.5px,#ff4646 28.5px 30.5px,#ff3d3d 30.5px 33.5px,#ff4f4f 33.5px 36.5px,#ff4343 36.5px 38.0px,#ff4848 38.0px 41.0px,#ff4444 41.0px 42.5px,#ff3030 42.5px 44.0px,#ff3737 44.0px 45.0px,#ff2e2e 45.0px 47.5px,#ff3030 47.5px 49.5px,#ff3f3f 49.5px 51.5px,#ff4d4d 51.5px 53.0px,#ff2c2c 53.0px 56.0px,#ff3f3f 56.0px 57.0px,#ff2929 57.0px 58.0px,#ff4141 58.0px 60.0px,#ff2323 60.0px 62.5px,#ff3737 62.5px 64.0px,#ff2c2c 64.0px 65.0px,#ff3434 65.0px 67.0px,#ff2e2e 67.0px 69.5px,#ff4040 69.5px 71.0px,#ff3030 71.0px 73.0px,#ff3838 73.0px 75.5px,#ff3333 75.5px 77.0px,#ff2c2c 77.0px 78.0px,#ff2e2e 78.0px 80.0px,#ff3d3d 80.0px 82.0px,#ff3434 82.0px 84.0px,#ff3232 84.0px 86.0px,#ff2c2c 86.0px 89.0px,#ff2c2c 89.0px 91.0px,#ff3a3a 91.0px 92.0px,#ff2a2a 92.0px 94.0px,#ff3434 94.0px 95.0px,#ff2828 95.0px 98.0px,#ff2828 98.0px 99.5px,#ff3737 99.5px 100.5px,#ff3131 100.5px 102.0px,#ff2828 102.0px 103.5px,#ff3f3f 103.5px 105.0px,#ff3a3a 105.0px 107.5px,#ff3030 107.5px 109.5px,#ff3434 109.5px 110.5px,#ff6464 110.5px 112.0px,#ff5656 112.0px 113.0px,#ff5858 113.0px 114.5px,#ff5353 114.5px 117.5px,#ff6a6a 117.5px 120.0px,#ff5959 120.0px 121.5px,#ff6060 121.5px 123.0px,#ff6767 123.0px 124.0px,#ff6767 124.0px 125.5px,#ff6b6b 125.5px 127.0px,#ff7474 127.0px 128.0px,#ff7070 128.0px 129.5px,#ff8383 129.5px 131.5px,#ff9494 131.5px 133.5px,#ff7171 133.5px 134.5px,#ff8282 134.5px 137.0px,#ff8686 137.0px 139.5px,#ff8282 139.5px 140.5px,#ff8181 140.5px 142.0px,#ff7c7c 142.0px 144.0px,#ffa3a3 144.0px 145.0px,#ff9191 145.0px 146.0px,#ffb1b1 146.0px 149.0px,#ffa6a6 149.0px 150.0px,#ffa5a5 150.0px 153.0px,#ffadad 153.0px 155.0px,#ffc1c1 155.0px 157.5px,#ffc5c5 157.5px 158.5px,#ffdddd 158.5px 160.0px,#ffd4d4 160.0px 161.5px,#fff8f8 161.5px 162.5px,#ffe7e7 162.5px 163.5px,#fdfdff 163.5px 165.5px,#fffbfb 165.5px 168.0px,#ececff 168.0px 170.5px,#f7f7ff 170.5px 172.0px,#e9e9ff 172.0px 174.0px,#d6d6ff 174.0px 175.5px,#e5e5ff 175.5px 176.5px,#ccccff 176.5px 178.5px,#c6c6ff 178.5px 180.5px,#acacff 180.5px 183.5px,#bfbfff 183.5px 185.5px,#8383ff 185.5px 188.5px,#9e9eff 188.5px 189.5px,#9a9aff 189.5px 192.0px,#7777ff 192.0px 194.0px,#7676ff 194.0px 195.0px,#7474ff 195.0px 196.0px,#6f6fff 196.0px 198.5px,#7676ff 198.5px 200.5px,#5858ff 200.5px 203.0px,#6868ff 203.0px 206.0px,#4444ff 206.0px 207.0px,#4848ff 207.0px 210.0px,#3d3dff 210.0px 213.0px,#4242ff 213.0px 215.0px,#4c4cff 215.0px 217.0px,#3e3eff 217.0px 219.0px,#4545ff 219.0px 221.5px,#2020ff 221.5px 223.5px,#3a3aff 223.5px 226.0px,#3434ff 226.0px 229.0px,#2e2eff 229.0px 230.5px,#4c4cff 230.5px 232.5px,#3636ff 232.5px 234.0px,#2222ff 234.0px 236.0px,#1f1fff 236.0px 237.5px,#2727ff 237.5px 239.5px,#2121ff 239.5px 242.5px,#3535ff 242.5px 243.5px,#2d2dff 243.5px 244.5px,#1515ff 244.5px 246.0px,#2424ff 246.0px 247.0px,#1212ff 247.0px 249.0px,#3636ff 249.0px 250.5px,#1414ff 250.5px 252.0px,#1010ff 252.0px 253.5px,#1b1bff 253.5px 255.5px,#2323ff 255.5px 257.0px,#2222ff 257.0px 260.0px,#1616ff 260.0px 262.0px,#2020ff 262.0px 263.0px,#3333ff 263.0px 265.0px,#1111ff 265.0px 266.0px,#1010ff 266.0px 269.0px,#2d2dff 269.0px 270.5px,#2727ff 270.5px 272.5px,#1717ff 272.5px 273.5px,#0f0fff 273.5px 276.5px,#2323ff 276.5px 279.5px,#0000ff 279.5px 281.5px,#0f0fff 281.5px 283.0px,#1313ff 283.0px 283.2px)"></div>
<div class="hb" style="left:39.2px;top:330.4px;width:284.6px;height:26.1px;background:linear-gradient(90deg,#6d6dff 0.0px 2.5px,#4a4aff 2.5px 5.5px,#5151ff 5.5px 8.5px,#5a5aff 8.5px 10.5px,#4747ff 10.5px 11.5px,#5353ff 11.5px 13.5px,#5656ff 13.5px 15.0px,#5d5dff 15.0px 17.5px,#5f5fff 17.5px 18.5px,#5858ff 18.5px 20.5px,#4e4eff 20.5px 22.5px,#6262ff 22.5px 24.5px,#5353ff 24.5px 25.5px,#6464ff 25.5px 27.5px,#4e4eff 27.5px 30.5px,#4e4eff 30.5px 32.5px,#6767ff 32.5px 35.5px,#5353ff 35.5px 37.0px,#5a5aff 37.0px 39.0px,#5e5eff 39.0px 41.0px,#5454ff 41.0px 42.5px,#4949ff 42.5px 45.0px,#5858ff 45.0px 46.0px,#5b5bff 46.0px 47.0px,#4f4fff 47.0px 48.5px,#4848ff 48.5px 49.5px,#4f4fff 49.5px 51.0px,#4747ff 51.0px 52.0px,#6262ff 52.0px 54.0px,#5a5aff 54.0px 56.0px,#6464ff 56.0px 58.0px,#4c4cff 58.0px 60.5px,#6262ff 60.5px 62.5px,#4d4dff 62.5px 64.0px,#3838ff 64.0px 65.0px,#4747ff 65.0px 66.5px,#5757ff 66.5px 67.5px,#5b5bff 67.5px 69.5px,#4747ff 69.5px 72.0px,#5f5fff 72.0px 73.0px,#6464ff 73.0px 75.5px,#6161ff 75.5px 77.5px,#4141ff 77.5px 79.0px,#5f5fff 79.0px 80.0px,#7979ff 80.0px 81.0px,#5353ff 81.0px 83.5px,#4c4cff 83.5px 85.0px,#5b5bff 85.0px 86.5px,#5c5cff 86.5px 88.5px,#4c4cff 88.5px 90.0px,#5555ff 90.0px 91.5px,#5656ff 91.5px 92.5px,#4b4bff 92.5px 94.0px,#5d5dff 94.0px 95.0px,#4343ff 95.0px 98.0px,#5555ff 98.0px 99.0px,#4e4eff 99.0px 100.0px,#5353ff 100.0px 101.0px,#5555ff 101.0px 102.5px,#4646ff 102.5px 103.5px,#4141ff 103.5px 106.5px,#4444ff 106.5px 109.5px,#4c4cff 109.5px 110.5px,#5959ff 110.5px 111.5px,#5050ff 111.5px 114.5px,#4747ff 114.5px 115.5px,#4a4aff 115.5px 117.0px,#4e4eff 117.0px 119.0px,#4343ff 119.0px 120.0px,#4949ff 120.0px 122.0px,#2a2aff 122.0px 123.0px,#4242ff 123.0px 124.5px,#4949ff 124.5px 126.0px,#4d4dff 126.0px 127.0px,#4f4fff 127.0px 129.5px,#3b3bff 129.5px 132.5px,#5353ff 132.5px 133.5px,#4040ff 133.5px 135.0px,#4141ff 135.0px 136.0px,#4444ff 136.0px 137.0px,#2f2fff 137.0px 138.0px,#3f3fff 138.0px 139.5px,#4a4aff 139.5px 142.0px,#5050ff 142.0px 144.5px,#3f3fff 144.5px 146.5px,#3e3eff 146.5px 149.5px,#3d3dff 149.5px 150.5px,#3232ff 150.5px 151.5px,#3737ff 151.5px 153.0px,#4a4aff 153.0px 155.0px,#3e3eff 155.0px 157.0px,#4a4aff 157.0px 159.0px,#4e4eff 159.0px 160.5px,#4646ff 160.5px 163.0px,#4545ff 163.0px 164.0px,#4747ff 164.0px 165.5px,#4848ff 165.5px 167.5px,#4141ff 167.5px 170.5px,#4949ff 170.5px 172.5px,#5353ff 172.5px 175.5px,#3d3dff 175.5px 178.5px,#5d5dff 178.5px 181.5px,#4c4cff 181.5px 183.0px,#4e4eff 183.0px 184.5px,#4040ff 184.5px 185.5px,#3737ff 185.5px 186.5px,#4c4cff 186.5px 187.5px,#4b4bff 187.5px 188.5px,#3535ff 188.5px 190.0px,#3c3cff 190.0px 192.0px,#4141ff 192.0px 193.5px,#3b3bff 193.5px 195.5px,#5151ff 195.5px 197.0px,#4444ff 197.0px 198.0px,#5454ff 198.0px 199.5px,#4f4fff 199.5px 201.0px,#4141ff 201.0px 202.5px,#3e3eff 202.5px 203.5px,#4747ff 203.5px 204.5px,#4141ff 204.5px 206.0px,#5353ff 206.0px 207.0px,#5959ff 207.0px 208.0px,#5050ff 208.0px 210.0px,#4646ff 210.0px 213.0px,#4343ff 213.0px 214.5px,#4c4cff 214.5px 216.5px,#3c3cff 216.5px 218.0px,#4e4eff 218.0px 219.5px,#4242ff 219.5px 221.5px,#4040ff 221.5px 222.5px,#3737ff 222.5px 225.0px,#4a4aff 225.0px 226.0px,#4141ff 226.0px 228.0px,#5656ff 228.0px 231.0px,#3b3bff 231.0px 233.0px,#4242ff 233.0px 235.5px,#3d3dff 235.5px 237.5px,#5757ff 237.5px 238.5px,#3030ff 238.5px 240.5px,#4444ff 240.5px 242.0px,#4d4dff 242.0px 245.0px,#3434ff 245.0px 248.0px,#4a4aff 248.0px 250.0px,#4646ff 250.0px 251.5px,#4c4cff 251.5px 253.0px,#3f3fff 253.0px 255.0px,#3d3dff 255.0px 257.0px,#3737ff 257.0px 258.0px,#3e3eff 258.0px 260.0px,#4141ff 260.0px 262.0px,#3838ff 262.0px 263.5px,#4949ff 263.5px 265.0px,#4444ff 265.0px 268.0px,#4343ff 268.0px 271.0px,#3838ff 271.0px 272.0px,#2626ff 272.0px 274.5px,#3c3cff 274.5px 277.5px,#4343ff 277.5px 279.0px,#3a3aff 279.0px 280.5px,#3232ff 280.5px 281.5px,#3232ff 281.5px 283.0px,#4f4fff 283.0px 284.0px,#3636ff 284.0px 284.6px)"></div>
<div class="hb" style="left:39.2px;top:355.7px;width:284.6px;height:25.8px;background:linear-gradient(90deg,#6767ff 0.0px 2.0px,#6a6aff 2.0px 3.0px,#6969ff 3.0px 5.5px,#6e6eff 5.5px 7.5px,#6161ff 7.5px 9.0px,#6565ff 9.0px 11.5px,#4f4fff 11.5px 12.5px,#5858ff 12.5px 14.5px,#6f6fff 14.5px 16.0px,#7070ff 16.0px 17.5px,#6161ff 17.5px 19.0px,#6d6dff 19.0px 21.0px,#6868ff 21.0px 22.5px,#4b4bff 22.5px 24.0px,#6161ff 24.0px 26.0px,#6666ff 26.0px 27.0px,#5f5fff 27.0px 28.0px,#6161ff 28.0px 31.0px,#6060ff 31.0px 33.0px,#5c5cff 33.0px 35.5px,#5959ff 35.5px 37.0px,#5454ff 37.0px 38.0px,#6363ff 38.0px 40.5px,#5454ff 40.5px 42.0px,#5f5fff 42.0px 43.0px,#5555ff 43.0px 45.0px,#6a6aff 45.0px 48.0px,#5a5aff 48.0px 51.0px,#5555ff 51.0px 53.5px,#5757ff 53.5px 56.5px,#6363ff 56.5px 59.5px,#6262ff 59.5px 62.0px,#6a6aff 62.0px 64.0px,#6767ff 64.0px 67.0px,#4848ff 67.0px 69.0px,#5c5cff 69.0px 72.0px,#4343ff 72.0px 73.0px,#5555ff 73.0px 74.0px,#4b4bff 74.0px 75.0px,#4444ff 75.0px 77.5px,#5454ff 77.5px 79.5px,#5353ff 79.5px 81.5px,#4b4bff 81.5px 84.5px,#3c3cff 84.5px 85.5px,#5b5bff 85.5px 87.0px,#5252ff 87.0px 88.5px,#4242ff 88.5px 90.5px,#4848ff 90.5px 92.5px,#4d4dff 92.5px 94.5px,#3232ff 94.5px 95.5px,#5f5fff 95.5px 97.5px,#3c3cff 97.5px 99.0px,#5959ff 99.0px 101.0px,#2d2dff 101.0px 102.5px,#5353ff 102.5px 104.5px,#3f3fff 104.5px 106.0px,#4747ff 106.0px 107.5px,#3d3dff 107.5px 110.5px,#4949ff 110.5px 112.0px,#4e4eff 112.0px 115.0px,#5656ff 115.0px 116.0px,#2f2fff 116.0px 117.0px,#5050ff 117.0px 119.0px,#3939ff 119.0px 121.5px,#3232ff 121.5px 124.5px,#3939ff 124.5px 126.0px,#3b3bff 126.0px 127.5px,#3b3bff 127.5px 129.0px,#4c4cff 129.0px 130.5px,#2f2fff 130.5px 132.0px,#2727ff 132.0px 134.0px,#3636ff 134.0px 135.5px,#2828ff 135.5px 136.5px,#3838ff 136.5px 138.0px,#4242ff 138.0px 139.5px,#2f2fff 139.5px 141.0px,#2727ff 141.0px 143.0px,#3737ff 143.0px 144.5px,#2c2cff 144.5px 147.5px,#3d3dff 147.5px 149.0px,#2727ff 149.0px 150.0px,#3333ff 150.0px 151.0px,#3333ff 151.0px 152.5px,#3636ff 152.5px 154.5px,#3131ff 154.5px 155.5px,#2f2fff 155.5px 156.5px,#2f2fff 156.5px 157.5px,#1e1eff 157.5px 160.5px,#2f2fff 160.5px 162.0px,#3b3bff 162.0px 164.0px,#2d2dff 164.0px 165.0px,#3030ff 165.0px 166.5px,#3636ff 166.5px 167.5px,#2e2eff 167.5px 168.5px,#2e2eff 168.5px 170.0px,#2d2dff 170.0px 172.0px,#2929ff 172.0px 173.0px,#3d3dff 173.0px 174.5px,#3030ff 174.5px 176.5px,#3737ff 176.5px 177.5px,#1f1fff 177.5px 179.0px,#4545ff 179.0px 181.0px,#3d3dff 181.0px 184.0px,#2525ff 184.0px 185.5px,#3838ff 185.5px 188.0px,#3b3bff 188.0px 191.0px,#1616ff 191.0px 192.5px,#2a2aff 192.5px 194.5px,#4848ff 194.5px 196.0px,#2929ff 196.0px 197.5px,#2222ff 197.5px 199.0px,#3232ff 199.0px 200.0px,#4747ff 200.0px 202.0px,#1e1eff 202.0px 205.0px,#2a2aff 205.0px 206.0px,#2525ff 206.0px 208.0px,#2e2eff 208.0px 211.0px,#3434ff 211.0px 213.5px,#3939ff 213.5px 216.0px,#1c1cff 216.0px 217.5px,#2b2bff 217.5px 219.0px,#1c1cff 219.0px 220.5px,#3838ff 220.5px 221.5px,#2525ff 221.5px 223.5px,#3737ff 223.5px 226.5px,#1c1cff 226.5px 228.5px,#3131ff 228.5px 230.0px,#2626ff 230.0px 232.0px,#2626ff 232.0px 234.0px,#2727ff 234.0px 236.0px,#2020ff 236.0px 237.5px,#1f1fff 237.5px 239.0px,#3b3bff 239.0px 241.5px,#1515ff 241.5px 244.5px,#2b2bff 244.5px 247.0px,#2828ff 247.0px 248.5px,#1e1eff 248.5px 250.0px,#1d1dff 250.0px 251.5px,#3232ff 251.5px 254.0px,#2222ff 254.0px 256.5px,#2727ff 256.5px 258.0px,#1414ff 258.0px 259.5px,#2424ff 259.5px 262.5px,#2222ff 262.5px 265.5px,#1f1fff 265.5px 267.0px,#3333ff 267.0px 270.0px,#2525ff 270.0px 271.0px,#2424ff 271.0px 273.5px,#3333ff 273.5px 275.5px,#2626ff 275.5px 277.0px,#1d1dff 277.0px 279.0px,#2f2fff 279.0px 281.0px,#2b2bff 281.0px 282.5px,#2626ff 282.5px 284.5px,#2a2aff 284.5px 284.6px)"></div>
<div class="hb" style="left:39.2px;top:380.7px;width:284.6px;height:26.8px;background:linear-gradient(90deg,#a2a2ff 0.0px 1.0px,#8282ff 1.0px 2.0px,#9595ff 2.0px 3.5px,#9999ff 3.5px 5.5px,#9393ff 5.5px 6.5px,#9a9aff 6.5px 7.5px,#9a9aff 7.5px 9.5px,#8e8eff 9.5px 11.0px,#9797ff 11.0px 13.5px,#9696ff 13.5px 14.5px,#8d8dff 14.5px 15.5px,#9494ff 15.5px 18.5px,#9696ff 18.5px 19.5px,#8e8eff 19.5px 20.5px,#8e8eff 20.5px 22.5px,#8181ff 22.5px 25.0px,#8a8aff 25.0px 26.5px,#8e8eff 26.5px 29.5px,#7d7dff 29.5px 32.0px,#8181ff 32.0px 35.0px,#8c8cff 35.0px 37.0px,#9090ff 37.0px 39.5px,#7d7dff 39.5px 41.0px,#7878ff 41.0px 44.0px,#9191ff 44.0px 45.5px,#8282ff 45.5px 46.5px,#7979ff 46.5px 47.5px,#6b6bff 47.5px 50.0px,#9090ff 50.0px 51.0px,#8181ff 51.0px 52.5px,#7a7aff 52.5px 54.0px,#8080ff 54.0px 56.0px,#7a7aff 56.0px 58.5px,#6b6bff 58.5px 60.0px,#7272ff 60.0px 61.5px,#6f6fff 61.5px 63.5px,#6e6eff 63.5px 64.5px,#8686ff 64.5px 66.0px,#7d7dff 66.0px 68.0px,#7a7aff 68.0px 69.0px,#8181ff 69.0px 71.0px,#7a7aff 71.0px 72.5px,#8585ff 72.5px 73.5px,#8080ff 73.5px 75.5px,#7b7bff 75.5px 76.5px,#5e5eff 76.5px 78.0px,#6a6aff 78.0px 80.5px,#6868ff 80.5px 81.5px,#6c6cff 81.5px 82.5px,#7474ff 82.5px 85.5px,#8989ff 85.5px 88.0px,#8484ff 88.0px 90.5px,#6d6dff 90.5px 92.0px,#8282ff 92.0px 94.5px,#6565ff 94.5px 97.0px,#7171ff 97.0px 98.0px,#6d6dff 98.0px 99.0px,#6b6bff 99.0px 100.5px,#6060ff 100.5px 102.0px,#7878ff 102.0px 104.0px,#7979ff 104.0px 106.0px,#7c7cff 106.0px 108.5px,#8686ff 108.5px 110.0px,#6767ff 110.0px 111.5px,#6565ff 111.5px 112.5px,#6b6bff 112.5px 113.5px,#6565ff 113.5px 116.5px,#5d5dff 116.5px 119.5px,#7e7eff 119.5px 120.5px,#7979ff 120.5px 123.0px,#5858ff 123.0px 125.0px,#6c6cff 125.0px 127.5px,#7575ff 127.5px 129.5px,#7575ff 129.5px 130.5px,#7070ff 130.5px 131.5px,#7272ff 131.5px 132.5px,#5d5dff 132.5px 133.5px,#6666ff 133.5px 134.5px,#6363ff 134.5px 136.0px,#8787ff 136.0px 139.0px,#6161ff 139.0px 141.0px,#6464ff 141.0px 142.0px,#5959ff 142.0px 143.0px,#6464ff 143.0px 145.0px,#6b6bff 145.0px 146.0px,#6363ff 146.0px 147.0px,#5757ff 147.0px 148.5px,#5b5bff 148.5px 150.5px,#6060ff 150.5px 153.5px,#7070ff 153.5px 154.5px,#5757ff 154.5px 156.5px,#6363ff 156.5px 158.5px,#6a6aff 158.5px 159.5px,#6565ff 159.5px 161.5px,#5656ff 161.5px 163.0px,#6363ff 163.0px 165.0px,#5252ff 165.0px 167.0px,#6161ff 167.0px 169.0px,#7373ff 169.0px 170.5px,#5555ff 170.5px 172.5px,#5f5fff 172.5px 174.0px,#6060ff 174.0px 175.5px,#6868ff 175.5px 176.5px,#5e5eff 176.5px 178.0px,#5151ff 178.0px 180.0px,#6161ff 180.0px 181.5px,#3f3fff 181.5px 184.0px,#5353ff 184.0px 185.0px,#4b4bff 185.0px 187.0px,#4848ff 187.0px 190.0px,#5252ff 190.0px 192.5px,#4c4cff 192.5px 195.0px,#4747ff 195.0px 197.5px,#4242ff 197.5px 199.5px,#4242ff 199.5px 202.0px,#3e3eff 202.0px 204.5px,#4242ff 204.5px 206.0px,#4b4bff 206.0px 208.0px,#4b4bff 208.0px 211.0px,#4747ff 211.0px 212.0px,#5151ff 212.0px 213.5px,#3131ff 213.5px 215.5px,#3a3aff 215.5px 218.5px,#4545ff 218.5px 220.5px,#4c4cff 220.5px 222.0px,#3535ff 222.0px 223.5px,#4a4aff 223.5px 224.5px,#4e4eff 224.5px 226.0px,#3f3fff 226.0px 229.0px,#4545ff 229.0px 230.5px,#3f3fff 230.5px 232.0px,#3838ff 232.0px 234.0px,#3c3cff 234.0px 236.0px,#4747ff 236.0px 238.5px,#4646ff 238.5px 239.5px,#3b3bff 239.5px 242.5px,#2e2eff 242.5px 243.5px,#4343ff 243.5px 244.5px,#4444ff 244.5px 245.5px,#3a3aff 245.5px 247.5px,#4141ff 247.5px 249.0px,#3c3cff 249.0px 251.5px,#3b3bff 251.5px 252.5px,#4444ff 252.5px 253.5px,#3838ff 253.5px 255.5px,#3838ff 255.5px 256.5px,#2f2fff 256.5px 257.5px,#2e2eff 257.5px 260.5px,#3b3bff 260.5px 262.0px,#3232ff 262.0px 265.0px,#3333ff 265.0px 267.0px,#3c3cff 267.0px 268.0px,#2222ff 268.0px 270.0px,#2727ff 270.0px 272.0px,#4242ff 272.0px 274.0px,#3939ff 274.0px 275.0px,#2c2cff 275.0px 276.0px,#4343ff 276.0px 278.0px,#4646ff 278.0px 280.0px,#2b2bff 280.0px 283.0px,#2020ff 283.0px 284.6px)"></div>
<div class="hb" style="left:39.2px;top:406.7px;width:284.6px;height:25.9px;background:linear-gradient(90deg,#6868ff 0.0px 2.0px,#6161ff 2.0px 3.0px,#5c5cff 3.0px 4.0px,#6262ff 4.0px 5.5px,#5151ff 5.5px 7.0px,#6a6aff 7.0px 8.5px,#6a6aff 8.5px 10.5px,#8484ff 10.5px 12.0px,#5353ff 12.0px 15.0px,#6262ff 15.0px 18.0px,#4d4dff 18.0px 19.5px,#5e5eff 19.5px 20.5px,#5f5fff 20.5px 23.5px,#6767ff 23.5px 24.5px,#5b5bff 24.5px 27.0px,#4646ff 27.0px 28.0px,#6363ff 28.0px 29.0px,#5858ff 29.0px 31.5px,#6060ff 31.5px 34.5px,#4848ff 34.5px 37.0px,#5e5eff 37.0px 38.0px,#6767ff 38.0px 40.0px,#5757ff 40.0px 42.5px,#5858ff 42.5px 44.0px,#7272ff 44.0px 45.0px,#5d5dff 45.0px 46.0px,#3e3eff 46.0px 49.0px,#6464ff 49.0px 52.0px,#4949ff 52.0px 54.5px,#5858ff 54.5px 56.5px,#4d4dff 56.5px 58.5px,#4848ff 58.5px 61.0px,#4747ff 61.0px 63.5px,#3e3eff 63.5px 64.5px,#4949ff 64.5px 65.5px,#4545ff 65.5px 68.5px,#3333ff 68.5px 69.5px,#4545ff 69.5px 70.5px,#3939ff 70.5px 72.5px,#3c3cff 72.5px 73.5px,#3e3eff 73.5px 75.5px,#5050ff 75.5px 76.5px,#2f2fff 76.5px 78.0px,#3a3aff 78.0px 80.0px,#3e3eff 80.0px 82.0px,#3c3cff 82.0px 83.0px,#4e4eff 83.0px 85.5px,#2d2dff 85.5px 86.5px,#4b4bff 86.5px 88.0px,#3939ff 88.0px 91.0px,#5757ff 91.0px 92.0px,#4242ff 92.0px 94.0px,#3f3fff 94.0px 96.0px,#4040ff 96.0px 97.0px,#3636ff 97.0px 98.5px,#3f3fff 98.5px 100.5px,#4949ff 100.5px 102.0px,#3838ff 102.0px 104.0px,#3939ff 104.0px 105.0px,#2727ff 105.0px 106.5px,#4545ff 106.5px 108.5px,#3e3eff 108.5px 110.0px,#3434ff 110.0px 112.0px,#4343ff 112.0px 114.0px,#3b3bff 114.0px 117.0px,#3f3fff 117.0px 118.0px,#3636ff 118.0px 119.0px,#4141ff 119.0px 121.5px,#2929ff 121.5px 122.5px,#3434ff 122.5px 124.5px,#3d3dff 124.5px 126.0px,#3333ff 126.0px 128.0px,#3535ff 128.0px 129.0px,#2f2fff 129.0px 132.0px,#3535ff 132.0px 133.0px,#3939ff 133.0px 134.5px,#3030ff 134.5px 136.5px,#3737ff 136.5px 138.0px,#3131ff 138.0px 140.0px,#3838ff 140.0px 141.0px,#2e2eff 141.0px 144.0px,#3838ff 144.0px 146.0px,#3131ff 146.0px 147.5px,#2f2fff 147.5px 149.5px,#2727ff 149.5px 151.0px,#3030ff 151.0px 154.0px,#3a3aff 154.0px 155.5px,#2929ff 155.5px 157.0px,#2a2aff 157.0px 158.5px,#3030ff 158.5px 160.0px,#2f2fff 160.0px 161.0px,#3434ff 161.0px 162.5px,#1e1eff 162.5px 164.5px,#3838ff 164.5px 166.5px,#3636ff 166.5px 169.5px,#2b2bff 169.5px 171.0px,#3232ff 171.0px 173.5px,#3232ff 173.5px 175.0px,#3333ff 175.0px 176.0px,#3939ff 176.0px 177.0px,#2929ff 177.0px 178.5px,#2c2cff 178.5px 180.0px,#3030ff 180.0px 182.5px,#3737ff 182.5px 185.5px,#3636ff 185.5px 187.0px,#2525ff 187.0px 188.5px,#2828ff 188.5px 190.5px,#1d1dff 190.5px 193.5px,#2b2bff 193.5px 195.0px,#3939ff 195.0px 197.5px,#3333ff 197.5px 199.5px,#3030ff 199.5px 200.5px,#3838ff 200.5px 202.5px,#3838ff 202.5px 204.0px,#2222ff 204.0px 207.0px,#1b1bff 207.0px 209.0px,#3f3fff 209.0px 210.0px,#3838ff 210.0px 213.0px,#3232ff 213.0px 215.5px,#2222ff 215.5px 217.5px,#2d2dff 217.5px 219.0px,#2525ff 219.0px 220.5px,#2c2cff 220.5px 221.5px,#3c3cff 221.5px 224.5px,#1e1eff 224.5px 226.5px,#2323ff 226.5px 229.0px,#2121ff 229.0px 230.0px,#2727ff 230.0px 232.5px,#2424ff 232.5px 234.0px,#2222ff 234.0px 236.0px,#3e3eff 236.0px 238.0px,#1f1fff 238.0px 241.0px,#2121ff 241.0px 242.5px,#1c1cff 242.5px 244.5px,#1919ff 244.5px 247.0px,#2828ff 247.0px 248.0px,#3838ff 248.0px 251.0px,#3b3bff 251.0px 253.0px,#1a1aff 253.0px 255.5px,#1f1fff 255.5px 256.5px,#2c2cff 256.5px 258.0px,#4444ff 258.0px 259.0px,#3a3aff 259.0px 260.5px,#2121ff 260.5px 262.5px,#3232ff 262.5px 265.5px,#2626ff 265.5px 268.0px,#2d2dff 268.0px 269.0px,#1a1aff 269.0px 271.0px,#2727ff 271.0px 274.0px,#2121ff 274.0px 276.5px,#1c1cff 276.5px 278.0px,#3636ff 278.0px 279.5px,#2323ff 279.5px 282.0px,#2828ff 282.0px 284.0px,#3232ff 284.0px 284.6px)"></div>
<div class="hb" style="left:39.2px;top:431.8px;width:284.6px;height:25.6px;background:linear-gradient(90deg,#adadff 0.0px 3.0px,#a2a2ff 3.0px 4.5px,#a0a0ff 4.5px 5.5px,#9b9bff 5.5px 7.5px,#a4a4ff 7.5px 8.5px,#9898ff 8.5px 10.5px,#a6a6ff 10.5px 13.5px,#9595ff 13.5px 14.5px,#9b9bff 14.5px 15.5px,#9595ff 15.5px 17.0px,#8989ff 17.0px 18.0px,#acacff 18.0px 20.0px,#a7a7ff 20.0px 22.0px,#9f9fff 22.0px 24.5px,#9c9cff 24.5px 26.0px,#9c9cff 26.0px 28.0px,#9f9fff 28.0px 29.0px,#8f8fff 29.0px 31.0px,#8f8fff 31.0px 33.0px,#9999ff 33.0px 34.5px,#9f9fff 34.5px 37.5px,#a8a8ff 37.5px 40.5px,#9595ff 40.5px 42.5px,#8e8eff 42.5px 45.0px,#9e9eff 45.0px 46.0px,#afafff 46.0px 48.0px,#8f8fff 48.0px 49.5px,#8e8eff 49.5px 51.5px,#9494ff 51.5px 54.0px,#a6a6ff 54.0px 55.0px,#7b7bff 55.0px 56.0px,#9898ff 56.0px 58.0px,#8181ff 58.0px 60.0px,#8f8fff 60.0px 61.5px,#9292ff 61.5px 63.5px,#9d9dff 63.5px 66.5px,#9a9aff 66.5px 68.5px,#6e6eff 68.5px 71.0px,#8d8dff 71.0px 72.0px,#8b8bff 72.0px 73.0px,#7f7fff 73.0px 75.5px,#7e7eff 75.5px 78.5px,#7a7aff 78.5px 80.0px,#8e8eff 80.0px 81.5px,#9393ff 81.5px 84.5px,#8585ff 84.5px 86.0px,#8585ff 86.0px 88.0px,#8484ff 88.0px 90.0px,#7a7aff 90.0px 92.0px,#7272ff 92.0px 95.0px,#7f7fff 95.0px 96.5px,#8e8eff 96.5px 98.0px,#8c8cff 98.0px 99.5px,#7f7fff 99.5px 100.5px,#7878ff 100.5px 101.5px,#9797ff 101.5px 103.0px,#8787ff 103.0px 104.5px,#8e8eff 104.5px 105.5px,#7d7dff 105.5px 107.5px,#7676ff 107.5px 108.5px,#7c7cff 108.5px 110.5px,#8989ff 110.5px 112.5px,#8282ff 112.5px 115.5px,#7575ff 115.5px 117.5px,#6868ff 117.5px 119.5px,#5e5eff 119.5px 120.5px,#7272ff 120.5px 122.0px,#7f7fff 122.0px 123.5px,#7575ff 123.5px 126.0px,#7f7fff 126.0px 128.0px,#8c8cff 128.0px 130.0px,#7575ff 130.0px 132.0px,#7474ff 132.0px 133.5px,#7777ff 133.5px 135.5px,#7676ff 135.5px 137.5px,#7575ff 137.5px 139.5px,#6464ff 139.5px 140.5px,#6969ff 140.5px 142.5px,#5a5aff 142.5px 144.5px,#6a6aff 144.5px 145.5px,#5e5eff 145.5px 147.5px,#7272ff 147.5px 149.5px,#6060ff 149.5px 151.0px,#6a6aff 151.0px 152.5px,#7373ff 152.5px 154.0px,#5d5dff 154.0px 155.0px,#7b7bff 155.0px 156.5px,#5b5bff 156.5px 157.5px,#6262ff 157.5px 159.0px,#5c5cff 159.0px 162.0px,#6969ff 162.0px 164.0px,#5959ff 164.0px 165.0px,#5c5cff 165.0px 166.5px,#5858ff 166.5px 169.5px,#6868ff 169.5px 171.0px,#6060ff 171.0px 172.0px,#5555ff 172.0px 174.0px,#6666ff 174.0px 175.5px,#5454ff 175.5px 176.5px,#5959ff 176.5px 179.0px,#5353ff 179.0px 180.5px,#6565ff 180.5px 182.5px,#6161ff 182.5px 185.5px,#5a5aff 185.5px 188.0px,#5d5dff 188.0px 189.5px,#4f4fff 189.5px 192.5px,#5454ff 192.5px 195.5px,#5c5cff 195.5px 196.5px,#5050ff 196.5px 199.5px,#3a3aff 199.5px 200.5px,#5151ff 200.5px 202.5px,#4949ff 202.5px 204.5px,#4545ff 204.5px 206.5px,#3e3eff 206.5px 207.5px,#5151ff 207.5px 209.5px,#4141ff 209.5px 212.5px,#4444ff 212.5px 215.5px,#4f4fff 215.5px 216.5px,#4040ff 216.5px 218.0px,#4444ff 218.0px 220.0px,#4a4aff 220.0px 222.5px,#5353ff 222.5px 223.5px,#2d2dff 223.5px 224.5px,#3e3eff 224.5px 225.5px,#5b5bff 225.5px 227.0px,#4444ff 227.0px 230.0px,#4040ff 230.0px 232.0px,#4343ff 232.0px 234.0px,#3e3eff 234.0px 235.0px,#4c4cff 235.0px 236.5px,#3f3fff 236.5px 238.0px,#4141ff 238.0px 240.0px,#3333ff 240.0px 241.5px,#3e3eff 241.5px 242.5px,#3a3aff 242.5px 245.0px,#3e3eff 245.0px 246.0px,#5151ff 246.0px 249.0px,#3535ff 249.0px 250.0px,#3737ff 250.0px 252.5px,#2e2eff 252.5px 255.5px,#4242ff 255.5px 257.0px,#4444ff 257.0px 258.5px,#3838ff 258.5px 261.0px,#3d3dff 261.0px 262.0px,#4141ff 262.0px 265.0px,#3333ff 265.0px 266.0px,#3f3fff 266.0px 267.5px,#3636ff 267.5px 268.5px,#3232ff 268.5px 269.5px,#3f3fff 269.5px 270.5px,#3333ff 270.5px 271.5px,#3737ff 271.5px 274.5px,#4040ff 274.5px 277.5px,#2828ff 277.5px 279.0px,#2d2dff 279.0px 281.5px,#4444ff 281.5px 283.0px,#2424ff 283.0px 284.5px,#2d2dff 284.5px 284.6px)"></div>
<div class="hb" style="left:39.2px;top:456.6px;width:284.6px;height:26.1px;background:linear-gradient(90deg,#c2c2ff 0.0px 1.5px,#b7b7ff 1.5px 3.0px,#b9b9ff 3.0px 5.0px,#b2b2ff 5.0px 6.5px,#c0c0ff 6.5px 9.5px,#bdbdff 9.5px 11.5px,#bfbfff 11.5px 13.0px,#a9a9ff 13.0px 15.0px,#9d9dff 15.0px 16.0px,#b1b1ff 16.0px 17.0px,#a8a8ff 17.0px 18.5px,#bdbdff 18.5px 19.5px,#b0b0ff 19.5px 22.0px,#bcbcff 22.0px 24.5px,#a4a4ff 24.5px 26.0px,#b2b2ff 26.0px 27.0px,#bfbfff 27.0px 30.0px,#aeaeff 30.0px 32.5px,#9d9dff 32.5px 35.5px,#b0b0ff 35.5px 37.5px,#ababff 37.5px 38.5px,#acacff 38.5px 39.5px,#b6b6ff 39.5px 41.5px,#9d9dff 41.5px 42.5px,#aeaeff 42.5px 44.0px,#a2a2ff 44.0px 46.0px,#a3a3ff 46.0px 49.0px,#aaaaff 49.0px 50.5px,#b3b3ff 50.5px 52.5px,#b1b1ff 52.5px 55.5px,#b2b2ff 55.5px 57.0px,#a3a3ff 57.0px 58.5px,#a4a4ff 58.5px 59.5px,#9999ff 59.5px 62.5px,#b1b1ff 62.5px 64.0px,#adadff 64.0px 66.5px,#a3a3ff 66.5px 69.0px,#bdbdff 69.0px 70.0px,#9b9bff 70.0px 71.5px,#a5a5ff 71.5px 73.5px,#8f8fff 73.5px 74.5px,#a9a9ff 74.5px 76.0px,#b3b3ff 76.0px 78.0px,#9d9dff 78.0px 79.0px,#a2a2ff 79.0px 81.0px,#9e9eff 81.0px 83.0px,#a6a6ff 83.0px 85.5px,#9c9cff 85.5px 87.5px,#9595ff 87.5px 88.5px,#a1a1ff 88.5px 90.0px,#a7a7ff 90.0px 91.5px,#9393ff 91.5px 93.0px,#9d9dff 93.0px 95.0px,#acacff 95.0px 97.0px,#9d9dff 97.0px 100.0px,#9595ff 100.0px 102.0px,#9f9fff 102.0px 105.0px,#a9a9ff 105.0px 106.5px,#9f9fff 106.5px 109.5px,#9f9fff 109.5px 111.5px,#8a8aff 111.5px 113.0px,#a4a4ff 113.0px 115.5px,#9e9eff 115.5px 118.5px,#9797ff 118.5px 120.5px,#8080ff 120.5px 121.5px,#a2a2ff 121.5px 123.5px,#a4a4ff 123.5px 125.0px,#9494ff 125.0px 126.5px,#a9a9ff 126.5px 129.0px,#8f8fff 129.0px 130.5px,#a4a4ff 130.5px 132.5px,#8d8dff 132.5px 134.0px,#9090ff 134.0px 135.5px,#9393ff 135.5px 137.5px,#7f7fff 137.5px 138.5px,#7676ff 138.5px 140.0px,#8a8aff 140.0px 141.0px,#8383ff 141.0px 142.0px,#7979ff 142.0px 144.0px,#7d7dff 144.0px 145.5px,#8787ff 145.5px 147.5px,#6b6bff 147.5px 148.5px,#7979ff 148.5px 149.5px,#7979ff 149.5px 151.5px,#7f7fff 151.5px 152.5px,#6969ff 152.5px 155.0px,#7575ff 155.0px 156.5px,#9191ff 156.5px 158.5px,#8d8dff 158.5px 161.5px,#7676ff 161.5px 163.5px,#5c5cff 163.5px 164.5px,#7676ff 164.5px 166.5px,#6868ff 166.5px 167.5px,#4c4cff 167.5px 169.5px,#6464ff 169.5px 171.5px,#7474ff 171.5px 173.0px,#6d6dff 173.0px 174.0px,#6868ff 174.0px 175.5px,#5c5cff 175.5px 178.0px,#6767ff 178.0px 179.5px,#6767ff 179.5px 181.5px,#7171ff 181.5px 182.5px,#6666ff 182.5px 184.0px,#5b5bff 184.0px 187.0px,#4646ff 187.0px 188.5px,#5050ff 188.5px 191.5px,#6868ff 191.5px 193.0px,#5858ff 193.0px 194.0px,#5353ff 194.0px 196.0px,#4e4eff 196.0px 197.0px,#5656ff 197.0px 198.5px,#5555ff 198.5px 199.5px,#5050ff 199.5px 201.0px,#4141ff 201.0px 202.5px,#4848ff 202.5px 204.5px,#4e4eff 204.5px 206.0px,#4242ff 206.0px 209.0px,#4848ff 209.0px 211.5px,#3636ff 211.5px 213.0px,#3d3dff 213.0px 215.5px,#4141ff 215.5px 217.5px,#3939ff 217.5px 219.5px,#4d4dff 219.5px 222.5px,#2828ff 222.5px 223.5px,#3636ff 223.5px 225.5px,#3636ff 225.5px 227.5px,#3b3bff 227.5px 229.5px,#3737ff 229.5px 230.5px,#4444ff 230.5px 231.5px,#5050ff 231.5px 234.0px,#3535ff 234.0px 236.0px,#3d3dff 236.0px 238.0px,#2f2fff 238.0px 239.0px,#3e3eff 239.0px 240.5px,#2121ff 240.5px 243.5px,#3a3aff 243.5px 245.5px,#2e2eff 245.5px 247.5px,#3f3fff 247.5px 249.5px,#2828ff 249.5px 250.5px,#4040ff 250.5px 253.0px,#3333ff 253.0px 255.0px,#2323ff 255.0px 257.0px,#2d2dff 257.0px 260.0px,#4747ff 260.0px 262.0px,#2929ff 262.0px 263.0px,#1f1fff 263.0px 265.5px,#4747ff 265.5px 266.5px,#3434ff 266.5px 268.5px,#2121ff 268.5px 270.0px,#3434ff 270.0px 271.0px,#3131ff 271.0px 272.5px,#2929ff 272.5px 274.0px,#1e1eff 274.0px 277.0px,#1b1bff 277.0px 278.0px,#2b2bff 278.0px 279.5px,#2a2aff 279.5px 281.0px,#1818ff 281.0px 282.5px,#3939ff 282.5px 284.0px,#3535ff 284.0px 284.6px)"></div>
<div class="hb" style="left:39.2px;top:481.9px;width:284.6px;height:26.2px;background:linear-gradient(90deg,#acacff 0.0px 2.5px,#bebeff 2.5px 5.5px,#bcbcff 5.5px 7.0px,#b6b6ff 7.0px 9.0px,#cdcdff 9.0px 12.0px,#acacff 12.0px 13.0px,#cdcdff 13.0px 16.0px,#a8a8ff 16.0px 17.5px,#b2b2ff 17.5px 19.5px,#b3b3ff 19.5px 20.5px,#9d9dff 20.5px 23.5px,#c6c6ff 23.5px 25.0px,#b9b9ff 25.0px 27.5px,#b6b6ff 27.5px 29.5px,#b6b6ff 29.5px 32.5px,#c2c2ff 32.5px 33.5px,#b1b1ff 33.5px 34.5px,#b3b3ff 34.5px 37.0px,#bebeff 37.0px 40.0px,#a8a8ff 40.0px 41.0px,#babaff 41.0px 44.0px,#a7a7ff 44.0px 46.0px,#b1b1ff 46.0px 49.0px,#b6b6ff 49.0px 50.5px,#afafff 50.5px 51.5px,#b0b0ff 51.5px 53.5px,#a5a5ff 53.5px 55.0px,#b4b4ff 55.0px 56.5px,#babaff 56.5px 57.5px,#b1b1ff 57.5px 60.0px,#b5b5ff 60.0px 62.5px,#c2c2ff 62.5px 64.5px,#a7a7ff 64.5px 67.0px,#b1b1ff 67.0px 69.0px,#a1a1ff 69.0px 70.5px,#9999ff 70.5px 73.5px,#b4b4ff 73.5px 76.0px,#c4c4ff 76.0px 77.0px,#bdbdff 77.0px 79.0px,#a4a4ff 79.0px 80.5px,#a2a2ff 80.5px 81.5px,#b1b1ff 81.5px 84.5px,#a5a5ff 84.5px 86.5px,#a4a4ff 86.5px 87.5px,#b8b8ff 87.5px 89.5px,#a6a6ff 89.5px 92.0px,#a6a6ff 92.0px 94.0px,#b1b1ff 94.0px 96.0px,#a3a3ff 96.0px 98.0px,#b5b5ff 98.0px 99.5px,#c2c2ff 99.5px 100.5px,#9696ff 100.5px 103.5px,#a2a2ff 103.5px 105.0px,#aeaeff 105.0px 106.0px,#a6a6ff 106.0px 108.5px,#aeaeff 108.5px 110.5px,#a3a3ff 110.5px 111.5px,#adadff 111.5px 112.5px,#a1a1ff 112.5px 114.5px,#8d8dff 114.5px 115.5px,#9797ff 115.5px 118.0px,#b3b3ff 118.0px 120.0px,#9898ff 120.0px 122.0px,#ababff 122.0px 124.5px,#a3a3ff 124.5px 125.5px,#a5a5ff 125.5px 127.5px,#a2a2ff 127.5px 130.5px,#9797ff 130.5px 131.5px,#9797ff 131.5px 133.5px,#b1b1ff 133.5px 135.5px,#a6a6ff 135.5px 138.5px,#9999ff 138.5px 141.5px,#7070ff 141.5px 143.5px,#9b9bff 143.5px 145.5px,#8484ff 145.5px 147.5px,#7777ff 147.5px 150.0px,#7575ff 150.0px 151.5px,#7e7eff 151.5px 152.5px,#7979ff 152.5px 153.5px,#7f7fff 153.5px 155.0px,#6262ff 155.0px 157.0px,#6161ff 157.0px 158.5px,#7c7cff 158.5px 160.5px,#7373ff 160.5px 163.0px,#7b7bff 163.0px 164.5px,#6a6aff 164.5px 166.0px,#7d7dff 166.0px 167.5px,#6b6bff 167.5px 168.5px,#6666ff 168.5px 170.5px,#7171ff 170.5px 172.5px,#6565ff 172.5px 174.0px,#4848ff 174.0px 175.5px,#5151ff 175.5px 177.0px,#5b5bff 177.0px 178.0px,#5959ff 178.0px 179.5px,#6a6aff 179.5px 181.0px,#6565ff 181.0px 182.0px,#3a3aff 182.0px 184.0px,#6969ff 184.0px 185.5px,#5252ff 185.5px 188.0px,#5757ff 188.0px 190.5px,#5656ff 190.5px 193.5px,#5757ff 193.5px 194.5px,#4545ff 194.5px 197.5px,#4a4aff 197.5px 198.5px,#4949ff 198.5px 200.0px,#4343ff 200.0px 201.5px,#3d3dff 201.5px 202.5px,#3e3eff 202.5px 205.5px,#4343ff 205.5px 208.5px,#4949ff 208.5px 211.0px,#4848ff 211.0px 214.0px,#4d4dff 214.0px 215.0px,#3c3cff 215.0px 216.5px,#4646ff 216.5px 218.0px,#2a2aff 218.0px 219.5px,#4343ff 219.5px 222.0px,#2c2cff 222.0px 225.0px,#4141ff 225.0px 226.5px,#3d3dff 226.5px 228.0px,#4f4fff 228.0px 230.0px,#3e3eff 230.0px 231.0px,#3b3bff 231.0px 232.5px,#2626ff 232.5px 235.5px,#2424ff 235.5px 238.5px,#2a2aff 238.5px 239.5px,#3e3eff 239.5px 242.0px,#4343ff 242.0px 243.5px,#3737ff 243.5px 245.0px,#3535ff 245.0px 246.5px,#2929ff 246.5px 248.5px,#2929ff 248.5px 250.0px,#3f3fff 250.0px 252.0px,#3232ff 252.0px 253.5px,#3131ff 253.5px 255.0px,#3030ff 255.0px 257.0px,#1b1bff 257.0px 258.0px,#2f2fff 258.0px 259.0px,#2e2eff 259.0px 260.0px,#3232ff 260.0px 261.0px,#2424ff 261.0px 263.5px,#2121ff 263.5px 266.5px,#3e3eff 266.5px 267.5px,#2f2fff 267.5px 270.5px,#2e2eff 270.5px 273.5px,#1a1aff 273.5px 275.5px,#2222ff 275.5px 278.5px,#2424ff 278.5px 279.5px,#4040ff 279.5px 280.5px,#2a2aff 280.5px 281.5px,#2424ff 281.5px 284.5px,#1212ff 284.5px 284.6px)"></div>
<div class="hb" style="left:39.2px;top:507.3px;width:284.6px;height:24.2px;background:linear-gradient(90deg,#d3d3ff 0.0px 3.0px,#d8d8ff 3.0px 4.0px,#d1d1ff 4.0px 5.0px,#e8e8ff 5.0px 7.5px,#e1e1ff 7.5px 9.0px,#d8d8ff 9.0px 11.5px,#d0d0ff 11.5px 13.5px,#cfcfff 13.5px 14.5px,#c7c7ff 14.5px 16.0px,#e3e3ff 16.0px 17.0px,#dcdcff 17.0px 18.5px,#ceceff 18.5px 20.0px,#dbdbff 20.0px 21.0px,#ccccff 21.0px 23.0px,#d3d3ff 23.0px 26.0px,#ccccff 26.0px 27.5px,#c3c3ff 27.5px 29.0px,#d7d7ff 29.0px 31.0px,#ceceff 31.0px 34.0px,#c7c7ff 34.0px 35.5px,#e2e2ff 35.5px 38.0px,#c1c1ff 38.0px 39.5px,#d5d5ff 39.5px 40.5px,#d5d5ff 40.5px 41.5px,#d2d2ff 41.5px 42.5px,#ddddff 42.5px 45.5px,#d1d1ff 45.5px 46.5px,#d1d1ff 46.5px 48.0px,#ccccff 48.0px 49.5px,#c4c4ff 49.5px 52.0px,#cfcfff 52.0px 53.5px,#b8b8ff 53.5px 55.5px,#b6b6ff 55.5px 57.0px,#c7c7ff 57.0px 60.0px,#d5d5ff 60.0px 61.0px,#c9c9ff 61.0px 63.0px,#ceceff 63.0px 65.0px,#bbbbff 65.0px 67.0px,#b6b6ff 67.0px 68.5px,#cacaff 68.5px 69.5px,#c8c8ff 69.5px 71.0px,#c6c6ff 71.0px 72.0px,#c8c8ff 72.0px 74.0px,#bbbbff 74.0px 76.0px,#c5c5ff 76.0px 77.0px,#b7b7ff 77.0px 79.0px,#aaaaff 79.0px 80.5px,#bdbdff 80.5px 83.0px,#c6c6ff 83.0px 84.5px,#b2b2ff 84.5px 85.5px,#bbbbff 85.5px 88.5px,#b7b7ff 88.5px 89.5px,#b5b5ff 89.5px 92.5px,#acacff 92.5px 95.5px,#a4a4ff 95.5px 98.5px,#bebeff 98.5px 100.0px,#bdbdff 100.0px 101.0px,#adadff 101.0px 102.0px,#c0c0ff 102.0px 103.5px,#9f9fff 103.5px 106.0px,#aaaaff 106.0px 107.5px,#bcbcff 107.5px 109.5px,#b1b1ff 109.5px 111.0px,#a2a2ff 111.0px 114.0px,#a9a9ff 114.0px 116.5px,#a8a8ff 116.5px 118.5px,#9b9bff 118.5px 119.5px,#9d9dff 119.5px 122.0px,#a5a5ff 122.0px 123.0px,#9a9aff 123.0px 125.5px,#8e8eff 125.5px 127.0px,#9b9bff 127.0px 129.0px,#9b9bff 129.0px 130.5px,#6f6fff 130.5px 132.0px,#8989ff 132.0px 133.5px,#8a8aff 133.5px 135.0px,#8b8bff 135.0px 138.0px,#7878ff 138.0px 140.0px,#6f6fff 140.0px 141.0px,#8e8eff 141.0px 142.5px,#7e7eff 142.5px 143.5px,#6b6bff 143.5px 144.5px,#6363ff 144.5px 145.5px,#6f6fff 145.5px 146.5px,#6262ff 146.5px 149.0px,#5959ff 149.0px 151.0px,#6e6eff 151.0px 153.5px,#5f5fff 153.5px 155.0px,#4d4dff 155.0px 156.0px,#5858ff 156.0px 158.0px,#4b4bff 158.0px 160.5px,#5959ff 160.5px 163.5px,#4747ff 163.5px 166.5px,#4c4cff 166.5px 168.0px,#4747ff 168.0px 170.5px,#4545ff 170.5px 173.0px,#3737ff 173.0px 175.5px,#4141ff 175.5px 177.5px,#3030ff 177.5px 178.5px,#3838ff 178.5px 181.5px,#4343ff 181.5px 184.5px,#3838ff 184.5px 186.0px,#3f3fff 186.0px 187.0px,#3c3cff 187.0px 190.0px,#3f3fff 190.0px 191.5px,#3333ff 191.5px 194.5px,#3f3fff 194.5px 196.5px,#3636ff 196.5px 198.5px,#3e3eff 198.5px 199.5px,#4242ff 199.5px 200.5px,#3737ff 200.5px 202.5px,#3232ff 202.5px 204.5px,#4141ff 204.5px 205.5px,#3b3bff 205.5px 207.0px,#3a3aff 207.0px 209.0px,#2b2bff 209.0px 210.5px,#3939ff 210.5px 213.5px,#2727ff 213.5px 214.5px,#2525ff 214.5px 216.0px,#2929ff 216.0px 218.0px,#1e1eff 218.0px 219.5px,#3535ff 219.5px 220.5px,#2727ff 220.5px 223.0px,#2727ff 223.0px 226.0px,#4444ff 226.0px 228.0px,#2727ff 228.0px 229.5px,#4242ff 229.5px 231.0px,#2929ff 231.0px 234.0px,#3737ff 234.0px 235.0px,#1313ff 235.0px 236.5px,#2d2dff 236.5px 239.0px,#2a2aff 239.0px 241.0px,#2323ff 241.0px 242.0px,#2020ff 242.0px 244.0px,#2828ff 244.0px 245.0px,#1818ff 245.0px 248.0px,#3636ff 248.0px 251.0px,#2c2cff 251.0px 252.5px,#2727ff 252.5px 254.0px,#2929ff 254.0px 257.0px,#1f1fff 257.0px 260.0px,#1e1eff 260.0px 262.0px,#2424ff 262.0px 264.0px,#1313ff 264.0px 265.5px,#2222ff 265.5px 266.5px,#1f1fff 266.5px 268.5px,#2020ff 268.5px 270.0px,#1818ff 270.0px 271.5px,#1515ff 271.5px 274.5px,#1a1aff 274.5px 276.0px,#2121ff 276.0px 278.0px,#1a1aff 278.0px 280.0px,#3838ff 280.0px 281.0px,#2323ff 281.0px 283.0px,#1e1eff 283.0px 284.6px)"></div>
<div class="hb" style="left:39.2px;top:530.7px;width:284.6px;height:17.7px;background:linear-gradient(90deg,#ffc6c6 0.0px 2.0px,#ffbcbc 2.0px 3.0px,#ffbebe 3.0px 4.5px,#ffa0a0 4.5px 6.0px,#ffbaba 6.0px 9.0px,#ffb7b7 9.0px 11.0px,#ffbebe 11.0px 13.5px,#ffc7c7 13.5px 15.5px,#ffb1b1 15.5px 18.0px,#ffbfbf 18.0px 19.0px,#ffc1c1 19.0px 20.0px,#ffcdcd 20.0px 21.5px,#ffc1c1 21.5px 23.0px,#ffc7c7 23.0px 24.5px,#ffc9c9 24.5px 25.5px,#ffb3b3 25.5px 28.0px,#ffb4b4 28.0px 30.0px,#ffb8b8 30.0px 31.5px,#ffd5d5 31.5px 32.5px,#ffc0c0 32.5px 34.5px,#ffbbbb 34.5px 35.5px,#ffd2d2 35.5px 36.5px,#ffc0c0 36.5px 39.0px,#ffc1c1 39.0px 41.0px,#ffaeae 41.0px 42.0px,#ffc8c8 42.0px 43.0px,#ffbcbc 43.0px 46.0px,#ffc7c7 46.0px 49.0px,#ffc1c1 49.0px 50.0px,#ffb4b4 50.0px 51.0px,#ffd5d5 51.0px 52.5px,#ffd5d5 52.5px 53.5px,#ffbfbf 53.5px 54.5px,#ffc3c3 54.5px 56.5px,#ffc2c2 56.5px 58.0px,#ffcaca 58.0px 60.0px,#ffd5d5 60.0px 61.5px,#ffcdcd 61.5px 62.5px,#ffd3d3 62.5px 64.0px,#ffd1d1 64.0px 65.0px,#ffc2c2 65.0px 66.0px,#ffc3c3 66.0px 67.0px,#ffc8c8 67.0px 68.0px,#ffd1d1 68.0px 70.5px,#ffdbdb 70.5px 73.0px,#ffb3b3 73.0px 74.5px,#ffdfdf 74.5px 75.5px,#ffd4d4 75.5px 77.5px,#ffd8d8 77.5px 80.0px,#ffcccc 80.0px 82.5px,#ffbbbb 82.5px 84.0px,#ffcaca 84.0px 87.0px,#ffd3d3 87.0px 88.0px,#ffd6d6 88.0px 90.0px,#ffe2e2 90.0px 92.0px,#ffd9d9 92.0px 95.0px,#ffdada 95.0px 96.0px,#ffd0d0 96.0px 97.0px,#ffe8e8 97.0px 98.5px,#ffcccc 98.5px 100.0px,#ffdede 100.0px 102.0px,#ffd7d7 102.0px 104.0px,#ffdddd 104.0px 106.0px,#ffdada 106.0px 107.0px,#ffd4d4 107.0px 108.0px,#ffeded 108.0px 110.0px,#ffe3e3 110.0px 113.0px,#ffdddd 113.0px 115.5px,#ffe9e9 115.5px 117.5px,#ffe8e8 117.5px 120.5px,#ffe7e7 120.5px 121.5px,#ffecec 121.5px 122.5px,#fafaff 122.5px 124.5px,#eeeeff 124.5px 127.5px,#e2e2ff 127.5px 130.0px,#eaeaff 130.0px 132.0px,#c8c8ff 132.0px 133.0px,#dfdfff 133.0px 136.0px,#d8d8ff 136.0px 138.5px,#c5c5ff 138.5px 140.0px,#b6b6ff 140.0px 141.0px,#aeaeff 141.0px 144.0px,#bebeff 144.0px 146.0px,#9f9fff 146.0px 147.0px,#b1b1ff 147.0px 149.5px,#9d9dff 149.5px 150.5px,#a1a1ff 150.5px 151.5px,#9494ff 151.5px 152.5px,#9292ff 152.5px 154.0px,#8989ff 154.0px 155.0px,#8a8aff 155.0px 156.5px,#9191ff 156.5px 157.5px,#6363ff 157.5px 159.5px,#7474ff 159.5px 161.5px,#7272ff 161.5px 163.0px,#7777ff 163.0px 165.0px,#7a7aff 165.0px 166.0px,#7676ff 166.0px 169.0px,#5959ff 169.0px 170.0px,#5858ff 170.0px 172.0px,#6a6aff 172.0px 173.5px,#4f4fff 173.5px 175.0px,#5858ff 175.0px 176.5px,#5050ff 176.5px 179.0px,#4d4dff 179.0px 181.0px,#5050ff 181.0px 182.5px,#4444ff 182.5px 184.0px,#4e4eff 184.0px 186.0px,#4343ff 186.0px 187.5px,#4d4dff 187.5px 190.0px,#4747ff 190.0px 192.0px,#4040ff 192.0px 193.5px,#3737ff 193.5px 195.5px,#4848ff 195.5px 196.5px,#4141ff 196.5px 198.5px,#4444ff 198.5px 200.5px,#4e4eff 200.5px 201.5px,#4848ff 201.5px 203.5px,#5c5cff 203.5px 204.5px,#3f3fff 204.5px 207.0px,#4040ff 207.0px 210.0px,#3535ff 210.0px 211.5px,#3a3aff 211.5px 212.5px,#3636ff 212.5px 214.5px,#4444ff 214.5px 216.5px,#2f2fff 216.5px 219.5px,#4d4dff 219.5px 222.5px,#4d4dff 222.5px 223.5px,#3333ff 223.5px 225.5px,#3f3fff 225.5px 226.5px,#4545ff 226.5px 228.5px,#4b4bff 228.5px 230.5px,#3d3dff 230.5px 233.5px,#2828ff 233.5px 235.5px,#3e3eff 235.5px 237.5px,#2a2aff 237.5px 239.0px,#4141ff 239.0px 241.0px,#3737ff 241.0px 242.0px,#2727ff 242.0px 244.0px,#3636ff 244.0px 247.0px,#3939ff 247.0px 248.0px,#3636ff 248.0px 249.5px,#2b2bff 249.5px 250.5px,#3434ff 250.5px 252.0px,#2525ff 252.0px 253.0px,#4949ff 253.0px 255.0px,#2d2dff 255.0px 257.0px,#2e2eff 257.0px 258.0px,#2f2fff 258.0px 260.0px,#3f3fff 260.0px 261.0px,#3232ff 261.0px 264.0px,#2626ff 264.0px 266.0px,#2e2eff 266.0px 267.0px,#2222ff 267.0px 268.5px,#2929ff 268.5px 269.5px,#2020ff 269.5px 271.0px,#3939ff 271.0px 273.5px,#2e2eff 273.5px 275.5px,#3737ff 275.5px 277.5px,#2828ff 277.5px 278.5px,#2727ff 278.5px 279.5px,#2e2eff 279.5px 281.5px,#2f2fff 281.5px 284.5px,#2d2dff 284.5px 284.6px)"></div>
<div class="hb" style="left:39.2px;top:547.6px;width:284.6px;height:16.8px;background:linear-gradient(90deg,#ffd8d8 0.0px 1.0px,#ffc6c6 1.0px 2.5px,#ffd0d0 2.5px 4.0px,#fff0f0 4.0px 5.5px,#ffd5d5 5.5px 7.5px,#ffe0e0 7.5px 9.0px,#ffc7c7 9.0px 11.0px,#ffcdcd 11.0px 12.5px,#ffe1e1 12.5px 14.5px,#ffd1d1 14.5px 15.5px,#ffe5e5 15.5px 16.5px,#ffcfcf 16.5px 18.0px,#ffc9c9 18.0px 20.0px,#ffd4d4 20.0px 21.0px,#ffdcdc 21.0px 22.5px,#ffdcdc 22.5px 25.5px,#ffdede 25.5px 27.5px,#ffe2e2 27.5px 29.0px,#ffcccc 29.0px 30.5px,#ffcaca 30.5px 33.0px,#ffc9c9 33.0px 35.5px,#ffd1d1 35.5px 37.0px,#ffc7c7 37.0px 38.0px,#ffd7d7 38.0px 40.0px,#ffcbcb 40.0px 42.5px,#ffcdcd 42.5px 45.0px,#ffe0e0 45.0px 47.0px,#ffcece 47.0px 49.0px,#ffcfcf 49.0px 50.0px,#ffd8d8 50.0px 51.5px,#ffd2d2 51.5px 53.5px,#ffcccc 53.5px 55.5px,#ffcbcb 55.5px 57.5px,#ffbebe 57.5px 60.0px,#ffdcdc 60.0px 61.5px,#ffcaca 61.5px 63.5px,#ffe6e6 63.5px 66.5px,#ffcdcd 66.5px 68.5px,#ffe5e5 68.5px 70.0px,#ffd3d3 70.0px 72.5px,#ffd4d4 72.5px 75.0px,#ffd7d7 75.0px 76.5px,#ffd7d7 76.5px 78.5px,#ffd5d5 78.5px 80.5px,#ffd5d5 80.5px 82.0px,#ffe1e1 82.0px 83.5px,#ffefef 83.5px 85.0px,#ffdbdb 85.0px 87.0px,#ffd9d9 87.0px 88.0px,#fff0f0 88.0px 90.5px,#ffe3e3 90.5px 93.5px,#fff9f9 93.5px 96.5px,#ffe1e1 96.5px 98.5px,#ffe3e3 98.5px 101.0px,#ffdfdf 101.0px 102.0px,#ffefef 102.0px 104.0px,#ffd2d2 104.0px 106.0px,#ffe6e6 106.0px 107.0px,#ffcece 107.0px 108.5px,#fff2f2 108.5px 111.5px,#ffeded 111.5px 113.0px,#fff5f5 113.0px 114.5px,#ffe0e0 114.5px 116.0px,#fffefe 116.0px 118.0px,#f4f4ff 118.0px 120.0px,#ffffff 120.0px 121.5px,#f6f6ff 121.5px 124.5px,#f9f9ff 124.5px 127.0px,#f9f9ff 127.0px 129.0px,#dedeff 129.0px 130.0px,#ededff 130.0px 131.0px,#f1f1ff 131.0px 133.0px,#e6e6ff 133.0px 134.0px,#dcdcff 134.0px 135.5px,#d0d0ff 135.5px 138.0px,#ccccff 138.0px 139.0px,#bdbdff 139.0px 140.5px,#babaff 140.5px 141.5px,#9f9fff 141.5px 144.5px,#a3a3ff 144.5px 146.5px,#8a8aff 146.5px 149.0px,#7d7dff 149.0px 150.0px,#8282ff 150.0px 152.5px,#6767ff 152.5px 154.5px,#6c6cff 154.5px 155.5px,#7070ff 155.5px 158.0px,#5e5eff 158.0px 159.0px,#6060ff 159.0px 160.0px,#5f5fff 160.0px 161.5px,#5555ff 161.5px 162.5px,#5e5eff 162.5px 165.0px,#5454ff 165.0px 166.0px,#4d4dff 166.0px 168.5px,#4848ff 168.5px 171.5px,#4b4bff 171.5px 172.5px,#5e5eff 172.5px 173.5px,#5050ff 173.5px 175.0px,#4d4dff 175.0px 178.0px,#4949ff 178.0px 179.5px,#3e3eff 179.5px 182.0px,#2a2aff 182.0px 185.0px,#2828ff 185.0px 187.0px,#2d2dff 187.0px 190.0px,#2424ff 190.0px 191.5px,#2929ff 191.5px 193.5px,#2b2bff 193.5px 194.5px,#1f1fff 194.5px 196.0px,#3939ff 196.0px 199.0px,#2c2cff 199.0px 202.0px,#1f1fff 202.0px 204.5px,#2424ff 204.5px 206.0px,#2323ff 206.0px 209.0px,#1c1cff 209.0px 210.0px,#2121ff 210.0px 211.0px,#2b2bff 211.0px 212.5px,#2727ff 212.5px 215.0px,#0707ff 215.0px 216.0px,#1818ff 216.0px 217.0px,#1616ff 217.0px 219.5px,#2323ff 219.5px 220.5px,#3232ff 220.5px 223.5px,#1818ff 223.5px 226.5px,#1515ff 226.5px 228.5px,#2b2bff 228.5px 230.0px,#1f1fff 230.0px 232.0px,#0b0bff 232.0px 235.0px,#2323ff 235.0px 236.5px,#1919ff 236.5px 238.5px,#1515ff 238.5px 240.0px,#2121ff 240.0px 243.0px,#2929ff 243.0px 245.5px,#1e1eff 245.5px 248.5px,#1a1aff 248.5px 251.0px,#1313ff 251.0px 254.0px,#1f1fff 254.0px 255.0px,#2727ff 255.0px 257.0px,#1d1dff 257.0px 258.5px,#2020ff 258.5px 260.0px,#2828ff 260.0px 262.0px,#2e2eff 262.0px 263.5px,#0f0fff 263.5px 264.5px,#0606ff 264.5px 266.5px,#1717ff 266.5px 268.0px,#1515ff 268.0px 271.0px,#1d1dff 271.0px 272.5px,#1616ff 272.5px 273.5px,#1e1eff 273.5px 274.5px,#0f0fff 274.5px 276.0px,#1616ff 276.0px 277.5px,#1c1cff 277.5px 279.0px,#1717ff 279.0px 280.0px,#1919ff 280.0px 283.0px,#1a1aff 283.0px 284.0px,#1010ff 284.0px 284.6px)"></div>
<div class="hb" style="left:39.2px;top:563.6px;width:284.6px;height:15.4px;background:linear-gradient(90deg,#ff6868 0.0px 2.0px,#ff5858 2.0px 3.5px,#ff6e6e 3.5px 5.0px,#ff5858 5.0px 6.0px,#ff5d5d 6.0px 8.0px,#ff6d6d 8.0px 10.0px,#ff5959 10.0px 11.0px,#ff6161 11.0px 12.0px,#ff5d5d 12.0px 13.0px,#ff5f5f 13.0px 14.5px,#ff5656 14.5px 16.5px,#ff5c5c 16.5px 18.5px,#ff5252 18.5px 20.5px,#ff5757 20.5px 22.5px,#ff5e5e 22.5px 25.5px,#ff6b6b 25.5px 26.5px,#ff6262 26.5px 28.0px,#ff5e5e 28.0px 29.5px,#ff5959 29.5px 31.0px,#ff5656 31.0px 32.5px,#ff6060 32.5px 34.0px,#ff5d5d 34.0px 35.0px,#ff7272 35.0px 37.0px,#ff6969 37.0px 38.0px,#ff5858 38.0px 40.0px,#ff6b6b 40.0px 41.5px,#ff7777 41.5px 44.0px,#ff7070 44.0px 46.0px,#ff5d5d 46.0px 47.5px,#ff4c4c 47.5px 48.5px,#ff6a6a 48.5px 50.0px,#ff6b6b 50.0px 51.0px,#ff5454 51.0px 53.0px,#ff6161 53.0px 54.0px,#ff6363 54.0px 55.5px,#ff5353 55.5px 57.5px,#ff6060 57.5px 60.5px,#ff5b5b 60.5px 62.5px,#ff6464 62.5px 63.5px,#ff6c6c 63.5px 64.5px,#ff6b6b 64.5px 65.5px,#ff7f7f 65.5px 68.5px,#ff7272 68.5px 70.5px,#ff6666 70.5px 73.5px,#ff6161 73.5px 74.5px,#ff5d5d 74.5px 76.0px,#ff6b6b 76.0px 78.0px,#ff6767 78.0px 80.5px,#ff5b5b 80.5px 81.5px,#ff6666 81.5px 83.0px,#ff6b6b 83.0px 84.0px,#ff8383 84.0px 87.0px,#ff6565 87.0px 89.5px,#ff8383 89.5px 91.5px,#ff7b7b 91.5px 93.0px,#ff8c8c 93.0px 95.5px,#ff8c8c 95.5px 98.5px,#ff8282 98.5px 100.5px,#ff7777 100.5px 103.5px,#ff9898 103.5px 105.5px,#ff9696 105.5px 106.5px,#ff8989 106.5px 107.5px,#ff8e8e 107.5px 110.5px,#ff8383 110.5px 112.5px,#ff8d8d 112.5px 115.5px,#ff9b9b 115.5px 118.5px,#ff9292 118.5px 120.0px,#ffa7a7 120.0px 122.5px,#ffb3b3 122.5px 124.0px,#ff9d9d 124.0px 126.0px,#ffcece 126.0px 129.0px,#ffe1e1 129.0px 131.0px,#ffc9c9 131.0px 132.0px,#ffcfcf 132.0px 134.0px,#ffc6c6 134.0px 136.5px,#ffd1d1 136.5px 138.0px,#ffe2e2 138.0px 139.5px,#fff8f8 139.5px 140.5px,#ffe7e7 140.5px 141.5px,#fffdfd 141.5px 143.5px,#fff3f3 143.5px 145.0px,#fcfcff 145.0px 148.0px,#ececff 148.0px 149.5px,#dedeff 149.5px 152.5px,#cdcdff 152.5px 153.5px,#bdbdff 153.5px 156.5px,#acacff 156.5px 158.0px,#b5b5ff 158.0px 160.0px,#9696ff 160.0px 162.0px,#8585ff 162.0px 163.0px,#8282ff 163.0px 165.5px,#8c8cff 165.5px 167.5px,#7e7eff 167.5px 169.5px,#7676ff 169.5px 170.5px,#7c7cff 170.5px 172.0px,#6d6dff 172.0px 173.0px,#7272ff 173.0px 175.0px,#7474ff 175.0px 177.0px,#8f8fff 177.0px 178.0px,#8989ff 178.0px 180.5px,#6a6aff 180.5px 182.5px,#7777ff 182.5px 185.5px,#6b6bff 185.5px 187.5px,#8585ff 187.5px 188.5px,#7171ff 188.5px 189.5px,#6767ff 189.5px 191.5px,#7a7aff 191.5px 192.5px,#5858ff 192.5px 194.5px,#6161ff 194.5px 196.5px,#6363ff 196.5px 198.0px,#5b5bff 198.0px 199.5px,#5a5aff 199.5px 201.5px,#4848ff 201.5px 204.5px,#5151ff 204.5px 205.5px,#5d5dff 205.5px 207.5px,#5555ff 207.5px 208.5px,#4c4cff 208.5px 209.5px,#4f4fff 209.5px 211.0px,#5f5fff 211.0px 213.0px,#5c5cff 213.0px 216.0px,#5c5cff 216.0px 217.0px,#5b5bff 217.0px 218.5px,#4949ff 218.5px 219.5px,#4d4dff 219.5px 221.0px,#4f4fff 221.0px 223.0px,#4a4aff 223.0px 226.0px,#3737ff 226.0px 227.5px,#6767ff 227.5px 229.0px,#4848ff 229.0px 230.0px,#5d5dff 230.0px 231.5px,#4e4eff 231.5px 234.5px,#3f3fff 234.5px 236.5px,#5151ff 236.5px 238.5px,#6060ff 238.5px 241.5px,#3e3eff 241.5px 242.5px,#5555ff 242.5px 244.0px,#3939ff 244.0px 245.5px,#4747ff 245.5px 246.5px,#6060ff 246.5px 249.5px,#3838ff 249.5px 252.5px,#3434ff 252.5px 253.5px,#4545ff 253.5px 256.0px,#4646ff 256.0px 257.0px,#3a3aff 257.0px 259.0px,#4b4bff 259.0px 261.0px,#6060ff 261.0px 264.0px,#4242ff 264.0px 265.5px,#3838ff 265.5px 267.5px,#4343ff 267.5px 269.0px,#3838ff 269.0px 271.5px,#4444ff 271.5px 272.5px,#3737ff 272.5px 274.0px,#4343ff 274.0px 277.0px,#3434ff 277.0px 279.0px,#2c2cff 279.0px 281.0px,#4141ff 281.0px 283.5px,#4141ff 283.5px 284.6px)"></div>
<div class="hb" style="left:39.2px;top:578.2px;width:284.6px;height:14.0px;background:linear-gradient(90deg,#ff4646 0.0px 1.0px,#ff4d4d 1.0px 2.0px,#ff4747 2.0px 3.5px,#ff6262 3.5px 6.5px,#ff5050 6.5px 9.0px,#ff5151 9.0px 10.5px,#ff4040 10.5px 12.5px,#ff3d3d 12.5px 14.5px,#ff4f4f 14.5px 16.5px,#ff5252 16.5px 18.5px,#ff4747 18.5px 19.5px,#ff5656 19.5px 20.5px,#ff5454 20.5px 22.5px,#ff6060 22.5px 25.0px,#ff6161 25.0px 26.0px,#ff5454 26.0px 27.5px,#ff6868 27.5px 29.0px,#ff5454 29.0px 30.5px,#ff5050 30.5px 31.5px,#ff5252 31.5px 33.0px,#ff4e4e 33.0px 34.0px,#ff5252 34.0px 36.0px,#ff5252 36.0px 37.5px,#ff6464 37.5px 38.5px,#ff4848 38.5px 39.5px,#ff6969 39.5px 40.5px,#ff5b5b 40.5px 42.5px,#ff4848 42.5px 43.5px,#ff5353 43.5px 45.0px,#ff6363 45.0px 46.5px,#ff4b4b 46.5px 47.5px,#ff4949 47.5px 49.0px,#ff4949 49.0px 52.0px,#ff5050 52.0px 54.0px,#ff4c4c 54.0px 55.0px,#ff5858 55.0px 56.5px,#ff4b4b 56.5px 58.5px,#ff4343 58.5px 61.5px,#ff5858 61.5px 63.5px,#ff6868 63.5px 65.0px,#ff6e6e 65.0px 68.0px,#ff5353 68.0px 71.0px,#ff5e5e 71.0px 74.0px,#ff5b5b 74.0px 76.5px,#ff5050 76.5px 77.5px,#ff5959 77.5px 79.0px,#ff7777 79.0px 80.5px,#ff6969 80.5px 83.5px,#ff6060 83.5px 84.5px,#ff7070 84.5px 86.0px,#ff8686 86.0px 88.5px,#ff6969 88.5px 91.5px,#ff6262 91.5px 94.5px,#ff8181 94.5px 95.5px,#ff7c7c 95.5px 97.0px,#ff7e7e 97.0px 99.5px,#ff8e8e 99.5px 101.0px,#ff8686 101.0px 102.5px,#ff9090 102.5px 104.0px,#ff8585 104.0px 105.5px,#ff9393 105.5px 107.5px,#ff8a8a 107.5px 110.5px,#ff9898 110.5px 113.0px,#ff9e9e 113.0px 114.0px,#ff9d9d 114.0px 116.0px,#ffa8a8 116.0px 117.0px,#ff9595 117.0px 118.0px,#ff9d9d 118.0px 119.0px,#ffb5b5 119.0px 120.0px,#ffc4c4 120.0px 122.0px,#ffb7b7 122.0px 123.5px,#ffb3b3 123.5px 125.0px,#ffc0c0 125.0px 127.0px,#ffb5b5 127.0px 128.5px,#ffc7c7 128.5px 129.5px,#ffc8c8 129.5px 130.5px,#ffcbcb 130.5px 132.0px,#ffd2d2 132.0px 133.5px,#ffe2e2 133.5px 135.5px,#fff2f2 135.5px 137.0px,#fafaff 137.0px 138.5px,#f7f7ff 138.5px 141.0px,#dcdcff 141.0px 143.0px,#c9c9ff 143.0px 144.0px,#c3c3ff 144.0px 145.0px,#c3c3ff 145.0px 147.5px,#b7b7ff 147.5px 149.5px,#a4a4ff 149.5px 151.5px,#9292ff 151.5px 153.5px,#9595ff 153.5px 156.0px,#a1a1ff 156.0px 157.0px,#9898ff 157.0px 159.5px,#8e8eff 159.5px 160.5px,#8888ff 160.5px 163.0px,#6d6dff 163.0px 165.0px,#7272ff 165.0px 167.5px,#6262ff 167.5px 169.0px,#6666ff 169.0px 170.5px,#6262ff 170.5px 172.0px,#5a5aff 172.0px 173.5px,#7b7bff 173.5px 174.5px,#7979ff 174.5px 175.5px,#4d4dff 175.5px 176.5px,#7070ff 176.5px 178.5px,#5c5cff 178.5px 179.5px,#6262ff 179.5px 182.5px,#5d5dff 182.5px 184.0px,#6060ff 184.0px 186.0px,#5858ff 186.0px 187.0px,#4f4fff 187.0px 188.0px,#5b5bff 188.0px 190.5px,#6767ff 190.5px 192.0px,#5b5bff 192.0px 193.5px,#6060ff 193.5px 195.5px,#6464ff 195.5px 198.5px,#6969ff 198.5px 201.0px,#5454ff 201.0px 202.5px,#4747ff 202.5px 203.5px,#5050ff 203.5px 206.5px,#4b4bff 206.5px 208.5px,#5252ff 208.5px 211.5px,#5656ff 211.5px 214.5px,#6363ff 214.5px 216.5px,#5555ff 216.5px 218.0px,#5050ff 218.0px 220.0px,#4646ff 220.0px 222.0px,#5858ff 222.0px 224.0px,#6c6cff 224.0px 226.5px,#4949ff 226.5px 228.5px,#6262ff 228.5px 230.0px,#4949ff 230.0px 232.0px,#4242ff 232.0px 234.5px,#4141ff 234.5px 236.0px,#3f3fff 236.0px 237.5px,#4444ff 237.5px 238.5px,#6363ff 238.5px 240.0px,#4040ff 240.0px 241.5px,#3d3dff 241.5px 244.0px,#5a5aff 244.0px 246.0px,#4242ff 246.0px 247.5px,#4444ff 247.5px 249.5px,#3535ff 249.5px 250.5px,#4242ff 250.5px 251.5px,#4848ff 251.5px 254.5px,#3c3cff 254.5px 256.5px,#3b3bff 256.5px 259.0px,#4343ff 259.0px 261.0px,#4c4cff 261.0px 262.5px,#3131ff 262.5px 265.5px,#2d2dff 265.5px 267.5px,#4242ff 267.5px 268.5px,#4242ff 268.5px 271.0px,#4242ff 271.0px 274.0px,#2525ff 274.0px 275.0px,#4747ff 275.0px 277.5px,#4e4eff 277.5px 280.5px,#4545ff 280.5px 282.5px,#2929ff 282.5px 284.0px,#2b2bff 284.0px 284.6px)"></div>
<div class="hb" style="left:39.2px;top:591.4px;width:284.6px;height:11.8px;background:linear-gradient(90deg,#ff1616 0.0px 1.5px,#ff0a0a 1.5px 3.0px,#ff1010 3.0px 4.5px,#ff2828 4.5px 6.5px,#ff1e1e 6.5px 8.5px,#ff1c1c 8.5px 10.0px,#ff1f1f 10.0px 11.0px,#ff0303 11.0px 12.0px,#ff2222 12.0px 13.5px,#ff2d2d 13.5px 15.0px,#ff1717 15.0px 16.0px,#ff2424 16.0px 17.5px,#ff2424 17.5px 18.5px,#ff1515 18.5px 20.0px,#ff1b1b 20.0px 21.0px,#ff1616 21.0px 24.0px,#ff0000 24.0px 25.0px,#ff2323 25.0px 26.5px,#ff1212 26.5px 28.5px,#ff1e1e 28.5px 31.5px,#ff2727 31.5px 33.0px,#ff1f1f 33.0px 34.0px,#ff1a1a 34.0px 35.0px,#ff2222 35.0px 36.5px,#ff1b1b 36.5px 39.0px,#ff1f1f 39.0px 41.0px,#ff2d2d 41.0px 42.5px,#ff2727 42.5px 44.5px,#ff0d0d 44.5px 46.5px,#ff1212 46.5px 47.5px,#ff3030 47.5px 48.5px,#ff3939 48.5px 50.0px,#ff2929 50.0px 51.0px,#ff2727 51.0px 52.0px,#ff2828 52.0px 54.0px,#ff2222 54.0px 55.0px,#ff2e2e 55.0px 57.0px,#ff2121 57.0px 59.0px,#ff2525 59.0px 61.5px,#ff1414 61.5px 63.0px,#ff2828 63.0px 65.0px,#ff2323 65.0px 67.5px,#ff2525 67.5px 69.5px,#ff3838 69.5px 71.0px,#ff2525 71.0px 72.0px,#ff2222 72.0px 73.5px,#ff3131 73.5px 75.5px,#ff2e2e 75.5px 77.5px,#ff3737 77.5px 79.0px,#ff3333 79.0px 81.0px,#ff3a3a 81.0px 83.5px,#ff3e3e 83.5px 85.5px,#ff2c2c 85.5px 86.5px,#ff3636 86.5px 87.5px,#ff3535 87.5px 90.0px,#ff4949 90.0px 91.5px,#ff3b3b 91.5px 93.0px,#ff4848 93.0px 95.0px,#ff4545 95.0px 96.5px,#ff3b3b 96.5px 97.5px,#ff2f2f 97.5px 100.5px,#ff4747 100.5px 101.5px,#ff5757 101.5px 104.0px,#ff5e5e 104.0px 105.5px,#ff5f5f 105.5px 107.0px,#ff6d6d 107.0px 108.0px,#ff5353 108.0px 109.5px,#ff6363 109.5px 112.0px,#ff5a5a 112.0px 114.5px,#ff6565 114.5px 115.5px,#ff7a7a 115.5px 117.5px,#ff7676 117.5px 119.5px,#ff8686 119.5px 121.5px,#ff7272 121.5px 122.5px,#ff7a7a 122.5px 124.5px,#ff7c7c 124.5px 127.0px,#ff9191 127.0px 129.0px,#ffa4a4 129.0px 132.0px,#ffa5a5 132.0px 133.5px,#ff9d9d 133.5px 134.5px,#ffaaaa 134.5px 136.0px,#ffb7b7 136.0px 138.5px,#ffcccc 138.5px 139.5px,#ffd7d7 139.5px 142.5px,#ffefef 142.5px 144.5px,#f5f5ff 144.5px 146.5px,#eeeeff 146.5px 148.0px,#eaeaff 148.0px 150.0px,#cfcfff 150.0px 152.0px,#bdbdff 152.0px 154.0px,#b2b2ff 154.0px 155.0px,#c2c2ff 155.0px 157.0px,#a1a1ff 157.0px 159.5px,#b4b4ff 159.5px 161.0px,#9d9dff 161.0px 164.0px,#9999ff 164.0px 165.5px,#8787ff 165.5px 168.5px,#8989ff 168.5px 170.5px,#9292ff 170.5px 171.5px,#9e9eff 171.5px 173.5px,#8888ff 173.5px 174.5px,#9393ff 174.5px 176.5px,#8181ff 176.5px 179.5px,#8f8fff 179.5px 181.5px,#8484ff 181.5px 183.0px,#7b7bff 183.0px 184.5px,#7e7eff 184.5px 187.0px,#7f7fff 187.0px 189.0px,#7171ff 189.0px 190.0px,#6d6dff 190.0px 192.5px,#6666ff 192.5px 194.5px,#6a6aff 194.5px 196.0px,#5555ff 196.0px 198.0px,#6868ff 198.0px 199.0px,#5959ff 199.0px 201.5px,#4343ff 201.5px 204.5px,#6a6aff 204.5px 206.0px,#4747ff 206.0px 207.5px,#6b6bff 207.5px 209.0px,#7272ff 209.0px 210.0px,#5050ff 210.0px 211.0px,#4646ff 211.0px 212.0px,#5252ff 212.0px 214.0px,#4545ff 214.0px 215.0px,#4a4aff 215.0px 217.0px,#2626ff 217.0px 219.0px,#4747ff 219.0px 221.0px,#4949ff 221.0px 223.5px,#4e4eff 223.5px 225.5px,#4444ff 225.5px 228.0px,#3737ff 228.0px 231.0px,#4e4eff 231.0px 232.5px,#4b4bff 232.5px 235.5px,#4e4eff 235.5px 237.5px,#4444ff 237.5px 240.0px,#3333ff 240.0px 242.0px,#4141ff 242.0px 244.0px,#3333ff 244.0px 246.5px,#5454ff 246.5px 248.0px,#4646ff 248.0px 250.0px,#4747ff 250.0px 251.0px,#4747ff 251.0px 254.0px,#4f4fff 254.0px 256.0px,#4545ff 256.0px 257.0px,#3e3eff 257.0px 259.0px,#4343ff 259.0px 262.0px,#4646ff 262.0px 263.5px,#3535ff 263.5px 266.5px,#3636ff 266.5px 269.5px,#2a2aff 269.5px 272.5px,#3838ff 272.5px 274.5px,#3b3bff 274.5px 277.0px,#5353ff 277.0px 278.0px,#2e2eff 278.0px 279.0px,#5252ff 279.0px 281.5px,#3636ff 281.5px 282.5px,#4040ff 282.5px 284.5px,#3a3aff 284.5px 284.6px)"></div>
<div class="hb" style="left:334.0px;top:38.0px;width:19.6px;height:138.4px;background:linear-gradient(180deg,#ff0505 0.00px 2.88px,#ff1010 2.88px 5.77px,#ff1b1b 5.77px 8.65px,#ff2525 8.65px 11.53px,#ff3030 11.53px 14.42px,#ff3a3a 14.42px 17.30px,#ff4545 17.30px 20.18px,#ff5050 20.18px 23.07px,#ff5a5a 23.07px 25.95px,#ff6565 25.95px 28.83px,#ff7070 28.83px 31.72px,#ff7a7a 31.72px 34.60px,#ff8585 34.60px 37.48px,#ff8f8f 37.48px 40.37px,#ff9a9a 40.37px 43.25px,#ffa5a5 43.25px 46.13px,#ffafaf 46.13px 49.02px,#ffbaba 49.02px 51.90px,#ffc5c5 51.90px 54.78px,#ffcfcf 54.78px 57.67px,#ffdada 57.67px 60.55px,#ffe4e4 60.55px 63.43px,#ffefef 63.43px 66.32px,#fffafa 66.32px 69.20px,#fafaff 69.20px 72.08px,#efefff 72.08px 74.97px,#e4e4ff 74.97px 77.85px,#dadaff 77.85px 80.73px,#cfcfff 80.73px 83.62px,#c5c5ff 83.62px 86.50px,#babaff 86.50px 89.38px,#afafff 89.38px 92.27px,#a5a5ff 92.27px 95.15px,#9a9aff 95.15px 98.03px,#8f8fff 98.03px 100.92px,#8585ff 100.92px 103.80px,#7a7aff 103.80px 106.68px,#7070ff 106.68px 109.57px,#6565ff 109.57px 112.45px,#5a5aff 112.45px 115.33px,#5050ff 115.33px 118.22px,#4545ff 118.22px 121.10px,#3a3aff 121.10px 123.98px,#3030ff 123.98px 126.87px,#2525ff 126.87px 129.75px,#1b1bff 129.75px 132.63px,#1010ff 132.63px 135.52px,#0505ff 135.52px 138.40px)"></div>
<div class="hb" style="left:333.3px;top:362.5px;width:19.5px;height:139.8px;background:linear-gradient(180deg,#ff0505 0.00px 2.91px,#ff1010 2.91px 5.83px,#ff1b1b 5.83px 8.74px,#ff2525 8.74px 11.65px,#ff3030 11.65px 14.56px,#ff3a3a 14.56px 17.48px,#ff4545 17.48px 20.39px,#ff5050 20.39px 23.30px,#ff5a5a 23.30px 26.21px,#ff6565 26.21px 29.12px,#ff7070 29.12px 32.04px,#ff7a7a 32.04px 34.95px,#ff8585 34.95px 37.86px,#ff8f8f 37.86px 40.78px,#ff9a9a 40.78px 43.69px,#ffa5a5 43.69px 46.60px,#ffafaf 46.60px 49.51px,#ffbaba 49.51px 52.43px,#ffc5c5 52.43px 55.34px,#ffcfcf 55.34px 58.25px,#ffdada 58.25px 61.16px,#ffe4e4 61.16px 64.08px,#ffefef 64.08px 66.99px,#fffafa 66.99px 69.90px,#fafaff 69.90px 72.81px,#efefff 72.81px 75.73px,#e4e4ff 75.73px 78.64px,#dadaff 78.64px 81.55px,#cfcfff 81.55px 84.46px,#c5c5ff 84.46px 87.38px,#babaff 87.38px 90.29px,#afafff 90.29px 93.20px,#a5a5ff 93.20px 96.11px,#9a9aff 96.11px 99.03px,#8f8fff 99.03px 101.94px,#8585ff 101.94px 104.85px,#7a7aff 104.85px 107.76px,#7070ff 107.76px 110.68px,#6565ff 110.68px 113.59px,#5a5aff 113.59px 116.50px,#5050ff 116.50px 119.41px,#4545ff 119.41px 122.33px,#3a3aff 122.33px 125.24px,#3030ff 125.24px 128.15px,#2525ff 128.15px 131.06px,#1b1bff 131.06px 133.97px,#1010ff 133.97px 136.89px,#0505ff 136.89px 139.80px)"></div>
<svg width="685" height="643" viewBox="0 0 685 643">
<rect x="40.60" y="4.40" width="283.20" height="270.30" fill="none" stroke="#231f20" stroke-width="1.2"/>
<line x1="35.40" y1="4.40" x2="40.60" y2="4.40" stroke="#231f20" stroke-width="1.10"/>
<text x="31.40" y="8.30" font-size="11.00" text-anchor="end" fill="#231f20" stroke="#231f20" stroke-width="0.20">70</text>
<line x1="35.40" y1="45.20" x2="40.60" y2="45.20" stroke="#231f20" stroke-width="1.10"/>
<text x="31.40" y="49.10" font-size="11.00" text-anchor="end" fill="#231f20" stroke="#231f20" stroke-width="0.20">60</text>
<line x1="35.40" y1="86.00" x2="40.60" y2="86.00" stroke="#231f20" stroke-width="1.10"/>
<text x="31.40" y="89.90" font-size="11.00" text-anchor="end" fill="#231f20" stroke="#231f20" stroke-width="0.20">50</text>
<line x1="35.40" y1="126.80" x2="40.60" y2="126.80" stroke="#231f20" stroke-width="1.10"/>
<text x="31.40" y="130.70" font-size="11.00" text-anchor="end" fill="#231f20" stroke="#231f20" stroke-width="0.20">40</text>
<line x1="35.40" y1="167.60" x2="40.60" y2="167.60" stroke="#231f20" stroke-width="1.10"/>
<text x="31.40" y="171.50" font-size="11.00" text-anchor="end" fill="#231f20" stroke="#231f20" stroke-width="0.20">30</text>
<line x1="35.40" y1="208.40" x2="40.60" y2="208.40" stroke="#231f20" stroke-width="1.10"/>
<text x="31.40" y="212.30" font-size="11.00" text-anchor="end" fill="#231f20" stroke="#231f20" stroke-width="0.20">20</text>
<line x1="35.40" y1="249.20" x2="40.60" y2="249.20" stroke="#231f20" stroke-width="1.10"/>
<text x="31.40" y="253.10" font-size="11.00" text-anchor="end" fill="#231f20" stroke="#231f20" stroke-width="0.20">10</text>
<line x1="37.80" y1="24.80" x2="40.60" y2="24.80" stroke="#231f20" stroke-width="1.10"/>
<line x1="37.80" y1="65.60" x2="40.60" y2="65.60" stroke="#231f20" stroke-width="1.10"/>
<line x1="37.80" y1="106.40" x2="40.60" y2="106.40" stroke="#231f20" stroke-width="1.10"/>
<line x1="37.80" y1="147.20" x2="40.60" y2="147.20" stroke="#231f20" stroke-width="1.10"/>
<line x1="37.80" y1="188.00" x2="40.60" y2="188.00" stroke="#231f20" stroke-width="1.10"/>
<line x1="37.80" y1="228.80" x2="40.60" y2="228.80" stroke="#231f20" stroke-width="1.10"/>
<line x1="37.80" y1="269.60" x2="40.60" y2="269.60" stroke="#231f20" stroke-width="1.10"/>
<line x1="40.60" y1="274.70" x2="40.60" y2="280.30" stroke="#231f20" stroke-width="1.10"/>
<text x="40.60" y="294.00" font-size="11.00" text-anchor="middle" fill="#231f20" stroke="#231f20" stroke-width="0.20">-0.08</text>
<line x1="103.45" y1="274.70" x2="103.45" y2="280.30" stroke="#231f20" stroke-width="1.10"/>
<text x="103.45" y="294.00" font-size="11.00" text-anchor="middle" fill="#231f20" stroke="#231f20" stroke-width="0.20">0.00</text>
<line x1="166.30" y1="274.70" x2="166.30" y2="280.30" stroke="#231f20" stroke-width="1.10"/>
<text x="166.30" y="294.00" font-size="11.00" text-anchor="middle" fill="#231f20" stroke="#231f20" stroke-width="0.20">0.08</text>
<line x1="229.14" y1="274.70" x2="229.14" y2="280.30" stroke="#231f20" stroke-width="1.10"/>
<text x="229.14" y="294.00" font-size="11.00" text-anchor="middle" fill="#231f20" stroke="#231f20" stroke-width="0.20">0.16</text>
<line x1="291.99" y1="274.70" x2="291.99" y2="280.30" stroke="#231f20" stroke-width="1.10"/>
<text x="291.99" y="294.00" font-size="11.00" text-anchor="middle" fill="#231f20" stroke="#231f20" stroke-width="0.20">0.24</text>
<line x1="72.02" y1="274.70" x2="72.02" y2="278.00" stroke="#231f20" stroke-width="1.10"/>
<line x1="134.87" y1="274.70" x2="134.87" y2="278.00" stroke="#231f20" stroke-width="1.10"/>
<line x1="197.72" y1="274.70" x2="197.72" y2="278.00" stroke="#231f20" stroke-width="1.10"/>
<line x1="260.57" y1="274.70" x2="260.57" y2="278.00" stroke="#231f20" stroke-width="1.10"/>
<line x1="323.42" y1="274.70" x2="323.42" y2="278.00" stroke="#231f20" stroke-width="1.10"/>
<rect x="39.20" y="330.40" width="284.60" height="272.80" fill="none" stroke="#231f20" stroke-width="1.2"/>
<line x1="34.00" y1="368.30" x2="39.20" y2="368.30" stroke="#231f20" stroke-width="1.10"/>
<text x="30.00" y="372.20" font-size="11.00" text-anchor="end" fill="#231f20" stroke="#231f20" stroke-width="0.20">50</text>
<line x1="34.00" y1="419.00" x2="39.20" y2="419.00" stroke="#231f20" stroke-width="1.10"/>
<text x="30.00" y="422.90" font-size="11.00" text-anchor="end" fill="#231f20" stroke="#231f20" stroke-width="0.20">40</text>
<line x1="34.00" y1="469.70" x2="39.20" y2="469.70" stroke="#231f20" stroke-width="1.10"/>
<text x="30.00" y="473.60" font-size="11.00" text-anchor="end" fill="#231f20" stroke="#231f20" stroke-width="0.20">30</text>
<line x1="34.00" y1="520.40" x2="39.20" y2="520.40" stroke="#231f20" stroke-width="1.10"/>
<text x="30.00" y="524.30" font-size="11.00" text-anchor="end" fill="#231f20" stroke="#231f20" stroke-width="0.20">20</text>
<line x1="34.00" y1="571.10" x2="39.20" y2="571.10" stroke="#231f20" stroke-width="1.10"/>
<text x="30.00" y="575.00" font-size="11.00" text-anchor="end" fill="#231f20" stroke="#231f20" stroke-width="0.20">10</text>
<line x1="36.40" y1="342.95" x2="39.20" y2="342.95" stroke="#231f20" stroke-width="1.10"/>
<line x1="36.40" y1="393.65" x2="39.20" y2="393.65" stroke="#231f20" stroke-width="1.10"/>
<line x1="36.40" y1="444.35" x2="39.20" y2="444.35" stroke="#231f20" stroke-width="1.10"/>
<line x1="36.40" y1="495.05" x2="39.20" y2="495.05" stroke="#231f20" stroke-width="1.10"/>
<line x1="36.40" y1="545.75" x2="39.20" y2="545.75" stroke="#231f20" stroke-width="1.10"/>
<line x1="36.40" y1="596.45" x2="39.20" y2="596.45" stroke="#231f20" stroke-width="1.10"/>
<line x1="39.20" y1="603.20" x2="39.20" y2="608.80" stroke="#231f20" stroke-width="1.10"/>
<text x="39.20" y="621.20" font-size="11.00" text-anchor="middle" fill="#231f20" stroke="#231f20" stroke-width="0.20">-0.08</text>
<line x1="110.30" y1="603.20" x2="110.30" y2="608.80" stroke="#231f20" stroke-width="1.10"/>
<text x="110.30" y="621.20" font-size="11.00" text-anchor="middle" fill="#231f20" stroke="#231f20" stroke-width="0.20">0.00</text>
<line x1="181.40" y1="603.20" x2="181.40" y2="608.80" stroke="#231f20" stroke-width="1.10"/>
<text x="181.40" y="621.20" font-size="11.00" text-anchor="middle" fill="#231f20" stroke="#231f20" stroke-width="0.20">0.08</text>
<line x1="252.50" y1="603.20" x2="252.50" y2="608.80" stroke="#231f20" stroke-width="1.10"/>
<text x="252.50" y="621.20" font-size="11.00" text-anchor="middle" fill="#231f20" stroke="#231f20" stroke-width="0.20">0.16</text>
<line x1="323.60" y1="603.20" x2="323.60" y2="608.80" stroke="#231f20" stroke-width="1.10"/>
<text x="323.60" y="621.20" font-size="11.00" text-anchor="middle" fill="#231f20" stroke="#231f20" stroke-width="0.20">0.24</text>
<line x1="74.75" y1="603.20" x2="74.75" y2="606.50" stroke="#231f20" stroke-width="1.10"/>
<line x1="145.85" y1="603.20" x2="145.85" y2="606.50" stroke="#231f20" stroke-width="1.10"/>
<line x1="216.95" y1="603.20" x2="216.95" y2="606.50" stroke="#231f20" stroke-width="1.10"/>
<line x1="288.05" y1="603.20" x2="288.05" y2="606.50" stroke="#231f20" stroke-width="1.10"/>
<rect x="334.00" y="38.00" width="19.60" height="138.40" fill="none" stroke="#231f20" stroke-width="1.1"/>
<line x1="353.60" y1="40.90" x2="358.60" y2="40.90" stroke="#231f20" stroke-width="1.00"/>
<text x="362.90" y="44.80" font-size="11.00" text-anchor="start" fill="#231f20" stroke="#231f20" stroke-width="0.20">9</text>
<line x1="353.60" y1="82.30" x2="358.60" y2="82.30" stroke="#231f20" stroke-width="1.00"/>
<text x="362.90" y="86.20" font-size="11.00" text-anchor="start" fill="#231f20" stroke="#231f20" stroke-width="0.20">6</text>
<line x1="353.60" y1="123.70" x2="358.60" y2="123.70" stroke="#231f20" stroke-width="1.00"/>
<text x="362.90" y="127.60" font-size="11.00" text-anchor="start" fill="#231f20" stroke="#231f20" stroke-width="0.20">3</text>
<line x1="353.60" y1="165.10" x2="358.60" y2="165.10" stroke="#231f20" stroke-width="1.00"/>
<text x="362.90" y="169.00" font-size="11.00" text-anchor="start" fill="#231f20" stroke="#231f20" stroke-width="0.20">0</text>
<rect x="333.30" y="362.50" width="19.50" height="139.80" fill="none" stroke="#231f20" stroke-width="1.1"/>
<line x1="352.80" y1="379.10" x2="357.80" y2="379.10" stroke="#231f20" stroke-width="1.00"/>
<text x="362.10" y="383.00" font-size="11.00" text-anchor="start" fill="#231f20" stroke="#231f20" stroke-width="0.20">4</text>
<line x1="352.80" y1="433.20" x2="357.80" y2="433.20" stroke="#231f20" stroke-width="1.00"/>
<text x="362.10" y="437.10" font-size="11.00" text-anchor="start" fill="#231f20" stroke="#231f20" stroke-width="0.20">2</text>
<line x1="352.80" y1="487.50" x2="357.80" y2="487.50" stroke="#231f20" stroke-width="1.00"/>
<text x="362.10" y="491.40" font-size="11.00" text-anchor="start" fill="#231f20" stroke="#231f20" stroke-width="0.20">0</text>
<text x="331.50" y="27.60" font-size="10.2" fill="#231f20" stroke="#231f20" stroke-width="0.2" style="letter-spacing:0"><tspan font-style="italic" font-size="11">S</tspan> (<tspan font-size="9.3">×</tspan>10<tspan font-size="6.8" dy="-4.2">-2</tspan><tspan dy="4.2">)</tspan></text>
<text x="329.00" y="352.20" font-size="10.2" fill="#231f20" stroke="#231f20" stroke-width="0.2" style="letter-spacing:0"><tspan font-style="italic" font-size="11">S</tspan> (<tspan font-size="9.3">×</tspan>10<tspan font-size="6.8" dy="-4.2">-2</tspan><tspan dy="4.2">)</tspan></text>
<text x="182.70" y="312.30" font-size="11" text-anchor="middle" fill="#231f20" stroke="#231f20" stroke-width="0.2"><tspan font-style="italic">E</tspan> (V/nm)</text>
<text x="182.00" y="640.30" font-size="11" text-anchor="middle" fill="#231f20" stroke="#231f20" stroke-width="0.2"><tspan font-style="italic">E</tspan> (V/nm)</text>
<text x="0" y="0" font-size="11.00" text-anchor="middle" fill="#231f20" stroke="#231f20" stroke-width="0.2" style="letter-spacing:0.35px" transform="translate(10.00 140.10) rotate(-90)">Temperature (K)</text>
<text x="0" y="0" font-size="11.00" text-anchor="middle" fill="#231f20" stroke="#231f20" stroke-width="0.2" style="letter-spacing:0.35px" transform="translate(10.30 466.80) rotate(-90)">Temperature (K)</text>
<text x="-0.20" y="13.50" font-size="13.5" font-weight="bold" fill="#231f20" style="letter-spacing:0">a</text>
<text x="0.60" y="336.90" font-size="13.5" font-weight="bold" fill="#231f20" style="letter-spacing:0">b</text>
<text x="396.40" y="14.00" font-size="13.5" font-weight="bold" fill="#231f20" style="letter-spacing:0">c</text>
<text x="396.20" y="336.90" font-size="13.5" font-weight="bold" fill="#231f20" style="letter-spacing:0">d</text>
<text x="289.60" y="24.90" font-size="11.80" text-anchor="start" fill="#ffffff" stroke="#ffffff" stroke-width="0.20" style="letter-spacing:0">ν = 3</text>
<text x="278.00" y="354.00" font-size="11.80" text-anchor="start" fill="#ffffff" stroke="#ffffff" stroke-width="0.20" style="letter-spacing:0">ν = 7/3</text>
<text x="0" y="0" font-size="20.6" fill="#fff" style="letter-spacing:0" transform="translate(119.00 260.80) scale(1.000 1)">MI</text>
<text x="0" y="0" font-size="20.6" fill="#fff" style="letter-spacing:0" transform="translate(271.60 260.80) scale(1.070 1)">M</text>
<text x="0" y="0" font-size="20.6" fill="#fff" style="letter-spacing:0" transform="translate(82.00 592.80) scale(1.000 1)">WI</text>
<text x="0" y="0" font-size="20.6" fill="#fff" style="letter-spacing:0" transform="translate(270.60 592.60) scale(1.070 1)">M</text>
<line x1="432.00" y1="4.85" x2="684.50" y2="4.85" stroke="#7d7d7d" stroke-width="1.50"/>
<line x1="684.50" y1="4.85" x2="684.50" y2="276.80" stroke="#444" stroke-width="1.50"/>
<line x1="432.00" y1="4.85" x2="432.00" y2="276.80" stroke="#7d7d7d" stroke-width="1.50"/>
<line x1="431.30" y1="276.80" x2="684.50" y2="276.80" stroke="#7d7d7d" stroke-width="1.50"/>
<line x1="427.00" y1="254.40" x2="432.00" y2="254.40" stroke="#231f20" stroke-width="1.10"/>
<text x="422.50" y="257.70" font-size="11.00" text-anchor="end" fill="#231f20" stroke="#231f20" stroke-width="0.20">0.0</text>
<line x1="427.00" y1="209.00" x2="432.00" y2="209.00" stroke="#231f20" stroke-width="1.10"/>
<text x="422.50" y="212.30" font-size="11.00" text-anchor="end" fill="#231f20" stroke="#231f20" stroke-width="0.20">0.2</text>
<line x1="427.00" y1="163.60" x2="432.00" y2="163.60" stroke="#231f20" stroke-width="1.10"/>
<text x="422.50" y="166.90" font-size="11.00" text-anchor="end" fill="#231f20" stroke="#231f20" stroke-width="0.20">0.4</text>
<line x1="427.00" y1="118.20" x2="432.00" y2="118.20" stroke="#231f20" stroke-width="1.10"/>
<text x="422.50" y="121.50" font-size="11.00" text-anchor="end" fill="#231f20" stroke="#231f20" stroke-width="0.20">0.6</text>
<line x1="427.00" y1="72.80" x2="432.00" y2="72.80" stroke="#231f20" stroke-width="1.10"/>
<text x="422.50" y="76.10" font-size="11.00" text-anchor="end" fill="#231f20" stroke="#231f20" stroke-width="0.20">0.8</text>
<line x1="427.00" y1="27.40" x2="432.00" y2="27.40" stroke="#231f20" stroke-width="1.10"/>
<text x="422.50" y="30.70" font-size="11.00" text-anchor="end" fill="#231f20" stroke="#231f20" stroke-width="0.20">1.0</text>
<line x1="429.20" y1="277.10" x2="432.00" y2="277.10" stroke="#231f20" stroke-width="1.10"/>
<line x1="429.20" y1="231.70" x2="432.00" y2="231.70" stroke="#231f20" stroke-width="1.10"/>
<line x1="429.20" y1="186.30" x2="432.00" y2="186.30" stroke="#231f20" stroke-width="1.10"/>
<line x1="429.20" y1="140.90" x2="432.00" y2="140.90" stroke="#231f20" stroke-width="1.10"/>
<line x1="429.20" y1="95.50" x2="432.00" y2="95.50" stroke="#231f20" stroke-width="1.10"/>
<line x1="429.20" y1="50.10" x2="432.00" y2="50.10" stroke="#231f20" stroke-width="1.10"/>
<line x1="432.00" y1="276.80" x2="432.00" y2="281.80" stroke="#231f20" stroke-width="1.10"/>
<text x="432.00" y="295.20" font-size="11.00" text-anchor="middle" fill="#231f20" stroke="#231f20" stroke-width="0.20">-0.08</text>
<line x1="488.30" y1="276.80" x2="488.30" y2="281.80" stroke="#231f20" stroke-width="1.10"/>
<text x="488.30" y="295.20" font-size="11.00" text-anchor="middle" fill="#231f20" stroke="#231f20" stroke-width="0.20">0.00</text>
<line x1="544.60" y1="276.80" x2="544.60" y2="281.80" stroke="#231f20" stroke-width="1.10"/>
<text x="544.60" y="295.20" font-size="11.00" text-anchor="middle" fill="#231f20" stroke="#231f20" stroke-width="0.20">0.08</text>
<line x1="600.90" y1="276.80" x2="600.90" y2="281.80" stroke="#231f20" stroke-width="1.10"/>
<text x="600.90" y="295.20" font-size="11.00" text-anchor="middle" fill="#231f20" stroke="#231f20" stroke-width="0.20">0.16</text>
<line x1="657.20" y1="276.80" x2="657.20" y2="281.80" stroke="#231f20" stroke-width="1.10"/>
<text x="657.20" y="295.20" font-size="11.00" text-anchor="middle" fill="#231f20" stroke="#231f20" stroke-width="0.20">0.24</text>
<line x1="460.15" y1="276.80" x2="460.15" y2="279.30" stroke="#231f20" stroke-width="1.10"/>
<line x1="516.45" y1="276.80" x2="516.45" y2="279.30" stroke="#231f20" stroke-width="1.10"/>
<line x1="572.75" y1="276.80" x2="572.75" y2="279.30" stroke="#231f20" stroke-width="1.10"/>
<line x1="629.05" y1="276.80" x2="629.05" y2="279.30" stroke="#231f20" stroke-width="1.10"/>
<line x1="430.00" y1="331.00" x2="682.00" y2="331.00" stroke="#7d7d7d" stroke-width="1.50"/>
<line x1="682.00" y1="331.00" x2="682.00" y2="601.80" stroke="#444" stroke-width="1.50"/>
<line x1="430.00" y1="331.00" x2="430.00" y2="601.80" stroke="#7d7d7d" stroke-width="1.50"/>
<line x1="429.30" y1="601.80" x2="682.00" y2="601.80" stroke="#2a2a2a" stroke-width="1.50"/>
<line x1="425.00" y1="579.70" x2="430.00" y2="579.70" stroke="#231f20" stroke-width="1.10"/>
<text x="420.50" y="583.00" font-size="11.00" text-anchor="end" fill="#231f20" stroke="#231f20" stroke-width="0.20">0.0</text>
<line x1="425.00" y1="534.50" x2="430.00" y2="534.50" stroke="#231f20" stroke-width="1.10"/>
<text x="420.50" y="537.80" font-size="11.00" text-anchor="end" fill="#231f20" stroke="#231f20" stroke-width="0.20">0.2</text>
<line x1="425.00" y1="489.30" x2="430.00" y2="489.30" stroke="#231f20" stroke-width="1.10"/>
<text x="420.50" y="492.60" font-size="11.00" text-anchor="end" fill="#231f20" stroke="#231f20" stroke-width="0.20">0.4</text>
<line x1="425.00" y1="444.10" x2="430.00" y2="444.10" stroke="#231f20" stroke-width="1.10"/>
<text x="420.50" y="447.40" font-size="11.00" text-anchor="end" fill="#231f20" stroke="#231f20" stroke-width="0.20">0.6</text>
<line x1="425.00" y1="398.90" x2="430.00" y2="398.90" stroke="#231f20" stroke-width="1.10"/>
<text x="420.50" y="402.20" font-size="11.00" text-anchor="end" fill="#231f20" stroke="#231f20" stroke-width="0.20">0.8</text>
<line x1="425.00" y1="353.70" x2="430.00" y2="353.70" stroke="#231f20" stroke-width="1.10"/>
<text x="420.50" y="357.00" font-size="11.00" text-anchor="end" fill="#231f20" stroke="#231f20" stroke-width="0.20">1.0</text>
<line x1="427.20" y1="602.30" x2="430.00" y2="602.30" stroke="#231f20" stroke-width="1.10"/>
<line x1="427.20" y1="557.10" x2="430.00" y2="557.10" stroke="#231f20" stroke-width="1.10"/>
<line x1="427.20" y1="511.90" x2="430.00" y2="511.90" stroke="#231f20" stroke-width="1.10"/>
<line x1="427.20" y1="466.70" x2="430.00" y2="466.70" stroke="#231f20" stroke-width="1.10"/>
<line x1="427.20" y1="421.50" x2="430.00" y2="421.50" stroke="#231f20" stroke-width="1.10"/>
<line x1="427.20" y1="376.30" x2="430.00" y2="376.30" stroke="#231f20" stroke-width="1.10"/>
<line x1="430.00" y1="601.80" x2="430.00" y2="606.80" stroke="#231f20" stroke-width="1.10"/>
<text x="430.00" y="620.40" font-size="11.00" text-anchor="middle" fill="#231f20" stroke="#231f20" stroke-width="0.20">-0.08</text>
<line x1="491.10" y1="601.80" x2="491.10" y2="606.80" stroke="#231f20" stroke-width="1.10"/>
<text x="491.10" y="620.40" font-size="11.00" text-anchor="middle" fill="#231f20" stroke="#231f20" stroke-width="0.20">0.00</text>
<line x1="552.20" y1="601.80" x2="552.20" y2="606.80" stroke="#231f20" stroke-width="1.10"/>
<text x="552.20" y="620.40" font-size="11.00" text-anchor="middle" fill="#231f20" stroke="#231f20" stroke-width="0.20">0.08</text>
<line x1="613.30" y1="601.80" x2="613.30" y2="606.80" stroke="#231f20" stroke-width="1.10"/>
<text x="613.30" y="620.40" font-size="11.00" text-anchor="middle" fill="#231f20" stroke="#231f20" stroke-width="0.20">0.16</text>
<line x1="674.40" y1="601.80" x2="674.40" y2="606.80" stroke="#231f20" stroke-width="1.10"/>
<text x="674.40" y="620.40" font-size="11.00" text-anchor="middle" fill="#231f20" stroke="#231f20" stroke-width="0.20">0.24</text>
<line x1="460.55" y1="601.80" x2="460.55" y2="604.30" stroke="#231f20" stroke-width="1.10"/>
<line x1="521.65" y1="601.80" x2="521.65" y2="604.30" stroke="#231f20" stroke-width="1.10"/>
<line x1="582.75" y1="601.80" x2="582.75" y2="604.30" stroke="#231f20" stroke-width="1.10"/>
<line x1="643.85" y1="601.80" x2="643.85" y2="604.30" stroke="#231f20" stroke-width="1.10"/>
<line x1="431.10" y1="254.40" x2="684.50" y2="254.40" stroke="#3a3a3a" stroke-width="1.20" stroke-dasharray="6.2 5.48"/>
<line x1="431.10" y1="579.70" x2="682.00" y2="579.70" stroke="#8a8a8a" stroke-width="1.90" stroke-dasharray="6.0 5.68"/>
<text x="558.40" y="313.70" font-size="11" text-anchor="middle" fill="#231f20" stroke="#231f20" stroke-width="0.2"><tspan font-style="italic">E</tspan> (V/nm)</text>
<text x="555.90" y="639.60" font-size="11" text-anchor="middle" fill="#231f20" stroke="#231f20" stroke-width="0.2"><tspan font-style="italic">E</tspan> (V/nm)</text>
<text x="0" y="0" font-size="11.20" text-anchor="middle" fill="#231f20" stroke="#231f20" stroke-width="0.2" style="letter-spacing:0.05px" transform="translate(391.40 135.70) rotate(-90)">Normalized spectral weight</text>
<text x="0" y="0" font-size="11.20" text-anchor="middle" fill="#231f20" stroke="#231f20" stroke-width="0.2" style="letter-spacing:0.05px" transform="translate(388.70 461.60) rotate(-90)">Normalized spectral weight</text>
<text x="628.6" y="24.1" font-size="12" style="font-family:Liberation Serif,serif;letter-spacing:-0.3px" fill="#231f20" stroke="#231f20" stroke-width="0.15">ν = 3</text>
<text x="631.6" y="351.9" font-size="12" style="font-family:Liberation Serif,serif;letter-spacing:-0.3px" fill="#231f20" stroke="#231f20" stroke-width="0.15">ν = 7/3</text>
<rect x="628.30" y="36.20" width="51.40" height="44.30" fill="#fff" stroke="#6a6a6a" stroke-width="0.9"/>
<text x="676.70" y="48.10" font-size="11.00" text-anchor="end" fill="#231f20" stroke="#231f20" stroke-width="0.20">T (K)</text>
<line x1="629.00" y1="58.70" x2="655.70" y2="58.70" stroke="#000" stroke-width="1.00"/>
<line x1="629.00" y1="72.40" x2="655.70" y2="72.40" stroke="#ff0000" stroke-width="1.00"/>
<text x="658.20" y="62.70" font-size="11.00" text-anchor="start" fill="#231f20" stroke="#231f20" stroke-width="0.20">3.6</text>
<text x="658.20" y="76.40" font-size="11.00" text-anchor="start" fill="#231f20" stroke="#231f20" stroke-width="0.20">60</text>
<rect x="623.20" y="359.30" width="48.20" height="44.20" fill="#fff" stroke="#6a6a6a" stroke-width="0.9"/>
<text x="666.80" y="371.20" font-size="11.00" text-anchor="end" fill="#231f20" stroke="#231f20" stroke-width="0.20">T (K)</text>
<line x1="624.30" y1="381.40" x2="650.80" y2="381.40" stroke="#000" stroke-width="1.00"/>
<line x1="624.30" y1="395.40" x2="650.80" y2="395.40" stroke="#ff0000" stroke-width="1.00"/>
<text x="653.20" y="385.40" font-size="11.00" text-anchor="start" fill="#231f20" stroke="#231f20" stroke-width="0.20">3.6</text>
<text x="653.20" y="399.40" font-size="11.00" text-anchor="start" fill="#231f20" stroke="#231f20" stroke-width="0.20">45</text>
<polyline points="432.0,164.7 433.4,158.2 434.8,154.5 436.2,146.4 437.6,141.0 439.0,112.1 440.4,131.9 441.9,143.2 443.3,131.0 444.7,116.4 446.1,129.3 447.5,117.8 448.9,107.5 450.3,101.7 451.7,102.6 453.1,103.8 454.5,96.7 455.9,106.3 457.3,99.5 458.7,66.0 460.1,88.7 461.6,72.3 463.0,68.3 464.4,91.0 465.8,80.0 467.2,52.4 468.6,59.7 470.0,64.6 471.4,76.1 472.8,58.6 474.2,63.5 475.6,75.1 477.0,52.6 478.4,36.5 479.9,48.8 481.3,57.5 482.7,41.5 484.1,44.7 485.5,48.4 486.9,41.6 488.3,46.7 489.7,40.0 491.1,40.5 492.5,41.1 493.9,32.1 495.3,44.0 496.7,30.6 498.2,17.2 499.6,34.6 501.0,31.0 502.4,43.2 503.8,43.4 505.2,47.8 506.6,34.6 508.0,29.2 509.4,41.3 510.8,30.1 512.2,38.6 513.6,43.9 515.0,28.8 516.5,44.9 517.9,36.8 519.3,44.7 520.7,35.6 522.1,46.1 523.5,38.4 524.9,59.2 526.3,43.4 527.7,49.8 529.1,51.3 530.5,55.9 531.9,47.9 533.3,49.7 534.7,41.9 536.2,57.4 537.6,51.1 539.0,43.1 540.4,57.2 541.8,53.3 543.2,72.7 544.6,59.9 546.0,65.1 547.4,63.7 548.8,84.2 550.2,75.3 551.6,93.5 553.0,84.0 554.5,82.8 555.9,98.8 557.3,87.2 558.7,102.0 560.1,101.6 561.5,92.5 562.9,111.5 564.3,102.7 565.7,112.0 567.1,106.7 568.5,113.3 569.9,108.9 571.3,128.3 572.8,119.5 574.2,131.8 575.6,131.0 577.0,137.4 578.4,122.1 579.8,143.2 581.2,126.8 582.6,142.4 584.0,154.5 585.4,150.8 586.8,143.7 588.2,146.5 589.6,140.9 591.0,148.7 592.5,146.3 593.9,159.9 595.3,163.5 596.7,163.2 598.1,174.2 599.5,173.9 600.9,184.7 602.3,175.4 603.7,190.3 605.1,179.4 606.5,199.9 607.9,198.1 609.3,194.5 610.8,198.0 612.2,202.7 613.6,200.0 615.0,216.5 616.4,203.6 617.8,216.1 619.2,224.7 620.6,203.8 622.0,210.5 623.4,226.5 624.8,220.2 626.2,228.4 627.6,218.8 629.0,239.4 630.5,222.9 631.9,208.3 633.3,229.1 634.7,217.5 636.1,233.7 637.5,222.0 638.9,238.2 640.3,225.4 641.7,239.1 643.1,229.2 644.5,232.5 645.9,245.5 647.3,253.0 648.8,250.5 650.2,244.7 651.6,247.6 653.0,252.4 654.4,258.0 655.8,239.2 657.2,258.9 658.6,248.2 660.0,248.2 661.4,239.9 662.8,256.0 664.2,244.0 665.6,252.7 667.1,250.3 668.5,258.0 669.9,246.9 671.3,256.9 672.7,253.0 674.1,254.6 675.5,247.0 676.9,264.7 678.3,254.4 679.7,256.8 681.1,262.1 682.5,241.3 683.9,244.9 685.4,243.2" fill="none" stroke="#ff0000" stroke-width="1.00" stroke-linejoin="round"/>
<polyline points="432.0,85.4 433.4,80.7 434.8,78.2 436.2,72.3 437.6,72.7 439.0,74.9 440.4,62.7 441.9,70.5 443.3,56.9 444.7,59.5 446.1,55.0 447.5,60.8 448.9,53.3 450.3,59.2 451.7,50.0 453.1,54.7 454.5,47.9 455.9,51.8 457.3,56.0 458.7,49.1 460.1,42.7 461.6,38.8 463.0,48.8 464.4,43.1 465.8,47.7 467.2,52.4 468.6,51.6 470.0,41.3 471.4,52.4 472.8,44.1 474.2,48.3 475.6,44.8 477.0,45.8 478.4,38.8 479.9,41.7 481.3,39.7 482.7,36.6 484.1,43.1 485.5,35.2 486.9,33.1 488.3,37.8 489.7,41.7 491.1,32.3 492.5,36.9 493.9,40.9 495.3,27.3 496.7,38.7 498.2,28.7 499.6,33.8 501.0,27.6 502.4,28.4 503.8,38.0 505.2,30.0 506.6,37.5 508.0,28.1 509.4,33.1 510.8,25.8 512.2,37.7 513.6,24.5 515.0,34.0 516.5,25.8 517.9,38.1 519.3,27.7 520.7,33.5 522.1,38.4 523.5,34.9 524.9,27.1 526.3,34.3 527.7,32.2 529.1,34.9 530.5,32.3 531.9,32.8 533.3,35.8 534.7,34.0 536.2,41.9 537.6,42.4 539.0,40.7 540.4,43.8 541.8,44.2 543.2,54.0 544.6,48.0 546.0,53.5 547.4,52.1 548.8,56.5 550.2,55.7 551.6,62.3 553.0,60.0 554.5,68.6 555.9,73.8 557.3,64.0 558.7,76.2 560.1,74.0 561.5,78.9 562.9,76.4 564.3,81.8 565.7,80.6 567.1,88.2 568.5,90.8 569.9,86.3 571.3,100.5 572.8,108.4 574.2,108.3 575.6,120.0 577.0,123.7 578.4,139.1 579.8,138.5 581.2,150.0 582.6,145.1 584.0,159.0 585.4,161.3 586.8,158.4 588.2,168.8 589.6,169.9 591.0,180.5 592.5,182.4 593.9,197.7 595.3,199.8 596.7,198.4 598.1,208.2 599.5,202.6 600.9,215.3 602.3,213.1 603.7,220.1 605.1,224.2 606.5,221.3 607.9,222.3 609.3,237.2 610.8,226.5 612.2,239.4 613.6,233.2 615.0,234.9 616.4,239.9 617.8,238.6 619.2,250.3 620.6,238.5 622.0,247.1 623.4,240.6 624.8,251.7 626.2,240.7 627.6,244.3 629.0,242.2 630.5,249.1 631.9,245.2 633.3,253.4 634.7,252.1 636.1,249.5 637.5,251.9 638.9,245.7 640.3,254.1 641.7,256.7 643.1,254.7 644.5,252.3 645.9,253.7 647.3,258.5 648.8,250.0 650.2,242.1 651.6,258.1 653.0,251.9 654.4,258.4 655.8,259.4 657.2,253.6 658.6,253.9 660.0,246.9 661.4,259.0 662.8,249.1 664.2,247.9 665.6,260.3 667.1,254.8 668.5,257.6 669.9,252.8 671.3,257.5 672.7,253.5 674.1,257.6 675.5,250.0 676.9,257.9 678.3,249.1 679.7,256.4 681.1,253.1 682.5,256.9 683.9,246.7 685.4,249.3" fill="none" stroke="#000000" stroke-width="1.00" stroke-linejoin="round"/>
<polyline points="430.0,349.3 431.7,344.2 433.4,349.7 435.0,351.7 436.7,349.2 438.4,352.0 440.1,354.4 441.8,363.7 443.4,366.7 445.1,372.8 446.8,375.5 448.5,379.8 450.2,385.8 451.8,385.7 453.5,390.0 455.2,390.0 456.9,391.7 458.6,391.6 460.2,396.2 461.9,398.0 463.6,403.2 465.3,406.1 467.0,409.3 468.6,414.5 470.3,417.0 472.0,416.6 473.7,420.1 475.4,422.6 477.0,422.3 478.7,421.8 480.4,422.9 482.1,416.0 483.8,409.9 485.4,408.2 487.1,405.4 488.8,404.5 490.5,404.9 492.2,405.6 493.8,411.7 495.5,414.9 497.2,418.2 498.9,416.3 500.6,420.8 502.3,419.9 503.9,426.0 505.6,431.0 507.3,433.2 509.0,436.7 510.7,437.7 512.3,439.6 514.0,441.7 515.7,440.5 517.4,445.4 519.1,445.6 520.7,449.3 522.4,451.3 524.1,449.6 525.8,450.1 527.5,446.2 529.1,449.3 530.8,449.6 532.5,449.6 534.2,449.6 535.9,453.4 537.5,453.4 539.2,457.5 540.9,460.0 542.6,463.6 544.3,473.6 545.9,474.6 547.6,477.9 549.3,480.8 551.0,485.6 552.7,485.5 554.3,483.9 556.0,486.8 557.7,486.8 559.4,489.4 561.1,488.3 562.7,488.2 564.4,487.7 566.1,485.2 567.8,486.1 569.5,486.9 571.1,486.7 572.8,490.7 574.5,498.0 576.2,498.3 577.9,504.2 579.5,506.1 581.2,513.2 582.9,513.3 584.6,519.9 586.3,522.6 587.9,523.3 589.6,524.1 591.3,526.8 593.0,522.2 594.7,518.3 596.3,514.2 598.0,512.3 599.7,507.3 601.4,511.5 603.1,515.1 604.7,520.5 606.4,525.1 608.1,531.2 609.8,534.0 611.5,537.1 613.1,544.6 614.8,545.9 616.5,552.2 618.2,551.5 619.9,556.0 621.5,553.8 623.2,555.1 624.9,552.2 626.6,554.3 628.3,553.8 629.9,551.3 631.6,552.2 633.3,555.8 635.0,559.1 636.7,558.5 638.4,560.2 640.0,562.6 641.7,561.3 643.4,563.3 645.1,562.7 646.8,563.8 648.4,562.8 650.1,564.6 651.8,560.0 653.5,561.6 655.2,557.9 656.8,559.0 658.5,556.2 660.2,556.9 661.9,555.8 663.6,559.6 665.2,561.0 666.9,563.2 668.6,569.4 670.3,573.4 672.0,582.8 673.6,588.6 675.3,594.3" fill="none" stroke="#ff0000" stroke-width="1.00" stroke-linejoin="round"/>
<polyline points="430.0,366.4 431.4,368.6 432.7,352.1 434.1,365.8 435.5,357.2 436.9,363.4 438.2,350.3 439.6,350.3 441.0,351.3 442.4,355.8 443.7,354.4 445.1,360.6 446.5,353.7 447.9,366.4 449.2,360.4 450.6,355.7 452.0,350.3 453.4,354.4 454.7,367.4 456.1,369.5 457.5,361.2 458.9,353.7 460.2,362.2 461.6,359.4 463.0,365.1 464.4,362.7 465.7,360.8 467.1,356.3 468.5,364.9 469.9,361.2 471.2,365.2 472.6,356.2 474.0,368.9 475.4,364.2 476.7,369.9 478.1,360.5 479.5,371.3 480.9,359.0 482.2,383.5 483.6,348.3 485.0,374.4 486.4,378.6 487.7,369.2 489.1,353.7 490.5,372.7 491.9,358.5 493.2,372.0 494.6,362.7 496.0,376.1 497.4,370.5 498.7,376.5 500.1,369.7 501.5,380.9 502.9,374.4 504.2,381.1 505.6,375.3 507.0,386.4 508.4,379.7 509.7,379.1 511.1,386.9 512.5,391.3 513.9,377.9 515.2,389.0 516.6,382.5 518.0,394.6 519.4,406.8 520.7,394.8 522.1,389.6 523.5,392.5 524.9,401.2 526.2,396.8 527.6,395.8 529.0,408.8 530.4,409.0 531.7,395.7 533.1,419.0 534.5,419.0 535.9,412.9 537.2,425.4 538.6,425.6 540.0,440.9 541.4,447.9 542.7,438.3 544.1,444.4 545.5,449.9 546.9,448.4 548.2,445.0 549.6,450.2 551.0,453.0 552.4,474.6 553.7,457.0 555.1,475.1 556.5,477.4 557.9,480.6 559.2,496.8 560.6,501.5 562.0,502.1 563.4,502.2 564.7,512.5 566.1,508.9 567.5,522.4 568.8,522.7 570.2,532.5 571.6,527.5 573.0,544.1 574.3,539.9 575.7,550.4 577.1,554.0 578.5,545.8 579.8,557.7 581.2,552.2 582.6,558.2 584.0,566.1 585.3,553.4 586.7,551.5 588.1,554.2 589.5,557.4 590.8,560.1 592.2,554.8 593.6,565.5 595.0,568.2 596.3,565.9 597.7,555.0 599.1,552.8 600.5,557.9 601.8,579.5 603.2,558.9 604.6,567.9 606.0,564.4 607.3,566.5 608.7,571.4 610.1,563.3 611.5,569.4 612.8,563.4 614.2,564.7 615.6,554.4 617.0,571.7 618.3,562.9 619.7,572.6 621.1,565.4 622.5,570.3 623.8,564.7 625.2,569.1 626.6,570.2 628.0,565.6 629.3,575.1 630.7,564.3 632.1,562.1 633.5,563.2 634.8,567.6 636.2,570.1 637.6,562.6 639.0,563.6 640.3,570.4 641.7,566.0 643.1,572.0 644.5,563.3 645.8,579.1 647.2,566.8 648.6,579.9 650.0,582.5 651.3,582.4 652.7,578.9 654.1,572.0 655.5,578.6 656.8,573.2 658.2,569.6 659.6,576.4 661.0,567.0 662.3,575.0 663.7,567.1 665.1,569.9 666.5,566.8 667.8,580.6 669.2,569.1 670.6,585.4 672.0,575.3 673.3,576.9 674.7,575.2 676.1,580.6" fill="none" stroke="#000000" stroke-width="1.00" stroke-linejoin="round"/>
</svg>
</body></html>
